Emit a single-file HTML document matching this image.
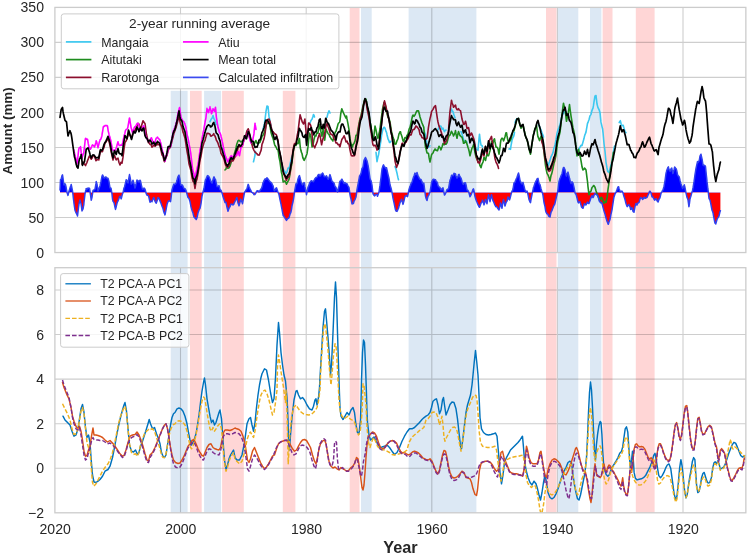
<!DOCTYPE html>
<html><head><meta charset="utf-8"><title>chart</title>
<style>
html,body{margin:0;padding:0;background:#fff;}
body{width:749px;height:556px;overflow:hidden;}
svg{display:block;}
text{font-family:"Liberation Sans",sans-serif;fill:#262626;}
.tk{font-size:14.05px;}
.lg{font-size:12.4px;}
.lg2{font-size:12.3px;}
</style></head><body>
<svg width="749" height="556" viewBox="0 0 749 556">
<rect width="749" height="556" fill="#fff"/>
<defs>
<clipPath id="c1"><rect x="54.9" y="7.4" width="690.95" height="245.15"/></clipPath>
<clipPath id="c2"><rect x="54.9" y="267.7" width="690.95" height="245.09999999999997"/></clipPath>
<clipPath id="ca"><rect x="0" y="0" width="749" height="192.5"/></clipPath>
<clipPath id="cb"><rect x="0" y="192.5" width="749" height="556"/></clipPath>
</defs>

<g>
<rect x="170.7" y="90.8" width="16.9" height="422.0" fill="#dce8f4"/>
<rect x="190.0" y="90.8" width="11.7" height="422.0" fill="#ffd6d6"/>
<rect x="204.1" y="90.8" width="17.0" height="422.0" fill="#dce8f4"/>
<rect x="222.1" y="90.8" width="21.7" height="422.0" fill="#ffd6d6"/>
<rect x="282.8" y="90.8" width="12.6" height="422.0" fill="#ffd6d6"/>
<rect x="349.7" y="7.4" width="9.8" height="505.4" fill="#ffd6d6"/>
<rect x="361.0" y="7.4" width="10.7" height="505.4" fill="#dce8f4"/>
<rect x="408.6" y="7.4" width="67.8" height="505.4" fill="#dce8f4"/>
<rect x="546.0" y="7.4" width="10.5" height="505.4" fill="#ffd6d6"/>
<rect x="557.8" y="7.4" width="20.5" height="505.4" fill="#dce8f4"/>
<rect x="590.0" y="7.4" width="11.4" height="505.4" fill="#dce8f4"/>
<rect x="602.6" y="7.4" width="9.9" height="505.4" fill="#ffd6d6"/>
<rect x="635.8" y="7.4" width="18.8" height="505.4" fill="#ffd6d6"/>
</g>
<g stroke="#cecece" stroke-width="1.1" fill="none" style="mix-blend-mode:multiply">
<path d="M180.5,7.4 V252.55 M180.5,267.7 V512.8"/>
<path d="M306.2,7.4 V252.55 M306.2,267.7 V512.8"/>
<path d="M431.8,7.4 V252.55 M431.8,267.7 V512.8"/>
<path d="M557.4,7.4 V252.55 M557.4,267.7 V512.8"/>
<path d="M683.0,7.4 V252.55 M683.0,267.7 V512.8"/>
<path d="M54.9,217.5 H745.85"/>
<path d="M54.9,182.5 H745.85"/>
<path d="M54.9,147.5 H745.85"/>
<path d="M54.9,112.5 H745.85"/>
<path d="M54.9,77.4 H745.85"/>
<path d="M54.9,42.4 H745.85"/>
<path d="M54.9,468.2 H745.85"/>
<path d="M54.9,423.7 H745.85"/>
<path d="M54.9,379.1 H745.85"/>
<path d="M54.9,334.5 H745.85"/>
<path d="M54.9,290.0 H745.85"/>
</g>
<g clip-path="url(#c1)" fill="none" stroke-linejoin="round" stroke-linecap="round">
<path d="M60.0,192.5 L60.0,190.0 L60.5,179.8 L61.0,179.6 L61.5,177.6 L62.0,175.7 L62.5,174.8 L63.0,178.2 L63.5,182.1 L63.8,184.1 L64.0,184.9 L64.5,184.3 L65.0,183.8 L65.5,184.6 L66.0,186.7 L66.5,189.6 L67.0,192.5 L67.5,193.9 L68.0,195.4 L68.5,193.3 L69.0,191.3 L69.5,189.7 L70.0,188.0 L70.5,186.6 L71.0,185.2 L71.2,184.5 L71.5,185.8 L72.0,188.3 L72.5,190.8 L73.0,194.8 L73.5,199.3 L73.8,201.5 L74.0,203.5 L74.5,206.8 L75.0,210.2 L75.5,211.5 L76.0,212.7 L76.5,213.7 L77.0,214.6 L77.5,216.0 L78.0,211.9 L78.5,207.7 L78.8,205.7 L79.0,204.0 L79.5,201.9 L80.0,199.9 L80.5,201.7 L81.0,203.5 L81.5,207.2 L82.0,210.9 L82.5,210.0 L83.0,209.0 L83.5,206.2 L83.8,204.8 L84.0,202.2 L84.5,198.1 L85.0,193.9 L85.5,191.7 L86.0,189.5 L86.2,188.5 L86.5,188.8 L87.0,189.3 L87.5,188.7 L88.0,188.0 L88.5,188.2 L89.0,188.3 L89.5,188.2 L90.0,191.3 L90.5,194.8 L91.0,198.3 L91.2,200.2 L91.5,199.2 L92.0,197.3 L92.5,193.9 L93.0,190.6 L93.5,190.2 L94.0,189.9 L94.5,189.6 L95.0,189.2 L95.5,186.3 L96.0,183.4 L96.2,181.5 L96.5,182.4 L97.0,184.1 L97.5,187.5 L98.0,191.0 L98.5,189.7 L99.0,188.4 L99.5,187.2 L100.0,186.0 L100.5,183.7 L101.0,181.4 L101.5,178.8 L102.0,176.2 L102.5,174.9 L103.0,175.7 L103.5,176.8 L104.0,177.9 L104.5,178.0 L105.0,177.4 L105.5,177.1 L106.0,176.8 L106.2,177.1 L106.5,177.5 L107.0,178.3 L107.5,178.2 L108.0,178.2 L108.5,180.0 L109.0,181.8 L109.5,184.8 L110.0,187.8 L110.5,188.0 L111.0,188.2 L111.2,189.1 L111.5,190.8 L112.0,194.1 L112.5,199.0 L113.0,201.2 L113.5,201.9 L114.0,202.5 L114.5,204.9 L115.0,207.3 L115.5,209.4 L116.0,207.5 L116.5,205.4 L117.0,203.3 L117.5,201.7 L118.0,201.0 L118.5,199.7 L119.0,198.4 L119.5,196.7 L120.0,196.3 L120.5,197.4 L121.0,198.5 L121.2,198.9 L121.5,197.8 L122.0,195.7 L122.5,193.7 L123.0,192.9 L123.5,190.5 L124.0,188.0 L124.5,187.0 L125.0,185.0 L125.5,182.8 L126.0,180.6 L126.2,179.7 L126.5,180.0 L127.0,180.7 L127.5,181.9 L128.0,183.0 L128.5,180.2 L129.0,177.4 L129.5,174.6 L130.0,176.8 L130.5,179.7 L131.0,182.7 L131.2,184.1 L131.5,183.8 L132.0,183.3 L132.5,181.8 L133.0,180.3 L133.5,182.0 L134.0,183.6 L134.5,185.8 L135.0,188.0 L135.5,186.2 L136.0,184.3 L136.5,182.2 L137.0,180.0 L137.5,180.4 L138.0,180.7 L138.5,181.3 L139.0,181.9 L139.5,181.1 L140.0,180.2 L140.5,180.9 L141.0,183.8 L141.5,185.7 L142.0,187.5 L142.5,189.0 L143.0,188.9 L143.5,188.5 L144.0,188.0 L144.5,188.6 L145.0,189.1 L145.5,191.0 L146.0,192.9 L146.5,194.1 L147.0,195.3 L147.5,195.3 L148.0,195.4 L148.5,196.2 L148.8,196.6 L149.0,197.9 L149.5,200.0 L150.0,202.2 L150.5,201.7 L151.0,201.3 L151.5,201.4 L152.0,201.6 L152.5,200.3 L153.0,199.1 L153.5,198.0 L153.8,197.5 L154.0,197.9 L154.5,199.6 L155.0,201.3 L155.5,202.1 L156.0,202.9 L156.2,203.1 L156.5,202.5 L157.0,201.1 L157.5,199.2 L158.0,197.4 L158.5,198.0 L159.0,198.6 L159.5,199.7 L160.0,200.9 L160.5,202.1 L161.0,203.3 L161.5,204.7 L162.0,206.1 L162.5,207.3 L163.0,208.6 L163.5,210.7 L163.8,211.8 L164.0,212.4 L164.5,213.6 L165.0,214.9 L165.5,212.4 L166.0,209.9 L166.5,207.2 L167.0,204.5 L167.5,203.1 L168.0,201.7 L168.5,201.1 L168.8,200.8 L169.0,201.1 L169.5,201.0 L170.0,200.9 L170.5,201.7 L171.0,198.3 L171.5,194.0 L172.0,189.7 L172.5,188.1 L173.0,186.4 L173.5,185.0 L173.8,184.3 L174.0,184.1 L174.5,184.3 L175.0,184.4 L175.5,183.8 L176.0,183.2 L176.2,182.9 L176.5,182.0 L177.0,180.3 L177.5,178.2 L178.0,176.6 L178.5,175.8 L179.0,175.1 L179.5,177.5 L180.0,179.9 L180.5,183.8 L181.0,185.2 L181.5,185.1 L182.0,184.9 L182.5,185.2 L183.0,186.4 L183.5,187.4 L184.0,188.3 L184.5,188.8 L185.0,188.7 L185.5,189.5 L186.0,190.4 L186.2,191.2 L186.5,192.1 L187.0,194.1 L187.5,195.8 L188.0,197.5 L188.5,198.0 L189.0,198.4 L189.5,199.9 L190.0,201.5 L190.5,204.2 L191.0,206.9 L191.5,208.6 L192.0,210.4 L192.5,211.7 L193.0,213.1 L193.5,215.3 L193.8,216.3 L194.0,216.9 L194.5,217.5 L195.0,218.1 L195.5,218.6 L196.0,219.0 L196.2,219.6 L196.5,219.0 L197.0,217.8 L197.5,215.3 L198.0,212.8 L198.5,211.4 L199.0,210.1 L199.5,209.2 L200.0,208.4 L200.5,206.0 L201.0,203.6 L201.5,199.9 L202.0,196.1 L202.5,194.1 L203.0,192.0 L203.5,190.2 L203.8,189.2 L204.0,188.5 L204.5,185.3 L205.0,182.0 L205.5,179.8 L206.0,178.8 L206.5,177.7 L207.0,176.6 L207.5,175.6 L208.0,175.8 L208.5,176.3 L209.0,176.8 L209.5,177.9 L210.0,179.0 L210.5,180.3 L211.0,181.7 L211.5,182.4 L212.0,183.1 L212.5,181.4 L213.0,179.7 L213.5,178.0 L213.8,177.2 L214.0,176.9 L214.5,178.0 L215.0,179.1 L215.5,179.6 L216.0,181.8 L216.5,184.2 L217.0,186.5 L217.5,186.5 L218.0,186.4 L218.5,186.1 L219.0,185.7 L219.5,187.6 L220.0,189.6 L220.5,189.9 L221.0,190.3 L221.5,191.7 L222.0,193.1 L222.5,194.6 L223.0,196.5 L223.5,198.0 L224.0,199.5 L224.5,201.0 L225.0,202.6 L225.5,202.4 L226.0,202.3 L226.2,203.5 L226.5,204.8 L227.0,207.3 L227.5,209.3 L228.0,211.2 L228.5,209.8 L229.0,208.3 L229.5,207.5 L230.0,206.6 L230.5,205.4 L231.0,204.1 L231.5,204.2 L232.0,204.3 L232.5,204.6 L233.0,205.0 L233.5,204.5 L233.8,204.3 L234.0,203.4 L234.5,202.4 L235.0,201.4 L235.5,200.5 L236.0,199.5 L236.5,198.2 L236.8,197.5 L237.0,198.3 L237.5,200.6 L238.0,202.9 L238.5,204.3 L239.0,205.7 L239.5,204.0 L240.0,202.4 L240.5,200.2 L240.8,199.1 L241.0,199.9 L241.5,201.1 L242.0,202.2 L242.5,203.7 L243.0,200.9 L243.5,197.9 L244.0,195.0 L244.5,192.5 L245.0,191.6 L245.5,190.8 L246.0,190.0 L246.5,189.5 L247.0,188.6 L247.5,186.7 L248.0,184.9 L248.2,184.4 L248.5,185.1 L249.0,186.5 L249.5,187.7 L250.0,188.9 L250.5,189.8 L251.0,190.7 L251.5,192.3 L252.0,192.2 L252.5,192.7 L253.0,193.2 L253.2,193.1 L253.5,193.6 L254.0,194.7 L254.5,194.6 L255.0,194.5 L255.5,193.6 L256.0,192.7 L256.5,191.7 L257.0,190.8 L257.5,190.7 L258.0,190.7 L258.5,191.3 L259.0,191.9 L259.5,191.5 L260.0,190.4 L260.5,189.7 L261.0,189.0 L261.5,188.2 L262.0,187.2 L262.5,185.1 L263.0,182.9 L263.2,182.4 L263.5,181.8 L264.0,180.6 L264.5,179.8 L265.0,179.0 L265.5,179.1 L266.0,179.2 L266.5,178.5 L267.0,177.8 L267.5,178.4 L268.0,179.0 L268.5,179.7 L269.0,180.4 L269.5,181.1 L270.0,181.7 L270.5,182.0 L270.8,182.1 L271.0,182.5 L271.5,183.1 L272.0,183.8 L272.5,184.9 L273.0,185.6 L273.5,187.8 L274.0,190.0 L274.5,190.7 L275.0,190.2 L275.5,189.1 L276.0,188.1 L276.5,187.8 L277.0,189.3 L277.5,190.7 L278.0,192.1 L278.2,192.6 L278.5,193.3 L279.0,194.6 L279.5,197.2 L280.0,199.7 L280.5,201.9 L281.0,204.2 L281.5,206.9 L282.0,209.3 L282.5,212.0 L283.0,214.6 L283.2,215.6 L283.5,215.8 L284.0,216.3 L284.5,217.2 L285.0,218.1 L285.5,218.9 L286.0,219.7 L286.5,220.4 L287.0,219.4 L287.5,218.9 L288.0,218.3 L288.2,218.3 L288.5,218.2 L289.0,217.8 L289.5,216.1 L290.0,214.3 L290.5,213.1 L291.0,211.9 L291.5,209.3 L292.0,205.8 L292.5,203.8 L293.0,201.8 L293.2,200.5 L293.5,198.9 L294.0,195.7 L294.5,191.9 L295.0,189.1 L295.5,186.4 L296.0,183.7 L296.5,183.7 L297.0,183.7 L297.5,181.1 L298.0,178.9 L298.5,177.6 L299.0,176.3 L299.5,175.6 L300.0,177.8 L300.5,179.6 L301.0,181.4 L301.5,182.7 L302.0,184.0 L302.5,184.9 L303.0,184.2 L303.5,183.4 L304.0,182.6 L304.5,183.2 L305.0,186.9 L305.5,189.2 L306.0,191.5 L306.5,194.7 L307.0,192.2 L307.5,189.7 L308.0,187.2 L308.5,186.1 L309.0,185.1 L309.5,183.1 L310.0,182.2 L310.5,181.7 L311.0,181.1 L311.5,180.7 L312.0,181.2 L312.5,181.2 L313.0,181.3 L313.2,181.8 L313.5,181.4 L314.0,180.7 L314.5,179.6 L315.0,178.5 L315.5,178.0 L316.0,177.4 L316.5,177.4 L317.0,177.3 L317.5,176.2 L318.0,175.1 L318.5,174.7 L319.0,174.4 L319.5,175.3 L320.0,176.1 L320.5,175.7 L320.8,175.4 L321.0,174.3 L321.5,174.1 L322.0,173.9 L322.5,173.0 L323.0,173.5 L323.5,174.8 L324.0,176.0 L324.5,176.7 L325.0,176.4 L325.5,176.4 L326.0,176.4 L326.5,175.9 L327.0,176.8 L327.5,177.9 L328.0,179.0 L328.2,179.2 L328.5,178.6 L329.0,177.5 L329.5,176.0 L330.0,174.6 L330.5,176.3 L331.0,178.0 L331.5,179.6 L332.0,181.2 L332.5,181.7 L333.0,182.2 L333.5,182.6 L334.0,183.0 L334.5,184.8 L335.0,186.6 L335.5,186.8 L335.8,187.0 L336.0,187.4 L336.5,189.2 L337.0,191.1 L337.5,192.0 L338.0,189.4 L338.5,187.7 L339.0,186.1 L339.5,182.8 L340.0,181.1 L340.5,180.9 L341.0,180.7 L341.5,179.5 L342.0,179.2 L342.5,180.3 L343.0,181.5 L343.5,182.2 L344.0,183.6 L344.5,183.0 L345.0,182.5 L345.5,183.6 L346.0,183.4 L346.5,183.6 L347.0,183.8 L347.5,184.8 L348.0,185.8 L348.5,186.7 L349.0,187.5 L349.5,191.1 L350.0,194.7 L350.5,197.0 L351.0,198.9 L351.5,201.4 L352.0,203.9 L352.5,203.8 L353.0,203.7 L353.5,203.3 L354.0,201.3 L354.5,200.4 L355.0,199.6 L355.5,198.2 L356.0,196.9 L356.5,193.6 L357.0,189.6 L357.5,187.0 L358.0,184.3 L358.5,181.7 L359.0,179.1 L359.5,176.1 L360.0,175.5 L360.5,174.4 L361.0,173.3 L361.5,170.8 L362.0,168.3 L362.5,168.0 L363.0,166.8 L363.5,163.6 L364.0,160.3 L364.5,159.3 L365.0,158.3 L365.5,157.5 L366.0,158.7 L366.5,159.7 L367.0,160.8 L367.5,163.0 L368.0,165.1 L368.5,168.1 L369.0,171.4 L369.5,175.0 L370.0,178.5 L370.5,179.7 L371.0,180.8 L371.5,182.8 L372.0,185.2 L372.5,189.5 L373.0,193.8 L373.5,194.5 L374.0,195.2 L374.5,195.9 L375.0,195.4 L375.5,194.8 L376.0,194.3 L376.5,194.5 L377.0,194.7 L377.5,196.2 L378.0,194.7 L378.5,193.4 L379.0,192.1 L379.5,188.7 L380.0,185.4 L380.5,181.4 L381.0,177.8 L381.5,173.4 L382.0,169.0 L382.5,167.4 L383.0,165.8 L383.5,164.9 L384.0,166.1 L384.5,166.7 L385.0,167.3 L385.5,167.9 L386.0,168.6 L386.5,167.7 L387.0,169.8 L387.5,172.1 L388.0,174.3 L388.5,176.4 L389.0,178.5 L389.5,181.6 L390.0,184.8 L390.5,186.4 L391.0,188.0 L391.5,190.2 L392.0,192.3 L392.5,195.1 L393.0,198.0 L393.5,200.4 L394.0,202.7 L394.5,205.1 L395.0,207.6 L395.5,209.9 L396.0,211.0 L396.5,211.2 L397.0,211.4 L397.5,210.4 L398.0,209.3 L398.5,208.2 L399.0,206.3 L399.5,204.5 L400.0,202.7 L400.5,201.6 L401.0,200.5 L401.5,199.2 L402.0,200.9 L402.5,202.6 L403.0,204.4 L403.5,202.6 L404.0,200.8 L404.5,198.3 L405.0,196.6 L405.5,196.0 L406.0,195.5 L406.5,195.8 L407.0,196.2 L407.5,196.6 L408.0,194.6 L408.5,192.0 L409.0,189.4 L409.5,187.9 L410.0,186.3 L410.5,185.2 L411.0,183.7 L411.5,182.9 L412.0,182.1 L412.5,180.4 L413.0,178.7 L413.5,177.1 L414.0,176.0 L414.5,174.5 L415.0,173.1 L415.5,173.8 L416.0,174.6 L416.5,174.0 L417.0,172.5 L417.5,174.1 L418.0,175.6 L418.5,176.6 L419.0,177.6 L419.5,178.6 L420.0,179.2 L420.5,179.4 L421.0,179.5 L421.5,180.6 L422.0,181.6 L422.5,183.3 L423.0,183.8 L423.5,183.3 L423.8,183.1 L424.0,184.7 L424.5,188.5 L425.0,192.3 L425.5,196.1 L426.0,198.2 L426.5,199.4 L427.0,200.5 L427.5,198.4 L428.0,196.3 L428.5,195.6 L429.0,194.6 L429.5,193.3 L430.0,192.1 L430.5,189.2 L431.0,186.3 L431.5,182.8 L432.0,181.2 L432.5,180.3 L433.0,179.4 L433.5,179.2 L434.0,179.6 L434.5,179.6 L435.0,179.6 L435.5,179.8 L436.0,181.0 L436.5,181.5 L437.0,182.0 L437.5,183.0 L438.0,185.6 L438.5,186.2 L439.0,186.9 L439.5,187.2 L440.0,187.6 L440.5,188.7 L441.0,189.9 L441.5,189.4 L442.0,188.9 L442.5,188.4 L443.0,187.8 L443.5,190.4 L444.0,192.9 L444.5,195.0 L445.0,194.4 L445.5,193.4 L446.0,192.5 L446.5,190.7 L447.0,189.6 L447.5,189.3 L448.0,189.0 L448.5,188.8 L449.0,186.1 L449.5,183.2 L450.0,180.3 L450.5,179.0 L451.0,177.6 L451.5,175.4 L452.0,175.1 L452.5,175.4 L453.0,175.7 L453.5,175.1 L454.0,173.3 L454.5,173.7 L455.0,174.1 L455.5,173.8 L456.0,176.0 L456.5,177.0 L457.0,178.1 L457.5,177.3 L458.0,176.5 L458.5,174.6 L459.0,174.4 L459.5,175.6 L460.0,176.7 L460.5,177.4 L461.0,178.0 L461.5,179.7 L462.0,181.4 L462.5,182.7 L463.0,184.1 L463.5,184.4 L464.0,183.2 L464.5,183.0 L465.0,182.7 L465.5,183.0 L466.0,184.7 L466.5,187.3 L467.0,189.9 L467.5,190.2 L468.0,190.5 L468.5,191.6 L469.0,193.1 L469.5,194.9 L470.0,196.7 L470.5,195.8 L471.0,194.9 L471.5,193.7 L472.0,192.3 L472.5,190.8 L473.0,189.3 L473.5,188.9 L474.0,191.0 L474.5,193.8 L475.0,196.6 L475.5,198.2 L476.0,199.7 L476.5,201.2 L477.0,202.3 L477.5,203.5 L478.0,204.7 L478.5,205.7 L479.0,206.7 L479.5,207.3 L480.0,206.1 L480.5,204.7 L481.0,203.3 L481.5,202.6 L482.0,201.9 L482.5,200.1 L483.0,201.2 L483.5,203.0 L484.0,204.9 L484.5,203.3 L485.0,201.7 L485.5,199.5 L486.0,200.7 L486.5,202.2 L487.0,203.7 L487.5,200.5 L488.0,197.4 L488.5,194.8 L489.0,196.7 L489.5,199.2 L490.0,201.7 L490.5,199.3 L491.0,196.8 L491.5,194.7 L492.0,197.2 L492.5,198.9 L493.0,200.7 L493.5,201.7 L494.0,202.7 L494.5,204.1 L495.0,205.2 L495.5,206.0 L496.0,206.8 L496.5,206.8 L497.0,206.9 L497.5,208.0 L498.0,208.7 L498.5,209.3 L499.0,209.9 L499.5,208.0 L500.0,206.1 L500.5,203.0 L501.0,204.2 L501.5,206.2 L502.0,208.2 L502.5,204.8 L503.0,201.4 L503.5,199.4 L504.0,201.6 L504.5,203.8 L505.0,206.0 L505.5,204.4 L506.0,202.7 L506.5,201.7 L507.0,201.1 L507.5,199.0 L508.0,196.9 L508.5,198.1 L509.0,199.2 L509.5,199.9 L510.0,198.5 L510.5,196.5 L511.0,194.6 L511.5,192.8 L512.0,191.1 L512.5,190.4 L513.0,189.0 L513.5,186.0 L514.0,182.9 L514.5,182.6 L515.0,182.2 L515.5,180.6 L516.0,179.5 L516.5,178.4 L517.0,177.3 L517.5,175.8 L518.0,174.3 L518.5,172.9 L519.0,174.9 L519.5,177.6 L520.0,180.4 L520.5,181.4 L521.0,182.5 L521.5,183.7 L522.0,183.8 L522.5,183.1 L523.0,182.4 L523.5,184.4 L524.0,186.3 L524.5,188.2 L525.0,189.7 L525.5,191.0 L526.0,192.4 L526.5,191.7 L527.0,191.1 L527.5,192.5 L528.0,194.7 L528.5,197.1 L529.0,199.5 L529.5,200.8 L530.0,202.0 L530.5,202.6 L531.0,199.5 L531.5,197.1 L532.0,194.6 L532.5,192.2 L533.0,189.9 L533.5,187.4 L534.0,186.3 L534.5,184.7 L535.0,183.1 L535.5,182.1 L536.0,181.1 L536.5,180.1 L537.0,179.0 L537.5,178.7 L538.0,178.4 L538.5,180.8 L539.0,183.3 L539.5,184.1 L540.0,184.6 L540.5,186.7 L541.0,188.7 L541.5,190.5 L542.0,192.3 L542.5,193.0 L543.0,195.4 L543.5,198.9 L544.0,202.5 L544.5,204.6 L545.0,206.6 L545.5,210.0 L546.0,212.1 L546.5,213.0 L547.0,213.8 L547.5,214.1 L548.0,214.3 L548.5,216.0 L549.0,216.4 L549.5,216.7 L550.0,217.0 L550.5,214.7 L551.0,212.5 L551.5,211.3 L552.0,210.6 L552.5,209.1 L553.0,207.7 L553.5,206.5 L554.0,205.3 L554.5,204.7 L555.0,203.2 L555.5,201.0 L556.0,198.8 L556.5,196.7 L557.0,194.6 L557.5,192.3 L558.0,189.6 L558.5,185.5 L559.0,181.5 L559.5,179.9 L560.0,178.3 L560.5,177.3 L561.0,175.9 L561.5,174.8 L562.0,173.7 L562.5,171.3 L563.0,168.9 L563.5,167.4 L564.0,167.5 L564.5,168.6 L565.0,169.6 L565.5,172.4 L566.0,175.2 L566.5,176.1 L567.0,174.0 L567.5,173.1 L568.0,172.1 L568.5,174.1 L569.0,176.1 L569.5,178.3 L570.0,180.1 L570.5,181.8 L571.0,183.5 L571.5,182.7 L572.0,181.8 L572.5,182.3 L573.0,183.1 L573.5,185.3 L574.0,187.5 L574.5,190.1 L575.0,192.7 L575.5,194.0 L576.0,194.0 L576.5,196.0 L577.0,197.9 L577.5,200.0 L578.0,202.1 L578.5,202.9 L579.0,202.0 L579.5,201.9 L580.0,201.8 L580.5,203.5 L581.0,205.1 L581.5,207.0 L582.0,207.6 L582.5,207.9 L583.0,208.3 L583.5,206.6 L584.0,204.9 L584.5,203.6 L585.0,204.7 L585.5,204.8 L586.0,204.9 L586.5,203.9 L587.0,202.9 L587.5,202.1 L588.0,203.3 L588.5,203.4 L589.0,203.5 L589.5,202.1 L590.0,200.7 L590.5,199.3 L591.0,197.8 L591.5,196.8 L592.0,195.7 L592.5,196.6 L593.0,197.6 L593.5,196.8 L594.0,195.3 L594.5,194.4 L595.0,193.6 L595.5,193.9 L596.0,194.3 L596.5,194.6 L597.0,194.9 L597.5,195.6 L598.0,196.2 L598.5,198.1 L599.0,199.9 L599.5,201.6 L600.0,201.9 L600.5,202.4 L601.0,202.9 L601.4,202.5 L601.5,202.6 L602.0,203.5 L602.5,205.4 L603.0,207.4 L603.5,209.1 L603.7,209.9 L604.0,211.0 L604.5,212.6 L605.0,214.1 L605.5,216.0 L606.0,217.9 L606.0,218.0 L606.5,219.6 L607.0,221.3 L607.5,222.5 L608.0,223.8 L608.3,224.3 L608.5,223.7 L609.0,222.1 L609.5,220.8 L610.0,219.5 L610.0,219.4 L610.5,216.8 L611.0,214.2 L611.5,212.1 L611.7,211.2 L612.0,209.8 L612.5,206.5 L613.0,203.2 L613.5,200.0 L613.5,199.7 L614.0,196.9 L614.5,195.5 L615.0,194.0 L615.2,193.5 L615.5,193.0 L616.0,192.4 L616.5,190.9 L616.9,189.8 L617.0,189.6 L617.5,188.3 L618.0,187.0 L618.5,186.8 L618.6,186.8 L619.0,188.4 L619.5,189.7 L620.0,191.1 L620.3,191.9 L620.5,191.8 L621.0,191.5 L621.5,191.3 L622.0,191.2 L622.0,191.1 L622.5,192.0 L623.0,192.9 L623.5,194.7 L623.7,195.6 L624.0,196.6 L624.5,198.0 L625.0,199.5 L625.5,201.5 L625.5,201.7 L626.0,203.5 L626.5,204.9 L627.0,206.3 L627.2,206.6 L627.5,206.2 L628.0,205.5 L628.5,204.9 L628.9,204.5 L629.0,204.8 L629.5,205.9 L630.0,206.9 L630.5,209.0 L630.6,209.4 L631.0,209.4 L631.5,208.5 L632.0,207.7 L632.3,208.4 L632.5,209.2 L633.0,211.4 L633.5,211.8 L634.0,212.2 L634.0,212.1 L634.5,209.5 L635.0,206.6 L635.5,204.9 L635.8,204.0 L636.0,203.4 L636.5,204.2 L637.0,205.1 L637.5,203.8 L637.5,203.8 L638.0,202.8 L638.5,202.7 L639.0,202.5 L639.2,202.1 L639.5,201.0 L640.0,199.1 L640.5,198.2 L640.9,197.6 L641.0,197.7 L641.5,198.1 L642.0,198.4 L642.5,199.3 L642.6,199.5 L643.0,199.2 L643.5,198.2 L644.0,197.2 L644.3,197.1 L644.5,197.4 L645.0,198.4 L645.5,198.1 L646.0,197.8 L646.0,197.9 L646.5,197.7 L647.0,197.6 L647.5,196.3 L647.8,195.7 L648.0,195.1 L648.5,194.2 L649.0,193.2 L649.5,191.4 L649.5,191.4 L650.0,191.2 L650.5,192.0 L651.0,192.9 L651.2,193.7 L651.5,194.9 L652.0,196.9 L652.5,197.0 L652.9,197.0 L653.0,197.0 L653.5,198.1 L654.0,199.1 L654.5,200.0 L654.6,200.2 L655.0,199.9 L655.5,199.3 L656.0,198.7 L656.3,198.7 L656.5,199.2 L657.0,200.7 L657.5,201.3 L658.0,201.9 L658.1,202.0 L658.5,200.7 L659.0,199.2 L659.5,198.5 L659.8,198.1 L660.0,197.7 L660.5,195.6 L661.0,193.4 L661.5,192.4 L661.5,192.4 L662.0,191.7 L662.5,190.7 L663.0,189.7 L663.2,189.3 L663.5,188.3 L664.0,186.5 L664.5,183.7 L664.9,181.3 L665.0,180.8 L665.5,177.1 L666.0,173.5 L666.5,171.4 L666.6,170.8 L667.0,169.9 L667.5,168.6 L668.0,167.4 L668.4,166.8 L668.5,167.4 L669.0,169.4 L669.5,170.3 L670.0,171.2 L670.1,171.3 L670.5,170.2 L671.0,168.9 L671.5,168.4 L671.8,168.1 L672.0,169.3 L672.5,171.6 L672.9,173.5 L673.0,173.2 L673.5,171.5 L674.0,169.7 L674.5,167.6 L674.6,167.0 L675.0,167.3 L675.5,168.1 L676.0,168.9 L676.4,169.0 L676.5,169.7 L677.0,172.0 L677.5,174.6 L678.0,175.6 L678.5,176.1 L679.0,176.5 L679.2,177.0 L679.5,178.2 L680.0,180.5 L680.5,182.3 L680.9,183.8 L681.0,184.0 L681.5,185.5 L682.0,187.0 L682.5,188.1 L682.6,188.4 L683.0,187.7 L683.5,186.6 L684.0,185.5 L684.4,184.8 L684.5,185.4 L685.0,187.7 L685.5,190.4 L686.0,193.0 L686.1,193.4 L686.5,195.2 L687.0,197.4 L687.5,198.5 L687.8,199.2 L688.0,199.8 L688.5,203.5 L688.9,206.7 L689.0,206.5 L689.5,202.8 L690.0,199.0 L690.5,197.2 L690.7,196.7 L691.0,195.7 L691.5,193.9 L692.0,192.1 L692.4,190.9 L692.5,190.3 L693.0,187.9 L693.5,184.8 L694.0,181.7 L694.1,181.2 L694.5,178.3 L695.0,174.7 L695.5,171.5 L695.8,169.6 L696.0,168.5 L696.5,166.2 L697.0,163.9 L697.5,161.6 L697.5,161.5 L698.0,162.5 L698.5,161.8 L699.0,161.0 L699.2,160.6 L699.5,159.1 L700.0,156.1 L700.5,155.1 L701.0,154.2 L701.0,154.4 L701.5,156.6 L702.0,158.8 L702.1,159.2 L702.5,161.8 L703.0,165.1 L703.5,165.4 L703.8,165.6 L704.0,165.1 L704.5,165.4 L705.0,165.6 L705.5,166.6 L705.5,166.6 L706.0,171.8 L706.5,176.6 L706.7,178.2 L707.0,181.4 L707.5,185.7 L707.8,188.5 L708.0,189.6 L708.5,194.1 L709.0,198.3 L709.0,198.5 L709.5,199.4 L710.0,200.2 L710.5,202.4 L710.7,203.1 L711.0,204.8 L711.5,207.5 L712.0,210.2 L712.4,211.0 L712.5,211.3 L713.0,212.7 L713.5,215.7 L713.5,215.9 L714.0,218.0 L714.5,220.8 L714.7,221.8 L715.0,223.2 L715.5,223.6 L715.8,223.9 L716.0,223.1 L716.5,221.3 L717.0,219.5 L717.5,218.5 L717.5,218.5 L718.0,217.6 L718.5,216.9 L719.0,216.1 L719.2,215.0 L719.5,213.9 L720.0,211.7 L720.4,210.8 L720.4,192.5Z" fill="#0000ff" stroke="none" clip-path="url(#ca)"/>
<path d="M60.0,192.5 L60.0,190.0 L60.5,179.8 L61.0,179.6 L61.5,177.6 L62.0,175.7 L62.5,174.8 L63.0,178.2 L63.5,182.1 L63.8,184.1 L64.0,184.9 L64.5,184.3 L65.0,183.8 L65.5,184.6 L66.0,186.7 L66.5,189.6 L67.0,192.5 L67.5,193.9 L68.0,195.4 L68.5,193.3 L69.0,191.3 L69.5,189.7 L70.0,188.0 L70.5,186.6 L71.0,185.2 L71.2,184.5 L71.5,185.8 L72.0,188.3 L72.5,190.8 L73.0,194.8 L73.5,199.3 L73.8,201.5 L74.0,203.5 L74.5,206.8 L75.0,210.2 L75.5,211.5 L76.0,212.7 L76.5,213.7 L77.0,214.6 L77.5,216.0 L78.0,211.9 L78.5,207.7 L78.8,205.7 L79.0,204.0 L79.5,201.9 L80.0,199.9 L80.5,201.7 L81.0,203.5 L81.5,207.2 L82.0,210.9 L82.5,210.0 L83.0,209.0 L83.5,206.2 L83.8,204.8 L84.0,202.2 L84.5,198.1 L85.0,193.9 L85.5,191.7 L86.0,189.5 L86.2,188.5 L86.5,188.8 L87.0,189.3 L87.5,188.7 L88.0,188.0 L88.5,188.2 L89.0,188.3 L89.5,188.2 L90.0,191.3 L90.5,194.8 L91.0,198.3 L91.2,200.2 L91.5,199.2 L92.0,197.3 L92.5,193.9 L93.0,190.6 L93.5,190.2 L94.0,189.9 L94.5,189.6 L95.0,189.2 L95.5,186.3 L96.0,183.4 L96.2,181.5 L96.5,182.4 L97.0,184.1 L97.5,187.5 L98.0,191.0 L98.5,189.7 L99.0,188.4 L99.5,187.2 L100.0,186.0 L100.5,183.7 L101.0,181.4 L101.5,178.8 L102.0,176.2 L102.5,174.9 L103.0,175.7 L103.5,176.8 L104.0,177.9 L104.5,178.0 L105.0,177.4 L105.5,177.1 L106.0,176.8 L106.2,177.1 L106.5,177.5 L107.0,178.3 L107.5,178.2 L108.0,178.2 L108.5,180.0 L109.0,181.8 L109.5,184.8 L110.0,187.8 L110.5,188.0 L111.0,188.2 L111.2,189.1 L111.5,190.8 L112.0,194.1 L112.5,199.0 L113.0,201.2 L113.5,201.9 L114.0,202.5 L114.5,204.9 L115.0,207.3 L115.5,209.4 L116.0,207.5 L116.5,205.4 L117.0,203.3 L117.5,201.7 L118.0,201.0 L118.5,199.7 L119.0,198.4 L119.5,196.7 L120.0,196.3 L120.5,197.4 L121.0,198.5 L121.2,198.9 L121.5,197.8 L122.0,195.7 L122.5,193.7 L123.0,192.9 L123.5,190.5 L124.0,188.0 L124.5,187.0 L125.0,185.0 L125.5,182.8 L126.0,180.6 L126.2,179.7 L126.5,180.0 L127.0,180.7 L127.5,181.9 L128.0,183.0 L128.5,180.2 L129.0,177.4 L129.5,174.6 L130.0,176.8 L130.5,179.7 L131.0,182.7 L131.2,184.1 L131.5,183.8 L132.0,183.3 L132.5,181.8 L133.0,180.3 L133.5,182.0 L134.0,183.6 L134.5,185.8 L135.0,188.0 L135.5,186.2 L136.0,184.3 L136.5,182.2 L137.0,180.0 L137.5,180.4 L138.0,180.7 L138.5,181.3 L139.0,181.9 L139.5,181.1 L140.0,180.2 L140.5,180.9 L141.0,183.8 L141.5,185.7 L142.0,187.5 L142.5,189.0 L143.0,188.9 L143.5,188.5 L144.0,188.0 L144.5,188.6 L145.0,189.1 L145.5,191.0 L146.0,192.9 L146.5,194.1 L147.0,195.3 L147.5,195.3 L148.0,195.4 L148.5,196.2 L148.8,196.6 L149.0,197.9 L149.5,200.0 L150.0,202.2 L150.5,201.7 L151.0,201.3 L151.5,201.4 L152.0,201.6 L152.5,200.3 L153.0,199.1 L153.5,198.0 L153.8,197.5 L154.0,197.9 L154.5,199.6 L155.0,201.3 L155.5,202.1 L156.0,202.9 L156.2,203.1 L156.5,202.5 L157.0,201.1 L157.5,199.2 L158.0,197.4 L158.5,198.0 L159.0,198.6 L159.5,199.7 L160.0,200.9 L160.5,202.1 L161.0,203.3 L161.5,204.7 L162.0,206.1 L162.5,207.3 L163.0,208.6 L163.5,210.7 L163.8,211.8 L164.0,212.4 L164.5,213.6 L165.0,214.9 L165.5,212.4 L166.0,209.9 L166.5,207.2 L167.0,204.5 L167.5,203.1 L168.0,201.7 L168.5,201.1 L168.8,200.8 L169.0,201.1 L169.5,201.0 L170.0,200.9 L170.5,201.7 L171.0,198.3 L171.5,194.0 L172.0,189.7 L172.5,188.1 L173.0,186.4 L173.5,185.0 L173.8,184.3 L174.0,184.1 L174.5,184.3 L175.0,184.4 L175.5,183.8 L176.0,183.2 L176.2,182.9 L176.5,182.0 L177.0,180.3 L177.5,178.2 L178.0,176.6 L178.5,175.8 L179.0,175.1 L179.5,177.5 L180.0,179.9 L180.5,183.8 L181.0,185.2 L181.5,185.1 L182.0,184.9 L182.5,185.2 L183.0,186.4 L183.5,187.4 L184.0,188.3 L184.5,188.8 L185.0,188.7 L185.5,189.5 L186.0,190.4 L186.2,191.2 L186.5,192.1 L187.0,194.1 L187.5,195.8 L188.0,197.5 L188.5,198.0 L189.0,198.4 L189.5,199.9 L190.0,201.5 L190.5,204.2 L191.0,206.9 L191.5,208.6 L192.0,210.4 L192.5,211.7 L193.0,213.1 L193.5,215.3 L193.8,216.3 L194.0,216.9 L194.5,217.5 L195.0,218.1 L195.5,218.6 L196.0,219.0 L196.2,219.6 L196.5,219.0 L197.0,217.8 L197.5,215.3 L198.0,212.8 L198.5,211.4 L199.0,210.1 L199.5,209.2 L200.0,208.4 L200.5,206.0 L201.0,203.6 L201.5,199.9 L202.0,196.1 L202.5,194.1 L203.0,192.0 L203.5,190.2 L203.8,189.2 L204.0,188.5 L204.5,185.3 L205.0,182.0 L205.5,179.8 L206.0,178.8 L206.5,177.7 L207.0,176.6 L207.5,175.6 L208.0,175.8 L208.5,176.3 L209.0,176.8 L209.5,177.9 L210.0,179.0 L210.5,180.3 L211.0,181.7 L211.5,182.4 L212.0,183.1 L212.5,181.4 L213.0,179.7 L213.5,178.0 L213.8,177.2 L214.0,176.9 L214.5,178.0 L215.0,179.1 L215.5,179.6 L216.0,181.8 L216.5,184.2 L217.0,186.5 L217.5,186.5 L218.0,186.4 L218.5,186.1 L219.0,185.7 L219.5,187.6 L220.0,189.6 L220.5,189.9 L221.0,190.3 L221.5,191.7 L222.0,193.1 L222.5,194.6 L223.0,196.5 L223.5,198.0 L224.0,199.5 L224.5,201.0 L225.0,202.6 L225.5,202.4 L226.0,202.3 L226.2,203.5 L226.5,204.8 L227.0,207.3 L227.5,209.3 L228.0,211.2 L228.5,209.8 L229.0,208.3 L229.5,207.5 L230.0,206.6 L230.5,205.4 L231.0,204.1 L231.5,204.2 L232.0,204.3 L232.5,204.6 L233.0,205.0 L233.5,204.5 L233.8,204.3 L234.0,203.4 L234.5,202.4 L235.0,201.4 L235.5,200.5 L236.0,199.5 L236.5,198.2 L236.8,197.5 L237.0,198.3 L237.5,200.6 L238.0,202.9 L238.5,204.3 L239.0,205.7 L239.5,204.0 L240.0,202.4 L240.5,200.2 L240.8,199.1 L241.0,199.9 L241.5,201.1 L242.0,202.2 L242.5,203.7 L243.0,200.9 L243.5,197.9 L244.0,195.0 L244.5,192.5 L245.0,191.6 L245.5,190.8 L246.0,190.0 L246.5,189.5 L247.0,188.6 L247.5,186.7 L248.0,184.9 L248.2,184.4 L248.5,185.1 L249.0,186.5 L249.5,187.7 L250.0,188.9 L250.5,189.8 L251.0,190.7 L251.5,192.3 L252.0,192.2 L252.5,192.7 L253.0,193.2 L253.2,193.1 L253.5,193.6 L254.0,194.7 L254.5,194.6 L255.0,194.5 L255.5,193.6 L256.0,192.7 L256.5,191.7 L257.0,190.8 L257.5,190.7 L258.0,190.7 L258.5,191.3 L259.0,191.9 L259.5,191.5 L260.0,190.4 L260.5,189.7 L261.0,189.0 L261.5,188.2 L262.0,187.2 L262.5,185.1 L263.0,182.9 L263.2,182.4 L263.5,181.8 L264.0,180.6 L264.5,179.8 L265.0,179.0 L265.5,179.1 L266.0,179.2 L266.5,178.5 L267.0,177.8 L267.5,178.4 L268.0,179.0 L268.5,179.7 L269.0,180.4 L269.5,181.1 L270.0,181.7 L270.5,182.0 L270.8,182.1 L271.0,182.5 L271.5,183.1 L272.0,183.8 L272.5,184.9 L273.0,185.6 L273.5,187.8 L274.0,190.0 L274.5,190.7 L275.0,190.2 L275.5,189.1 L276.0,188.1 L276.5,187.8 L277.0,189.3 L277.5,190.7 L278.0,192.1 L278.2,192.6 L278.5,193.3 L279.0,194.6 L279.5,197.2 L280.0,199.7 L280.5,201.9 L281.0,204.2 L281.5,206.9 L282.0,209.3 L282.5,212.0 L283.0,214.6 L283.2,215.6 L283.5,215.8 L284.0,216.3 L284.5,217.2 L285.0,218.1 L285.5,218.9 L286.0,219.7 L286.5,220.4 L287.0,219.4 L287.5,218.9 L288.0,218.3 L288.2,218.3 L288.5,218.2 L289.0,217.8 L289.5,216.1 L290.0,214.3 L290.5,213.1 L291.0,211.9 L291.5,209.3 L292.0,205.8 L292.5,203.8 L293.0,201.8 L293.2,200.5 L293.5,198.9 L294.0,195.7 L294.5,191.9 L295.0,189.1 L295.5,186.4 L296.0,183.7 L296.5,183.7 L297.0,183.7 L297.5,181.1 L298.0,178.9 L298.5,177.6 L299.0,176.3 L299.5,175.6 L300.0,177.8 L300.5,179.6 L301.0,181.4 L301.5,182.7 L302.0,184.0 L302.5,184.9 L303.0,184.2 L303.5,183.4 L304.0,182.6 L304.5,183.2 L305.0,186.9 L305.5,189.2 L306.0,191.5 L306.5,194.7 L307.0,192.2 L307.5,189.7 L308.0,187.2 L308.5,186.1 L309.0,185.1 L309.5,183.1 L310.0,182.2 L310.5,181.7 L311.0,181.1 L311.5,180.7 L312.0,181.2 L312.5,181.2 L313.0,181.3 L313.2,181.8 L313.5,181.4 L314.0,180.7 L314.5,179.6 L315.0,178.5 L315.5,178.0 L316.0,177.4 L316.5,177.4 L317.0,177.3 L317.5,176.2 L318.0,175.1 L318.5,174.7 L319.0,174.4 L319.5,175.3 L320.0,176.1 L320.5,175.7 L320.8,175.4 L321.0,174.3 L321.5,174.1 L322.0,173.9 L322.5,173.0 L323.0,173.5 L323.5,174.8 L324.0,176.0 L324.5,176.7 L325.0,176.4 L325.5,176.4 L326.0,176.4 L326.5,175.9 L327.0,176.8 L327.5,177.9 L328.0,179.0 L328.2,179.2 L328.5,178.6 L329.0,177.5 L329.5,176.0 L330.0,174.6 L330.5,176.3 L331.0,178.0 L331.5,179.6 L332.0,181.2 L332.5,181.7 L333.0,182.2 L333.5,182.6 L334.0,183.0 L334.5,184.8 L335.0,186.6 L335.5,186.8 L335.8,187.0 L336.0,187.4 L336.5,189.2 L337.0,191.1 L337.5,192.0 L338.0,189.4 L338.5,187.7 L339.0,186.1 L339.5,182.8 L340.0,181.1 L340.5,180.9 L341.0,180.7 L341.5,179.5 L342.0,179.2 L342.5,180.3 L343.0,181.5 L343.5,182.2 L344.0,183.6 L344.5,183.0 L345.0,182.5 L345.5,183.6 L346.0,183.4 L346.5,183.6 L347.0,183.8 L347.5,184.8 L348.0,185.8 L348.5,186.7 L349.0,187.5 L349.5,191.1 L350.0,194.7 L350.5,197.0 L351.0,198.9 L351.5,201.4 L352.0,203.9 L352.5,203.8 L353.0,203.7 L353.5,203.3 L354.0,201.3 L354.5,200.4 L355.0,199.6 L355.5,198.2 L356.0,196.9 L356.5,193.6 L357.0,189.6 L357.5,187.0 L358.0,184.3 L358.5,181.7 L359.0,179.1 L359.5,176.1 L360.0,175.5 L360.5,174.4 L361.0,173.3 L361.5,170.8 L362.0,168.3 L362.5,168.0 L363.0,166.8 L363.5,163.6 L364.0,160.3 L364.5,159.3 L365.0,158.3 L365.5,157.5 L366.0,158.7 L366.5,159.7 L367.0,160.8 L367.5,163.0 L368.0,165.1 L368.5,168.1 L369.0,171.4 L369.5,175.0 L370.0,178.5 L370.5,179.7 L371.0,180.8 L371.5,182.8 L372.0,185.2 L372.5,189.5 L373.0,193.8 L373.5,194.5 L374.0,195.2 L374.5,195.9 L375.0,195.4 L375.5,194.8 L376.0,194.3 L376.5,194.5 L377.0,194.7 L377.5,196.2 L378.0,194.7 L378.5,193.4 L379.0,192.1 L379.5,188.7 L380.0,185.4 L380.5,181.4 L381.0,177.8 L381.5,173.4 L382.0,169.0 L382.5,167.4 L383.0,165.8 L383.5,164.9 L384.0,166.1 L384.5,166.7 L385.0,167.3 L385.5,167.9 L386.0,168.6 L386.5,167.7 L387.0,169.8 L387.5,172.1 L388.0,174.3 L388.5,176.4 L389.0,178.5 L389.5,181.6 L390.0,184.8 L390.5,186.4 L391.0,188.0 L391.5,190.2 L392.0,192.3 L392.5,195.1 L393.0,198.0 L393.5,200.4 L394.0,202.7 L394.5,205.1 L395.0,207.6 L395.5,209.9 L396.0,211.0 L396.5,211.2 L397.0,211.4 L397.5,210.4 L398.0,209.3 L398.5,208.2 L399.0,206.3 L399.5,204.5 L400.0,202.7 L400.5,201.6 L401.0,200.5 L401.5,199.2 L402.0,200.9 L402.5,202.6 L403.0,204.4 L403.5,202.6 L404.0,200.8 L404.5,198.3 L405.0,196.6 L405.5,196.0 L406.0,195.5 L406.5,195.8 L407.0,196.2 L407.5,196.6 L408.0,194.6 L408.5,192.0 L409.0,189.4 L409.5,187.9 L410.0,186.3 L410.5,185.2 L411.0,183.7 L411.5,182.9 L412.0,182.1 L412.5,180.4 L413.0,178.7 L413.5,177.1 L414.0,176.0 L414.5,174.5 L415.0,173.1 L415.5,173.8 L416.0,174.6 L416.5,174.0 L417.0,172.5 L417.5,174.1 L418.0,175.6 L418.5,176.6 L419.0,177.6 L419.5,178.6 L420.0,179.2 L420.5,179.4 L421.0,179.5 L421.5,180.6 L422.0,181.6 L422.5,183.3 L423.0,183.8 L423.5,183.3 L423.8,183.1 L424.0,184.7 L424.5,188.5 L425.0,192.3 L425.5,196.1 L426.0,198.2 L426.5,199.4 L427.0,200.5 L427.5,198.4 L428.0,196.3 L428.5,195.6 L429.0,194.6 L429.5,193.3 L430.0,192.1 L430.5,189.2 L431.0,186.3 L431.5,182.8 L432.0,181.2 L432.5,180.3 L433.0,179.4 L433.5,179.2 L434.0,179.6 L434.5,179.6 L435.0,179.6 L435.5,179.8 L436.0,181.0 L436.5,181.5 L437.0,182.0 L437.5,183.0 L438.0,185.6 L438.5,186.2 L439.0,186.9 L439.5,187.2 L440.0,187.6 L440.5,188.7 L441.0,189.9 L441.5,189.4 L442.0,188.9 L442.5,188.4 L443.0,187.8 L443.5,190.4 L444.0,192.9 L444.5,195.0 L445.0,194.4 L445.5,193.4 L446.0,192.5 L446.5,190.7 L447.0,189.6 L447.5,189.3 L448.0,189.0 L448.5,188.8 L449.0,186.1 L449.5,183.2 L450.0,180.3 L450.5,179.0 L451.0,177.6 L451.5,175.4 L452.0,175.1 L452.5,175.4 L453.0,175.7 L453.5,175.1 L454.0,173.3 L454.5,173.7 L455.0,174.1 L455.5,173.8 L456.0,176.0 L456.5,177.0 L457.0,178.1 L457.5,177.3 L458.0,176.5 L458.5,174.6 L459.0,174.4 L459.5,175.6 L460.0,176.7 L460.5,177.4 L461.0,178.0 L461.5,179.7 L462.0,181.4 L462.5,182.7 L463.0,184.1 L463.5,184.4 L464.0,183.2 L464.5,183.0 L465.0,182.7 L465.5,183.0 L466.0,184.7 L466.5,187.3 L467.0,189.9 L467.5,190.2 L468.0,190.5 L468.5,191.6 L469.0,193.1 L469.5,194.9 L470.0,196.7 L470.5,195.8 L471.0,194.9 L471.5,193.7 L472.0,192.3 L472.5,190.8 L473.0,189.3 L473.5,188.9 L474.0,191.0 L474.5,193.8 L475.0,196.6 L475.5,198.2 L476.0,199.7 L476.5,201.2 L477.0,202.3 L477.5,203.5 L478.0,204.7 L478.5,205.7 L479.0,206.7 L479.5,207.3 L480.0,206.1 L480.5,204.7 L481.0,203.3 L481.5,202.6 L482.0,201.9 L482.5,200.1 L483.0,201.2 L483.5,203.0 L484.0,204.9 L484.5,203.3 L485.0,201.7 L485.5,199.5 L486.0,200.7 L486.5,202.2 L487.0,203.7 L487.5,200.5 L488.0,197.4 L488.5,194.8 L489.0,196.7 L489.5,199.2 L490.0,201.7 L490.5,199.3 L491.0,196.8 L491.5,194.7 L492.0,197.2 L492.5,198.9 L493.0,200.7 L493.5,201.7 L494.0,202.7 L494.5,204.1 L495.0,205.2 L495.5,206.0 L496.0,206.8 L496.5,206.8 L497.0,206.9 L497.5,208.0 L498.0,208.7 L498.5,209.3 L499.0,209.9 L499.5,208.0 L500.0,206.1 L500.5,203.0 L501.0,204.2 L501.5,206.2 L502.0,208.2 L502.5,204.8 L503.0,201.4 L503.5,199.4 L504.0,201.6 L504.5,203.8 L505.0,206.0 L505.5,204.4 L506.0,202.7 L506.5,201.7 L507.0,201.1 L507.5,199.0 L508.0,196.9 L508.5,198.1 L509.0,199.2 L509.5,199.9 L510.0,198.5 L510.5,196.5 L511.0,194.6 L511.5,192.8 L512.0,191.1 L512.5,190.4 L513.0,189.0 L513.5,186.0 L514.0,182.9 L514.5,182.6 L515.0,182.2 L515.5,180.6 L516.0,179.5 L516.5,178.4 L517.0,177.3 L517.5,175.8 L518.0,174.3 L518.5,172.9 L519.0,174.9 L519.5,177.6 L520.0,180.4 L520.5,181.4 L521.0,182.5 L521.5,183.7 L522.0,183.8 L522.5,183.1 L523.0,182.4 L523.5,184.4 L524.0,186.3 L524.5,188.2 L525.0,189.7 L525.5,191.0 L526.0,192.4 L526.5,191.7 L527.0,191.1 L527.5,192.5 L528.0,194.7 L528.5,197.1 L529.0,199.5 L529.5,200.8 L530.0,202.0 L530.5,202.6 L531.0,199.5 L531.5,197.1 L532.0,194.6 L532.5,192.2 L533.0,189.9 L533.5,187.4 L534.0,186.3 L534.5,184.7 L535.0,183.1 L535.5,182.1 L536.0,181.1 L536.5,180.1 L537.0,179.0 L537.5,178.7 L538.0,178.4 L538.5,180.8 L539.0,183.3 L539.5,184.1 L540.0,184.6 L540.5,186.7 L541.0,188.7 L541.5,190.5 L542.0,192.3 L542.5,193.0 L543.0,195.4 L543.5,198.9 L544.0,202.5 L544.5,204.6 L545.0,206.6 L545.5,210.0 L546.0,212.1 L546.5,213.0 L547.0,213.8 L547.5,214.1 L548.0,214.3 L548.5,216.0 L549.0,216.4 L549.5,216.7 L550.0,217.0 L550.5,214.7 L551.0,212.5 L551.5,211.3 L552.0,210.6 L552.5,209.1 L553.0,207.7 L553.5,206.5 L554.0,205.3 L554.5,204.7 L555.0,203.2 L555.5,201.0 L556.0,198.8 L556.5,196.7 L557.0,194.6 L557.5,192.3 L558.0,189.6 L558.5,185.5 L559.0,181.5 L559.5,179.9 L560.0,178.3 L560.5,177.3 L561.0,175.9 L561.5,174.8 L562.0,173.7 L562.5,171.3 L563.0,168.9 L563.5,167.4 L564.0,167.5 L564.5,168.6 L565.0,169.6 L565.5,172.4 L566.0,175.2 L566.5,176.1 L567.0,174.0 L567.5,173.1 L568.0,172.1 L568.5,174.1 L569.0,176.1 L569.5,178.3 L570.0,180.1 L570.5,181.8 L571.0,183.5 L571.5,182.7 L572.0,181.8 L572.5,182.3 L573.0,183.1 L573.5,185.3 L574.0,187.5 L574.5,190.1 L575.0,192.7 L575.5,194.0 L576.0,194.0 L576.5,196.0 L577.0,197.9 L577.5,200.0 L578.0,202.1 L578.5,202.9 L579.0,202.0 L579.5,201.9 L580.0,201.8 L580.5,203.5 L581.0,205.1 L581.5,207.0 L582.0,207.6 L582.5,207.9 L583.0,208.3 L583.5,206.6 L584.0,204.9 L584.5,203.6 L585.0,204.7 L585.5,204.8 L586.0,204.9 L586.5,203.9 L587.0,202.9 L587.5,202.1 L588.0,203.3 L588.5,203.4 L589.0,203.5 L589.5,202.1 L590.0,200.7 L590.5,199.3 L591.0,197.8 L591.5,196.8 L592.0,195.7 L592.5,196.6 L593.0,197.6 L593.5,196.8 L594.0,195.3 L594.5,194.4 L595.0,193.6 L595.5,193.9 L596.0,194.3 L596.5,194.6 L597.0,194.9 L597.5,195.6 L598.0,196.2 L598.5,198.1 L599.0,199.9 L599.5,201.6 L600.0,201.9 L600.5,202.4 L601.0,202.9 L601.4,202.5 L601.5,202.6 L602.0,203.5 L602.5,205.4 L603.0,207.4 L603.5,209.1 L603.7,209.9 L604.0,211.0 L604.5,212.6 L605.0,214.1 L605.5,216.0 L606.0,217.9 L606.0,218.0 L606.5,219.6 L607.0,221.3 L607.5,222.5 L608.0,223.8 L608.3,224.3 L608.5,223.7 L609.0,222.1 L609.5,220.8 L610.0,219.5 L610.0,219.4 L610.5,216.8 L611.0,214.2 L611.5,212.1 L611.7,211.2 L612.0,209.8 L612.5,206.5 L613.0,203.2 L613.5,200.0 L613.5,199.7 L614.0,196.9 L614.5,195.5 L615.0,194.0 L615.2,193.5 L615.5,193.0 L616.0,192.4 L616.5,190.9 L616.9,189.8 L617.0,189.6 L617.5,188.3 L618.0,187.0 L618.5,186.8 L618.6,186.8 L619.0,188.4 L619.5,189.7 L620.0,191.1 L620.3,191.9 L620.5,191.8 L621.0,191.5 L621.5,191.3 L622.0,191.2 L622.0,191.1 L622.5,192.0 L623.0,192.9 L623.5,194.7 L623.7,195.6 L624.0,196.6 L624.5,198.0 L625.0,199.5 L625.5,201.5 L625.5,201.7 L626.0,203.5 L626.5,204.9 L627.0,206.3 L627.2,206.6 L627.5,206.2 L628.0,205.5 L628.5,204.9 L628.9,204.5 L629.0,204.8 L629.5,205.9 L630.0,206.9 L630.5,209.0 L630.6,209.4 L631.0,209.4 L631.5,208.5 L632.0,207.7 L632.3,208.4 L632.5,209.2 L633.0,211.4 L633.5,211.8 L634.0,212.2 L634.0,212.1 L634.5,209.5 L635.0,206.6 L635.5,204.9 L635.8,204.0 L636.0,203.4 L636.5,204.2 L637.0,205.1 L637.5,203.8 L637.5,203.8 L638.0,202.8 L638.5,202.7 L639.0,202.5 L639.2,202.1 L639.5,201.0 L640.0,199.1 L640.5,198.2 L640.9,197.6 L641.0,197.7 L641.5,198.1 L642.0,198.4 L642.5,199.3 L642.6,199.5 L643.0,199.2 L643.5,198.2 L644.0,197.2 L644.3,197.1 L644.5,197.4 L645.0,198.4 L645.5,198.1 L646.0,197.8 L646.0,197.9 L646.5,197.7 L647.0,197.6 L647.5,196.3 L647.8,195.7 L648.0,195.1 L648.5,194.2 L649.0,193.2 L649.5,191.4 L649.5,191.4 L650.0,191.2 L650.5,192.0 L651.0,192.9 L651.2,193.7 L651.5,194.9 L652.0,196.9 L652.5,197.0 L652.9,197.0 L653.0,197.0 L653.5,198.1 L654.0,199.1 L654.5,200.0 L654.6,200.2 L655.0,199.9 L655.5,199.3 L656.0,198.7 L656.3,198.7 L656.5,199.2 L657.0,200.7 L657.5,201.3 L658.0,201.9 L658.1,202.0 L658.5,200.7 L659.0,199.2 L659.5,198.5 L659.8,198.1 L660.0,197.7 L660.5,195.6 L661.0,193.4 L661.5,192.4 L661.5,192.4 L662.0,191.7 L662.5,190.7 L663.0,189.7 L663.2,189.3 L663.5,188.3 L664.0,186.5 L664.5,183.7 L664.9,181.3 L665.0,180.8 L665.5,177.1 L666.0,173.5 L666.5,171.4 L666.6,170.8 L667.0,169.9 L667.5,168.6 L668.0,167.4 L668.4,166.8 L668.5,167.4 L669.0,169.4 L669.5,170.3 L670.0,171.2 L670.1,171.3 L670.5,170.2 L671.0,168.9 L671.5,168.4 L671.8,168.1 L672.0,169.3 L672.5,171.6 L672.9,173.5 L673.0,173.2 L673.5,171.5 L674.0,169.7 L674.5,167.6 L674.6,167.0 L675.0,167.3 L675.5,168.1 L676.0,168.9 L676.4,169.0 L676.5,169.7 L677.0,172.0 L677.5,174.6 L678.0,175.6 L678.5,176.1 L679.0,176.5 L679.2,177.0 L679.5,178.2 L680.0,180.5 L680.5,182.3 L680.9,183.8 L681.0,184.0 L681.5,185.5 L682.0,187.0 L682.5,188.1 L682.6,188.4 L683.0,187.7 L683.5,186.6 L684.0,185.5 L684.4,184.8 L684.5,185.4 L685.0,187.7 L685.5,190.4 L686.0,193.0 L686.1,193.4 L686.5,195.2 L687.0,197.4 L687.5,198.5 L687.8,199.2 L688.0,199.8 L688.5,203.5 L688.9,206.7 L689.0,206.5 L689.5,202.8 L690.0,199.0 L690.5,197.2 L690.7,196.7 L691.0,195.7 L691.5,193.9 L692.0,192.1 L692.4,190.9 L692.5,190.3 L693.0,187.9 L693.5,184.8 L694.0,181.7 L694.1,181.2 L694.5,178.3 L695.0,174.7 L695.5,171.5 L695.8,169.6 L696.0,168.5 L696.5,166.2 L697.0,163.9 L697.5,161.6 L697.5,161.5 L698.0,162.5 L698.5,161.8 L699.0,161.0 L699.2,160.6 L699.5,159.1 L700.0,156.1 L700.5,155.1 L701.0,154.2 L701.0,154.4 L701.5,156.6 L702.0,158.8 L702.1,159.2 L702.5,161.8 L703.0,165.1 L703.5,165.4 L703.8,165.6 L704.0,165.1 L704.5,165.4 L705.0,165.6 L705.5,166.6 L705.5,166.6 L706.0,171.8 L706.5,176.6 L706.7,178.2 L707.0,181.4 L707.5,185.7 L707.8,188.5 L708.0,189.6 L708.5,194.1 L709.0,198.3 L709.0,198.5 L709.5,199.4 L710.0,200.2 L710.5,202.4 L710.7,203.1 L711.0,204.8 L711.5,207.5 L712.0,210.2 L712.4,211.0 L712.5,211.3 L713.0,212.7 L713.5,215.7 L713.5,215.9 L714.0,218.0 L714.5,220.8 L714.7,221.8 L715.0,223.2 L715.5,223.6 L715.8,223.9 L716.0,223.1 L716.5,221.3 L717.0,219.5 L717.5,218.5 L717.5,218.5 L718.0,217.6 L718.5,216.9 L719.0,216.1 L719.2,215.0 L719.5,213.9 L720.0,211.7 L720.4,210.8 L720.4,192.5Z" fill="#ff0000" stroke="none" clip-path="url(#cb)"/>
<path d="M210.0,121.7 L210.5,120.6 L211.0,119.6 L211.5,118.7 L212.0,118.3 L212.5,116.9 L213.0,115.5 L213.5,117.2 L214.0,118.9 L214.5,119.7 L215.0,120.8 L215.5,122.7 L216.0,124.6" stroke="#3cc8f0" stroke-width="1.6"/>
<path d="M222.5,148.3 L223.0,149.2 L223.5,151.1 L224.0,153.0 L224.5,155.3 L225.0,157.7 L225.5,160.3" stroke="#3cc8f0" stroke-width="1.6"/>
<path d="M253.5,161.8 L254.0,159.6 L254.5,157.5 L255.0,155.0 L255.5,151.6" stroke="#3cc8f0" stroke-width="1.6"/>
<path d="M263.0,128.9 L263.5,127.4 L264.0,126.0 L264.5,123.4 L265.0,119.6 L265.5,115.5 L266.0,111.3 L266.5,108.6 L267.0,106.0 L267.5,106.2 L268.0,106.4 L268.5,111.4 L269.0,116.4 L269.5,118.7 L270.0,120.9 L270.5,123.9 L271.0,126.9 L271.5,128.7" stroke="#3cc8f0" stroke-width="1.6"/>
<path d="M282.0,165.0 L282.5,166.8 L283.0,168.6 L283.5,169.8 L284.0,170.5 L284.5,171.1 L285.0,171.7 L285.5,172.7 L286.0,173.7 L286.5,172.7 L287.0,171.8 L287.5,170.0 L288.0,168.1 L288.5,168.3 L289.0,168.5 L289.5,166.5 L290.0,164.6 L290.5,162.3 L291.0,159.7 L291.5,157.9 L292.0,156.0" stroke="#3cc8f0" stroke-width="1.6"/>
<path d="M310.0,123.0 L310.5,121.8 L311.0,120.5 L311.2,120.1 L311.5,119.8 L312.0,119.2 L312.5,117.8 L313.0,116.3 L313.5,114.5 L314.0,115.3 L314.5,116.9" stroke="#3cc8f0" stroke-width="1.6"/>
<path d="M327.0,117.3 L327.5,115.3 L328.0,113.2 L328.5,112.0 L329.0,110.8 L329.5,111.9 L330.0,113.0" stroke="#3cc8f0" stroke-width="1.6"/>
<path d="M376.0,152.2 L376.5,156.9 L377.0,161.6 L377.5,159.2 L378.0,156.9 L378.5,155.0 L379.0,152.0 L379.5,149.0 L380.0,146.1 L380.5,143.1 L381.0,140.0 L381.5,135.9 L382.0,133.0 L382.5,130.9 L383.0,128.7 L383.5,128.0 L384.0,127.3 L384.5,127.3 L385.0,128.3 L385.5,129.8 L386.0,131.4 L386.5,132.3 L387.0,134.7 L387.5,136.8 L388.0,138.9 L388.5,139.9 L389.0,140.9 L389.5,142.5 L390.0,142.5 L390.5,141.9 L391.0,141.2" stroke="#3cc8f0" stroke-width="1.6"/>
<path d="M395.0,166.5 L395.5,167.9 L396.0,169.2 L396.5,171.2 L397.0,173.2 L397.5,175.6 L398.0,177.9 L398.5,179.8" stroke="#3cc8f0" stroke-width="1.6"/>
<path d="M424.0,130.8 L424.5,132.2 L425.0,133.6 L425.5,135.1 L426.0,138.3 L426.5,141.1 L427.0,144.0 L427.5,145.0 L428.0,146.1 L428.5,147.3 L429.0,146.4 L429.5,146.1 L430.0,145.8" stroke="#3cc8f0" stroke-width="1.6"/>
<path d="M438.0,129.7 L438.5,128.6 L439.0,127.5 L439.5,126.7 L440.0,126.0 L440.5,126.1 L441.0,126.3 L441.5,127.8 L442.0,129.3 L442.5,128.6 L443.0,128.0 L443.5,129.4 L444.0,130.8 L444.5,131.7 L445.0,130.6 L445.5,130.3 L446.0,130.1" stroke="#3cc8f0" stroke-width="1.6"/>
<path d="M450.5,112.2 L451.0,110.5 L451.5,109.0 L452.0,110.4 L452.5,111.0 L453.0,111.7 L453.5,113.4 L454.0,115.0 L454.5,116.4 L455.0,117.8" stroke="#3cc8f0" stroke-width="1.6"/>
<path d="M461.0,131.6 L461.5,132.8 L462.0,134.0 L462.5,135.8 L463.0,137.5 L463.5,139.3 L464.0,140.4 L464.5,141.0 L465.0,141.6 L465.5,141.6 L466.0,141.5 L466.5,141.8 L467.0,142.1" stroke="#3cc8f0" stroke-width="1.6"/>
<path d="M474.0,141.7 L474.5,143.5 L475.0,145.4 L475.5,147.1 L476.0,148.8 L476.5,149.4 L477.0,149.2 L477.5,149.7 L478.0,150.3 L478.5,144.5 L479.0,138.7 L479.5,134.2 L480.0,138.8 L480.5,142.0 L481.0,145.1 L481.5,145.4 L482.0,145.6 L482.5,146.9" stroke="#3cc8f0" stroke-width="1.6"/>
<path d="M509.0,149.0 L509.5,148.9 L510.0,148.8 L510.5,149.3 L511.0,145.7 L511.5,143.0 L512.0,140.3 L512.5,138.8 L513.0,137.4 L513.5,136.7 L514.0,135.1 L514.5,132.3" stroke="#3cc8f0" stroke-width="1.6"/>
<path d="M515.0,122.8 L515.5,121.3 L516.0,119.8 L516.5,119.2 L517.0,118.5 L517.5,118.9 L518.0,119.2 L518.5,119.2" stroke="#3cc8f0" stroke-width="1.6"/>
<path d="M538.5,124.3 L539.0,125.7 L539.5,126.7 L540.0,127.8 L540.5,128.9 L541.0,130.0 L541.5,131.6 L542.0,133.2 L542.5,134.1 L543.0,135.3 L543.5,136.9" stroke="#3cc8f0" stroke-width="1.6"/>
<path d="M546.5,161.4 L547.0,162.7 L547.5,164.0 L548.0,165.0 L548.5,165.3 L549.0,162.9 L549.5,161.7 L550.0,160.4 L550.5,158.6 L551.0,156.9 L551.5,155.7 L552.0,155.0 L552.5,153.8 L553.0,152.6 L553.5,150.2 L554.0,147.8 L554.5,146.6 L555.0,145.0 L555.5,142.4 L556.0,139.7 L556.5,136.6 L557.0,133.4 L557.5,131.4 L558.0,129.8 L558.5,128.6 L559.0,127.5 L559.5,126.1 L560.0,124.7 L560.5,122.4 L561.0,119.8 L561.5,118.1 L562.0,116.5 L562.5,115.1 L563.0,113.7 L563.5,113.0 L564.0,112.7 L564.5,111.2 L565.0,109.7 L565.5,111.9 L566.0,114.0 L566.5,116.8" stroke="#3cc8f0" stroke-width="1.6"/>
<path d="M576.0,148.8 L576.5,149.7 L577.0,150.6 L577.5,150.8 L578.0,151.1 L578.5,151.1 L579.0,149.0 L579.5,148.1 L580.0,147.2 L580.5,146.2 L581.0,145.3 L581.5,145.8 L582.0,145.5 L582.5,143.7 L583.0,142.0 L583.5,140.3 L584.0,138.6 L584.5,136.2 L585.0,134.6 L585.5,133.4 L586.0,132.1 L586.5,129.2 L587.0,126.3 L587.5,123.4 L588.0,122.5 L588.5,121.1 L589.0,119.7 L589.5,117.7 L590.0,115.7 L590.5,115.2 L591.0,114.3 L591.5,112.3 L592.0,110.3 L592.5,109.2 L593.0,108.1 L593.5,105.4 L594.0,101.9 L594.5,99.0 L595.0,96.0 L595.5,95.8 L596.0,95.5 L596.5,99.8 L597.0,104.0 L597.5,105.9 L598.0,107.7 L598.5,108.6 L599.0,109.5 L599.5,111.1 L600.0,112.7 L600.5,117.9 L600.9,121.7 L601.0,122.2 L601.5,124.4 L602.0,126.6 L602.5,128.6 L602.6,128.9 L603.0,132.3 L603.5,137.9 L604.0,143.5 L604.3,146.0 L604.5,147.5 L605.0,151.3 L605.5,156.8 L606.0,162.2 L606.0,162.3 L606.5,165.1 L607.0,168.0 L607.5,170.5 L607.7,171.6 L608.0,171.2 L608.5,171.9 L609.0,172.6 L609.5,171.3 L609.5,171.1 L610.0,168.4 L610.5,166.8 L611.0,165.1 L611.2,164.6 L611.5,163.0 L612.0,160.5 L612.5,157.5 L612.9,155.3 L613.0,154.5 L613.5,151.4 L614.0,148.3 L614.5,146.4 L614.6,146.1" stroke="#3cc8f0" stroke-width="1.6"/>
<path d="M619.2,122.6 L619.7,121.6 L620.2,120.8 L620.3,120.6 L620.7,122.3 L621.2,124.5 L621.5,125.5 L621.7,125.6 L622.2,125.5 L622.7,125.2 L623.2,125.3 L623.7,127.1 L624.2,128.9 L624.7,130.6 L624.9,131.3 L625.2,131.8 L625.7,132.3 L626.0,132.7" stroke="#3cc8f0" stroke-width="1.6"/>
<path d="M225.0,169.9 L225.5,169.5 L226.0,169.0 L226.5,166.6 L227.0,166.2 L227.5,167.3 L228.0,168.3 L228.5,168.1 L229.0,167.8 L229.5,166.9 L230.0,166.0 L230.5,164.4 L231.0,162.7 L231.5,161.5 L232.0,160.2 L232.5,159.2 L233.0,158.1 L233.5,156.7 L233.8,156.1 L234.0,155.0 L234.5,153.3 L235.0,151.6 L235.5,149.9 L236.0,147.9 L236.5,145.4 L236.8,144.1 L237.0,143.4 L237.5,142.2 L238.0,140.9 L238.5,140.5 L239.0,140.2 L239.5,140.7 L240.0,141.2 L240.5,141.7 L240.8,141.9 L241.0,141.3 L241.5,141.5 L242.0,141.7 L242.5,141.1 L243.0,140.2 L243.5,139.9 L244.0,139.5 L244.5,138.3 L245.0,137.5 L245.5,137.3 L246.0,137.2 L246.5,135.7 L247.0,134.4 L247.5,134.2 L248.0,134.0 L248.2,133.6 L248.5,134.1 L249.0,135.2 L249.5,136.9 L250.0,138.6 L250.5,139.7 L251.0,140.8 L251.5,141.9 L252.0,143.1 L252.5,144.0 L253.0,144.9 L253.5,144.9 L254.0,144.9 L254.5,143.6 L255.0,142.3 L255.5,141.1 L255.8,140.5 L256.0,140.8 L256.5,142.0 L257.0,143.2 L257.5,143.7 L258.0,142.8 L258.5,142.9 L259.0,143.0 L259.5,142.6 L260.0,142.1 L260.5,141.0 L261.0,139.8 L261.5,138.4 L262.0,136.6 L262.5,135.9 L263.0,135.2 L263.2,134.8 L263.5,134.3 L264.0,133.2 L264.5,131.8 L265.0,130.3 L265.5,127.9 L266.0,125.6 L266.5,124.4 L267.0,123.1 L267.5,123.0 L268.0,123.0 L268.5,122.5 L269.0,122.1 L269.5,123.9 L270.0,125.7 L270.5,129.0 L270.8,130.7 L271.0,132.2 L271.5,133.9 L272.0,135.7 L272.5,137.1 L273.0,138.3 L273.5,140.1 L274.0,142.0 L274.5,144.2 L275.0,145.5 L275.5,146.3 L276.0,147.0 L276.5,148.0 L277.0,149.2 L277.5,149.5 L278.0,149.8 L278.2,151.0 L278.5,153.0 L279.0,157.1 L279.5,159.3 L280.0,161.6 L280.5,165.3 L281.0,169.1 L281.5,172.7 L282.0,174.3 L282.5,177.6 L283.0,180.8 L283.2,182.0 L283.5,181.8 L284.0,181.6 L284.5,181.2 L285.0,180.9 L285.5,181.9 L286.0,182.9 L286.5,184.2 L287.0,183.1 L287.5,182.1 L288.0,181.1 L288.2,181.1 L288.5,180.5 L289.0,179.4 L289.5,176.8 L290.0,174.1 L290.5,170.9 L291.0,167.6 L291.5,165.5 L292.0,162.5 L292.5,157.7 L293.0,153.0 L293.5,150.1 L294.0,147.1 L294.5,144.4 L295.0,144.9 L295.5,145.2 L296.0,145.5 L296.5,144.3 L297.0,143.2 L297.5,143.4 L298.0,143.6 L298.1,143.5 L298.5,141.6 L299.0,139.5 L299.4,138.6 L299.5,139.4 L300.0,144.5 L300.4,148.2 L300.5,148.5 L301.0,150.8 L301.5,152.6 L301.5,152.7 L302.0,153.5 L302.5,156.0 L302.8,157.6 L303.0,158.2 L303.5,159.2 L304.0,160.2 L304.2,160.3 L304.5,159.6 L305.0,158.6 L305.5,157.6 L305.6,157.5 L306.0,156.3 L306.5,155.1 L306.9,154.0 L307.0,153.7 L307.5,150.3 L307.9,147.3 L308.0,146.7 L308.5,141.6 L308.6,140.1 L309.0,137.7 L309.5,134.2 L309.7,133.1 L310.0,134.1 L310.5,135.3 L310.7,135.7 L311.0,137.8 L311.5,142.3 L312.0,146.7 L312.1,147.0 L312.5,145.8 L313.0,144.5 L313.4,142.8 L313.5,142.3 L314.0,139.5 L314.5,137.7 L315.0,135.8 L315.1,135.6 L315.5,135.8 L316.0,136.0 L316.5,133.7 L316.5,133.7 L317.0,132.8 L317.5,133.1 L317.9,133.3 L318.0,132.4 L318.5,130.1 L319.0,127.8 L319.5,124.6 L319.6,124.2 L320.0,126.3 L320.5,129.0 L320.6,129.5 L321.0,132.0 L321.5,134.3 L322.0,136.4 L322.0,136.1 L322.5,133.1 L323.0,130.2 L323.3,128.6 L323.5,130.3 L324.0,134.9 L324.5,138.7 L324.7,140.1 L325.0,137.8 L325.5,133.5 L326.0,129.3 L326.1,129.1 L326.5,130.3 L327.0,131.7 L327.4,132.0 L327.5,132.2 L328.0,133.6 L328.5,134.0 L328.8,134.2 L329.0,134.3 L329.5,135.6 L330.0,136.9 L330.1,137.0 L330.5,137.6 L331.0,138.4 L331.5,139.3 L331.5,139.4 L332.0,139.7 L332.5,140.4 L332.9,141.0 L333.0,140.4 L333.5,138.2 L333.9,136.5 L334.0,136.3 L334.5,134.5 L335.0,132.8 L335.3,132.2 L335.5,131.9 L336.0,131.2 L336.5,129.6 L337.0,128.1 L337.0,128.0 L337.5,126.2 L338.0,124.3 L338.4,123.3 L338.5,123.2 L339.0,122.7 L339.5,122.2 L339.7,121.9 L340.0,120.3 L340.5,116.1 L340.7,114.0 L341.0,112.5 L341.5,110.1 L341.8,108.8 L342.0,109.3 L342.5,110.5 L343.0,111.8 L343.1,112.2 L343.5,113.0 L344.0,114.0 L344.5,115.2 L345.0,116.1 L345.5,117.2 L346.0,118.2 L346.5,116.0 L347.0,118.9 L347.5,121.4 L348.0,123.9 L348.5,126.8 L349.0,129.6 L349.5,134.2 L350.0,138.9 L350.5,141.5 L351.0,144.0 L351.5,144.8 L352.0,145.5 L352.5,147.0 L353.0,144.7 L353.5,144.0 L354.0,143.4 L354.5,142.2 L355.0,141.1 L355.5,138.4 L356.0,135.3 L356.5,135.2 L357.0,135.2 L357.5,132.3 L358.0,129.4 L358.5,126.3 L359.0,123.6 L359.5,121.1 L360.0,118.5 L360.5,117.0 L361.0,115.5 L361.5,113.3 L362.0,110.6 L362.5,108.2 L363.0,105.9 L363.5,103.9 L364.0,101.9 L364.5,99.9 L365.0,99.1 L365.5,99.1 L366.0,99.0 L366.5,102.2 L367.0,105.4 L367.5,107.2 L368.0,109.8 L368.5,112.2 L369.0,114.6 L369.5,118.2 L370.0,121.7 L370.5,124.0 L371.0,126.6 L371.5,130.8 L372.0,134.9 L372.5,136.7 L373.0,138.5 L373.5,139.3 L374.0,135.0 L374.5,130.5 L375.0,126.0 L375.5,128.0 L376.0,129.9 L376.5,132.5 L377.0,135.5 L377.5,137.0 L378.0,138.4 L378.5,136.0 L379.0,133.5 L379.5,131.6 L380.0,128.5 L380.5,124.5 L381.0,120.4 L381.5,116.9 L382.0,113.3 L382.5,109.2 L383.0,107.1 L383.5,104.8 L384.0,102.6 L384.5,103.6 L385.0,104.6 L385.5,106.0 L386.0,108.3 L386.5,111.0 L387.0,113.7 L387.5,115.6 L388.0,117.4 L388.5,117.9 L389.0,118.8 L389.5,120.3 L390.0,121.8 L390.5,125.2 L391.0,128.6 L391.5,131.6 L392.0,133.4 L392.5,135.4 L393.0,137.4 L393.5,138.6 L394.0,139.7 L394.5,142.4 L395.0,144.2 L395.5,144.1 L396.0,143.9 L396.5,142.3 L397.0,140.7 L397.5,139.8 L398.0,138.5 L398.5,136.2 L399.0,133.9 L399.5,132.9 L400.0,131.8 L400.5,131.7 L401.0,134.0 L401.5,135.3 L402.0,136.7 L402.5,138.7 L403.0,140.7 L403.5,141.7 L404.0,140.6 L404.5,139.1 L405.0,137.6 L405.5,137.8 L406.0,138.0 L406.5,137.1 L407.0,135.3 L407.5,134.7 L408.0,134.0 L408.5,131.8 L409.0,129.6 L409.5,128.3 L410.0,127.4 L410.5,125.3 L411.0,123.1 L411.5,120.7 L412.0,118.2 L412.5,116.0 L413.0,115.0 L413.5,115.6 L414.0,116.3 L414.5,115.6 L415.0,115.0 L415.5,113.8 L416.0,112.5 L416.5,111.6 L417.0,110.7 L417.5,110.8 L418.0,110.9 L418.5,110.9 L419.0,112.7 L419.5,114.8 L420.0,117.0 L420.5,118.5 L421.0,119.9 L421.5,121.4 L422.0,123.0 L422.5,124.2 L423.0,125.4 L423.5,126.6 L423.8,127.3 L424.0,130.2 L424.5,136.5 L425.0,142.7 L425.5,147.5 L426.0,148.6 L426.5,150.7 L427.0,152.9 L427.5,153.0 L428.0,153.2 L428.5,153.5 L429.0,157.2 L429.5,159.6 L430.0,162.0 L430.5,159.7 L431.0,157.4 L431.5,154.9 L432.0,154.0 L432.5,153.5 L433.0,153.0 L433.5,151.7 L434.0,150.7 L434.5,149.8 L435.0,149.0 L435.5,149.2 L436.0,150.3 L436.5,150.4 L437.0,150.6 L437.5,150.7 L438.0,149.3 L438.5,147.8 L439.0,146.2 L439.5,146.9 L440.0,147.6 L440.5,148.7 L441.0,149.8 L441.5,148.3 L442.0,146.9 L442.5,145.2 L443.0,143.5 L443.5,144.1 L444.0,144.7 L444.5,144.7 L445.0,143.6 L445.5,143.9 L446.0,144.2 L446.5,143.6 L447.0,142.7 L447.5,140.8 L448.0,138.8 L448.5,137.2 L449.0,135.7 L449.5,135.4 L450.0,135.1 L450.5,133.8 L451.0,132.5 L451.5,131.3 L452.0,132.3 L452.5,133.3 L453.0,134.3 L453.5,135.9 L454.0,134.8 L454.5,133.8 L455.0,132.8 L455.5,130.5 L456.0,133.9 L456.5,136.1 L457.0,138.3 L457.5,135.9 L458.0,133.5 L458.5,131.6 L459.0,132.9 L459.5,134.3 L460.0,135.7 L460.5,135.8 L461.0,136.6 L461.5,136.9 L462.0,137.1 L462.5,138.9 L463.0,140.7 L463.5,143.3 L464.0,143.3 L464.5,142.7 L465.0,142.2 L465.5,140.6 L466.0,141.7 L466.5,142.9 L467.0,144.1 L467.5,145.8 L468.0,147.5 L468.5,148.7 L469.0,150.7 L469.5,153.2 L470.0,155.8 L470.5,153.7 L471.0,151.7 L471.5,149.9 L472.0,148.1 L472.5,147.3 L473.0,146.5 L473.5,144.8 L474.0,146.5 L474.5,149.7 L475.0,152.8 L475.5,154.8 L476.0,156.9 L476.5,158.3 L477.0,159.2 L477.5,160.5 L478.0,161.7 L478.5,161.9 L479.0,162.0 L479.5,163.9 L480.0,165.7 L480.5,166.7 L481.0,167.7 L481.5,165.8 L482.0,164.0 L482.5,163.2 L483.0,162.0 L483.5,159.6 L484.0,157.2 L484.5,158.3 L485.0,159.3 L485.5,160.5 L486.0,158.0 L486.5,156.0 L487.0,153.9 L487.5,154.7 L488.0,155.6 L488.5,155.7 L489.0,154.2 L489.5,152.4 L490.0,150.7 L490.5,148.1 L491.0,145.4 L491.5,141.5 L492.0,142.6 L492.5,142.8 L493.0,142.9 L493.5,141.2 L494.0,139.4 L494.5,138.8 L495.0,141.9 L495.5,144.4 L496.0,147.0 L496.5,147.1 L497.0,147.2 L497.5,147.8 L498.0,148.8 L498.5,151.5 L499.0,154.1 L499.5,150.7 L500.0,147.3 L500.5,142.5 L501.0,139.7 L501.5,138.9 L502.0,138.2 L502.5,138.6 L503.0,139.0 L503.5,140.9 L504.0,139.8 L504.5,138.2 L505.0,136.7 L505.5,134.7 L506.0,132.7 L506.5,132.7 L507.0,135.9 L507.5,138.5 L508.0,141.1 L508.5,141.1 L509.0,141.0 L509.5,141.8 L510.0,140.9 L510.5,140.0 L511.0,139.2 L511.5,137.1 L512.0,135.1 L512.5,132.7 L513.0,131.0 L513.5,130.8 L514.0,130.7 L514.5,128.9 L515.0,127.0 L515.5,124.9 L516.0,122.7 L516.5,120.9 L517.0,119.1 L517.5,118.9 L518.0,118.7 L518.5,118.4 L519.0,121.1 L519.5,123.2 L520.0,125.3 L520.5,126.8 L521.0,128.3 L521.5,127.6 L522.0,126.1 L522.5,125.4 L523.0,124.8 L523.5,127.2 L524.0,129.7 L524.5,131.7 L525.0,134.1 L525.5,135.8 L526.0,137.5 L526.5,138.7 L527.0,139.9 L527.5,141.4 L528.0,143.2 L528.5,146.0 L529.0,148.7 L529.5,150.7 L530.0,152.7 L530.5,154.2 L531.0,151.1 L531.5,147.5 L532.0,144.0 L532.5,140.6 L533.0,137.3 L533.5,134.7 L534.0,133.0 L534.5,130.7 L535.0,128.5 L535.5,127.7 L536.0,126.8 L536.5,125.0 L537.0,129.5 L537.5,133.9 L537.8,136.1 L538.0,136.6 L538.5,137.9 L539.0,139.2 L539.5,140.6 L540.0,139.3 L540.5,137.8 L541.0,136.4 L541.5,138.4 L542.0,140.5 L542.5,141.5 L543.0,144.5 L543.5,148.3 L544.0,152.0 L544.5,156.6 L545.0,161.1 L545.5,165.4 L546.0,168.4 L546.5,170.8 L547.0,173.2 L547.5,174.1 L548.0,174.9 L548.5,176.3 L549.0,177.4 L549.5,179.2 L550.0,181.0 L550.5,178.2 L551.0,175.5 L551.5,174.4 L552.0,172.6 L552.5,170.3 L553.0,168.1 L553.5,165.6 L554.0,163.1 L554.5,161.7 L555.0,159.9 L555.5,157.4 L556.0,154.9 L556.5,150.6 L557.0,146.4 L557.5,143.2 L558.0,140.5 L558.5,138.6 L559.0,136.6 L559.5,134.4 L560.0,132.2 L560.5,128.4 L561.0,123.4 L561.5,119.0 L562.0,114.6 L562.5,110.5 L563.0,106.4 L563.5,103.2 L564.0,105.8 L564.5,107.2 L565.0,108.6 L565.5,113.0 L566.0,117.5 L566.5,121.3 L567.0,118.8 L567.5,116.8 L568.0,114.8 L568.5,111.4 L569.0,108.0 L569.5,104.5 L570.0,108.6 L570.5,112.3 L571.0,115.9 L571.5,119.0 L572.0,122.0 L572.5,125.2 L573.0,128.0 L573.5,130.0 L574.0,132.0 L574.5,135.0 L575.0,138.0 L575.5,142.5 L576.0,147.9 L576.5,151.9 L577.0,155.9 L577.5,153.7 L578.0,151.5 L578.5,149.2 L579.0,151.4 L579.5,153.6 L580.0,155.8 L580.5,158.2 L581.0,160.6 L581.5,163.7 L582.0,166.8 L582.5,168.4 L583.0,170.0 L583.5,169.6 L584.0,169.2 L584.5,168.0 L585.0,168.5 L585.5,169.2 L586.0,170.0 L586.5,173.9 L587.0,177.9 L587.5,181.5 L588.0,186.8 L588.5,190.7 L589.0,194.6 L589.5,193.3 L590.0,192.0 L590.5,191.5 L591.0,191.1 L591.5,189.3 L592.0,187.5 L592.5,187.0 L593.0,186.5 L593.5,185.5 L594.0,185.8 L594.5,186.5 L595.0,187.2 L595.5,189.0 L596.0,190.8 L596.5,192.2 L597.0,193.6 L597.5,195.0 L598.0,196.4 L598.5,197.5 L599.0,198.6 L599.5,200.2 L600.0,200.0 L600.5,198.8 L601.0,197.5 L601.4,197.4 L601.5,197.5 L602.0,198.4 L602.5,199.3 L603.0,200.2 L603.5,202.1 L603.7,203.0 L604.0,203.3 L604.5,202.3 L605.0,201.4 L605.5,201.9 L606.0,202.5 L606.0,202.5 L606.5,200.2 L607.0,198.0 L607.2,196.9 L607.5,193.9 L608.0,189.4 L608.3,187.4 L608.5,186.0 L609.0,182.7 L609.5,178.0 L610.0,173.3 L610.0,173.1 L610.5,170.7 L611.0,168.1 L611.5,165.3 L611.7,164.1 L612.0,162.3 L612.5,159.0 L613.0,155.7 L613.5,152.2" stroke="#1e8c1e" stroke-width="1.6"/>
<path d="M82.0,164.1 L82.5,163.0 L83.0,161.9 L83.5,162.8 L83.8,163.3 L84.0,163.9 L84.5,164.2 L85.0,164.6 L85.5,165.6 L86.0,164.3 L86.5,163.3 L87.0,162.3 L87.5,160.7 L88.0,159.7 L88.5,158.2 L89.0,156.8 L89.5,155.9 L90.0,156.6 L90.5,157.7 L91.0,158.8 L91.2,159.2 L91.5,158.8 L92.0,158.2 L92.5,156.9 L93.0,155.5 L93.5,155.5 L94.0,155.5 L94.5,156.6 L95.0,157.7 L95.5,159.2 L96.0,160.7 L96.5,160.2 L97.0,159.8 L97.5,159.6 L98.0,159.5 L98.5,159.8 L98.8,159.9 L99.0,158.7 L99.5,155.8 L100.0,153.0 L100.5,150.7 L101.0,151.2 L101.5,151.5 L102.0,151.8 L102.5,151.5 L103.0,149.2 L103.5,148.4 L104.0,147.5 L104.5,145.0 L105.0,143.2 L105.5,142.6 L106.0,142.0 L106.2,141.5 L106.5,141.0 L107.0,140.1 L107.5,139.3 L108.0,138.4 L108.5,140.0 L109.0,141.6 L109.5,143.4 L110.0,145.3 L110.5,148.1 L111.0,150.9 L111.2,152.1 L111.5,153.3 L112.0,155.7 L112.5,157.9 L113.0,160.0 L113.5,157.9 L114.0,155.8 L114.5,155.4 L115.0,156.8 L115.5,158.2 L116.0,159.5 L116.2,159.8 L116.5,159.4 L117.0,158.6 L117.5,158.4 L118.0,158.2 L118.5,160.4 L119.0,162.5 L119.5,163.7 L120.0,164.9 L120.5,163.6 L121.0,162.3 L121.5,162.7 L122.0,163.2 L122.5,160.2 L123.0,157.2 L123.2,155.4 L123.5,153.3 L124.0,148.9 L124.5,145.6 L125.0,142.4 L125.5,141.7 L126.0,141.1 L126.5,140.0 L127.0,138.9 L127.5,137.1 L128.0,135.2 L128.5,133.0 L129.0,134.1 L129.5,134.7 L130.0,135.2 L130.5,136.2 L131.0,137.2 L131.5,138.2 L132.0,136.6 L132.5,134.4 L133.0,132.2 L133.5,130.1 L134.0,130.4 L134.5,130.4 L135.0,130.4 L135.5,129.3 L136.0,128.1 L136.2,127.0 L136.5,126.7 L137.0,126.0 L137.5,124.6 L138.0,123.3 L138.5,123.7 L138.8,123.9 L139.0,124.4 L139.5,125.6 L140.0,126.7 L140.5,127.0 L141.0,127.3 L141.2,127.0 L141.5,126.0 L142.0,124.0 L142.5,122.4 L143.0,120.7 L143.5,121.5 L144.0,122.3 L144.5,122.9 L145.0,123.5 L145.5,127.2 L146.0,130.9 L146.5,134.5 L147.0,136.5 L147.5,138.6 L148.0,140.7 L148.5,142.7 L149.0,142.6 L149.5,143.5 L150.0,144.4 L150.5,144.5 L151.0,144.6 L151.5,145.9 L152.0,147.2 L152.5,146.7 L153.0,146.1 L153.5,145.3 L153.8,144.9 L154.0,145.4 L154.5,145.8 L155.0,146.2 L155.5,146.0 L156.0,144.2 L156.5,144.6 L157.0,145.0 L157.5,143.8 L158.0,144.1 L158.5,144.5 L159.0,144.9 L159.5,144.6 L160.0,145.4 L160.5,147.8 L161.0,150.2 L161.2,151.4 L161.5,152.6 L162.0,155.0 L162.5,155.5 L163.0,156.0 L163.5,158.3 L164.0,160.6 L164.5,161.7 L165.0,160.6 L165.5,158.7 L166.0,156.9 L166.2,156.9 L166.5,156.4 L167.0,155.5 L167.5,153.3 L168.0,151.1 L168.5,149.8 L169.0,148.4 L169.5,148.1 L170.0,147.8 L170.5,146.6 L171.0,145.3 L171.5,143.0 L172.0,140.8 L172.5,139.0 L173.0,137.2 L173.5,135.1 L174.0,133.0 L174.5,131.9 L175.0,130.2 L175.5,129.0 L176.0,127.8 L176.2,126.7 L176.5,125.7 L177.0,123.7 L177.5,122.1 L178.0,119.9 L178.5,118.1 L179.0,116.2 L179.5,119.0 L180.0,121.8 L180.5,124.2 L181.0,125.0 L181.5,126.2 L182.0,127.5 L182.5,129.8 L183.0,132.1 L183.5,133.3 L184.0,134.9 L184.5,136.6 L185.0,138.2 L185.5,141.2 L186.0,144.3 L186.5,147.9 L187.0,151.1 L187.5,153.8 L188.0,156.4 L188.5,160.1 L189.0,163.8 L189.5,165.7 L190.0,167.3 L190.5,169.1 L191.0,171.0 L191.2,172.6 L191.5,174.2 L192.0,177.5 L192.5,179.3 L193.0,181.2 L193.5,181.8 L194.0,182.4 L194.5,185.4 L195.0,188.5 L195.5,185.2 L196.0,181.9 L196.5,180.5 L197.0,179.0 L197.5,176.3 L198.0,173.6 L198.5,170.2 L198.8,168.4 L199.0,166.7 L199.5,163.6 L200.0,160.4 L200.5,158.1 L201.0,156.2 L201.5,153.1 L202.0,150.1 L202.5,148.1 L203.0,146.1 L203.5,144.3 L203.8,143.3 L204.0,142.4 L204.5,141.5 L205.0,140.7 L205.5,138.3 L206.0,136.8 L206.5,135.0 L207.0,133.2 L207.5,133.3 L208.0,133.4 L208.5,133.5 L208.8,133.5 L209.0,133.7 L209.5,134.0 L210.0,134.3 L210.5,135.8 L211.0,136.2 L211.5,135.9 L212.0,135.6 L212.5,135.3 L213.0,135.0 L213.5,134.1 L213.8,133.7 L214.0,134.3 L214.5,135.2 L215.0,136.1 L215.5,137.4 L216.0,138.7 L216.2,139.8 L216.5,140.3 L217.0,141.2 L217.5,142.2 L218.0,143.2 L218.5,144.8 L219.0,146.4 L219.5,147.3 L220.0,148.2 L220.5,150.8 L221.0,153.4 L221.5,154.2 L222.0,155.0 L222.5,155.9 L223.0,156.8 L223.5,158.0 L223.8,158.6 L224.0,159.0 L224.5,161.0 L225.0,163.0 L225.5,164.8 L226.0,165.8 L226.5,166.2 L227.0,166.6 L227.5,167.6 L228.0,166.9 L228.5,166.2 L229.0,165.4 L229.5,164.2 L230.0,162.8 L230.5,162.0 L231.0,161.2 L231.2,160.7 L231.5,160.8 L232.0,160.9 L232.5,160.9 L233.0,161.0 L233.5,159.9 L234.0,158.9 L234.5,157.9 L235.0,156.9 L235.5,156.0 L236.0,155.1 L236.5,153.7 L236.8,153.0 L237.0,152.1 L237.5,150.1 L238.0,148.1 L238.5,146.7 L239.0,145.2 L239.5,146.1 L240.0,147.0 L240.5,147.1 L240.8,147.1 L241.0,146.2 L241.5,146.3 L242.0,146.4 L242.5,145.2 L243.0,143.2 L243.5,141.7 L244.0,140.2 L244.5,137.7 L245.0,135.8 L245.5,135.3 L246.0,134.8 L246.5,132.4 L247.0,130.6 L247.5,129.9 L248.0,129.3 L248.2,128.7 L248.5,129.6 L249.0,131.4 L249.5,133.9 L250.0,136.3 L250.5,138.4 L251.0,140.5 L251.5,142.6 L252.0,144.7 L252.5,146.4 L253.0,148.2 L253.5,149.3 L254.0,150.3 L254.5,151.2 L255.0,152.1 L255.5,152.6 L255.8,152.8 L256.0,152.8 L256.5,153.3 L257.0,153.7 L257.5,154.8 L258.0,154.9 L258.5,155.0 L259.0,155.1 L259.5,154.6 L260.0,153.1 L260.5,151.8 L261.0,150.6 L261.5,148.0 L262.0,144.3 L262.5,143.1 L263.0,141.9 L263.2,141.0 L263.5,140.3 L264.0,138.8 L264.5,136.3 L265.0,133.8 L265.5,129.8 L266.0,125.8 L266.5,123.2 L267.0,120.5 L267.5,119.9 L268.0,119.2 L268.5,119.2 L269.0,119.1 L269.5,120.3 L270.0,121.5 L270.5,123.6 L270.8,124.7 L271.0,126.2 L271.5,128.4 L272.0,130.7 L272.5,132.0 L273.0,131.5 L273.5,132.3 L274.0,133.1 L274.5,133.3 L275.0,134.2 L275.5,134.3 L276.0,134.3 L276.5,135.1 L277.0,137.2 L277.5,138.7 L278.0,140.3 L278.2,142.0 L278.5,144.3 L279.0,148.9 L279.5,151.1 L280.0,153.2 L280.5,155.9 L281.0,158.6 L281.5,162.5 L282.0,165.2 L282.5,168.2 L283.0,171.1 L283.2,172.3 L283.5,173.1 L284.0,174.5 L284.5,175.5 L285.0,176.4 L285.5,177.9 L286.0,179.3 L286.5,180.3 L287.0,178.8 L287.5,177.9 L288.0,177.1 L288.2,177.5 L288.5,177.2 L289.0,176.6 L289.5,174.7 L290.0,172.8 L290.5,169.2 L291.0,165.5 L291.5,162.3 L292.0,158.6 L292.5,154.3 L293.0,150.0 L293.5,147.7 L294.0,145.5 L294.5,143.6 L295.0,144.0 L295.5,143.9 L296.0,143.9 L296.5,140.1 L297.0,136.3 L297.5,134.0 L298.0,131.7 L298.1,131.3 L298.5,127.5 L299.0,123.3 L299.5,119.4 L300.0,115.5 L300.1,114.8 L300.5,116.3 L301.0,118.1 L301.5,119.6 L302.0,121.1 L302.1,121.8 L302.5,122.3 L303.0,123.2 L303.5,124.0 L303.5,124.0 L304.0,122.8 L304.5,120.6 L304.9,119.0 L305.0,120.2 L305.5,125.7 L306.0,131.2 L306.2,134.0 L306.5,135.3 L307.0,138.0 L307.3,138.6 L307.5,135.8 L308.0,129.7 L308.5,124.5 L308.6,123.0 L309.0,123.0 L309.5,123.6 L310.0,124.1 L310.5,125.0 L310.7,125.4 L311.0,127.0 L311.5,130.6 L312.0,134.3 L312.1,134.5 L312.5,139.4 L313.0,144.8 L313.1,145.7 L313.5,145.9 L314.0,146.2 L314.5,147.3 L314.8,147.9 L315.0,147.1 L315.5,145.6 L315.8,144.7 L316.0,144.8 L316.5,143.4 L317.0,142.0 L317.2,141.8 L317.5,140.3 L318.0,138.0 L318.5,136.7 L318.5,136.5 L319.0,135.4 L319.5,133.8 L319.6,133.6 L320.0,135.7 L320.5,138.1 L320.6,138.5 L321.0,141.3 L321.5,144.2 L321.6,144.8 L322.0,142.8 L322.5,140.7 L323.0,138.7 L323.0,138.6 L323.5,137.4 L324.0,136.2 L324.4,134.5 L324.5,133.9 L325.0,131.7 L325.4,129.5 L325.5,128.8 L326.0,125.8 L326.4,124.8 L326.5,124.6 L327.0,123.7 L327.1,123.6 L327.5,124.9 L328.0,126.5 L328.5,127.7 L328.8,128.4 L329.0,129.1 L329.5,130.7 L330.0,132.4 L330.1,132.9 L330.5,133.5 L331.0,134.3 L331.5,134.5 L332.0,134.7 L332.2,134.8 L332.5,135.2 L333.0,135.7 L333.5,137.2 L334.0,138.7 L334.2,139.2 L334.5,139.5 L335.0,140.1 L335.5,141.5 L336.0,142.9 L336.3,142.9 L336.5,142.9 L337.0,142.8 L337.5,143.8 L338.0,144.7 L338.4,144.6 L338.5,144.6 L339.0,144.3 L339.5,146.1 L339.7,146.8 L340.0,146.7 L340.5,144.6 L341.0,142.5 L341.1,142.2 L341.5,140.8 L342.0,139.1 L342.5,138.6 L343.0,138.0 L343.1,137.6 L343.5,137.0 L344.0,136.1 L344.2,135.8 L344.5,136.8 L345.0,138.3 L345.2,138.9 L345.5,140.1 L346.0,141.9 L346.5,141.5 L347.0,141.1 L347.5,142.4 L348.0,143.8 L348.5,143.6 L349.0,144.2 L349.5,147.0 L350.0,149.9 L350.5,152.2 L351.0,154.5 L351.5,155.8 L352.0,155.8 L352.5,155.9 L353.0,156.0 L353.5,155.8 L354.0,155.7 L354.5,155.6 L355.0,153.4 L355.5,149.7 L356.0,145.9 L356.5,143.1 L357.0,140.3 L357.5,137.1 L358.0,133.1 L358.5,129.1 L359.0,125.0 L359.5,122.9 L360.0,120.7 L360.5,118.5 L361.0,117.1 L361.5,115.2 L362.0,113.3 L362.5,110.4 L363.0,107.6 L363.5,105.1 L364.0,103.4 L364.5,101.3 L365.0,99.1 L365.5,100.7 L366.0,102.2 L366.5,104.3 L367.0,108.5 L367.5,110.8 L368.0,113.1 L368.5,115.4 L369.0,117.6 L369.5,121.5 L370.0,125.8 L370.5,128.5 L371.0,131.3 L371.5,134.8 L372.0,138.3 L372.5,142.4 L373.0,144.8 L373.5,145.4 L374.0,145.9 L374.5,145.5 L375.0,145.1 L375.5,145.8 L376.0,146.5 L376.5,148.3 L377.0,150.1 L377.5,149.7 L378.0,149.2 L378.5,148.8 L379.0,144.7 L379.5,140.7 L380.0,136.8 L380.5,132.6 L381.0,128.4 L381.5,124.0 L382.0,119.5 L382.5,115.0 L383.0,110.5 L383.5,106.7 L384.0,102.9 L384.5,100.9 L385.0,102.7 L385.5,104.8 L386.0,106.8 L386.5,109.2 L387.0,111.6 L387.5,113.9 L388.0,115.7 L388.5,117.8 L389.0,119.8 L389.5,122.2 L390.0,124.5 L390.5,127.7 L391.0,131.4 L391.5,134.0 L392.0,136.6 L392.5,140.8 L393.0,144.9 L393.5,148.3 L394.0,152.0 L394.5,156.5 L395.0,161.0 L395.5,163.0 L396.0,165.1 L396.5,167.5 L397.0,166.2 L397.5,165.0 L398.0,163.8 L398.5,160.9 L399.0,158.1 L399.5,155.1 L400.0,152.1 L400.5,150.1 L401.0,148.1 L401.5,145.8 L402.0,143.5 L402.5,143.2 L403.0,145.0 L403.5,145.2 L404.0,145.3 L404.5,143.9 L405.0,142.5 L405.5,142.2 L406.0,142.3 L406.5,141.2 L407.0,140.1 L407.5,139.4 L408.0,138.8 L408.5,137.7 L409.0,136.2 L409.5,135.5 L410.0,134.7 L410.5,134.8 L411.0,134.9 L411.5,133.6 L412.0,132.0 L412.5,130.7 L413.0,129.5 L413.5,129.5 L414.0,129.4 L414.5,128.9 L415.0,128.0 L415.5,126.9 L416.0,125.9 L416.5,126.5 L417.0,127.1 L417.5,127.0 L418.0,128.1 L418.5,128.8 L419.0,129.5 L419.5,131.9 L420.0,134.4 L420.5,134.8 L421.0,135.1 L421.5,136.4 L422.0,137.6 L422.5,137.7 L423.0,137.7 L423.5,138.5 L423.8,138.9 L424.0,139.1 L424.5,139.3 L425.0,139.4 L425.5,139.8 L426.0,139.1 L426.5,138.7 L427.0,138.4 L427.5,134.8 L428.0,131.2 L428.5,127.1 L429.0,124.2 L429.5,121.4 L430.0,118.6 L430.5,116.7 L431.0,114.8 L431.5,111.7 L432.0,110.9 L432.5,110.1 L433.0,109.4 L433.5,108.3 L434.0,107.2 L434.5,106.6 L435.0,106.1 L435.5,105.7 L436.0,109.2 L436.5,112.7 L437.0,116.2 L437.5,119.4 L438.0,122.0 L438.5,124.1 L439.0,126.1 L439.5,127.3 L440.0,128.4 L440.5,129.9 L441.0,131.4 L441.5,133.1 L442.0,134.7 L442.5,135.6 L443.0,136.5 L443.5,139.2 L444.0,141.9 L444.5,143.8 L445.0,142.2 L445.5,141.8 L446.0,141.5 L446.5,140.5 L447.0,138.7 L447.5,136.5 L448.0,134.4 L448.5,131.3 L449.0,123.5 L449.5,117.4 L450.0,111.4 L450.5,107.7 L451.0,104.0 L451.5,100.2 L452.0,102.5 L452.5,103.8 L453.0,105.0 L453.5,107.2 L454.0,106.9 L454.5,106.2 L455.0,105.6 L455.5,105.0 L456.0,107.6 L456.5,108.6 L457.0,109.6 L457.5,109.7 L458.0,109.8 L458.5,108.7 L459.0,109.5 L459.5,110.0 L460.0,110.4 L460.5,110.7 L461.0,113.3 L461.5,116.2 L462.0,119.1 L462.5,120.7 L463.0,122.3 L463.5,124.3 L464.0,124.5 L464.5,123.6 L465.0,122.6 L465.5,121.3 L466.0,123.2 L466.5,125.9 L467.0,128.6 L467.5,128.3 L468.0,128.0 L468.5,127.5 L469.0,129.9 L469.5,132.8 L470.0,135.6 L470.5,135.0 L471.0,134.4 L471.5,133.1 L472.0,134.1 L472.5,135.5 L473.0,136.9 L473.5,138.1 L474.0,139.5 L474.5,142.1 L475.0,144.8 L475.5,149.0 L476.0,153.2 L476.5,157.3 L477.0,158.5 L477.5,160.6 L478.0,162.6 L478.5,162.3 L479.0,162.1 L479.5,163.2 L480.0,161.8 L480.5,160.1 L481.0,158.3 L481.5,156.2 L482.0,154.2 L482.5,152.0 L483.0,153.7 L483.5,154.8 L484.0,156.0 L484.5,152.6 L485.0,149.3 L485.5,146.6 L486.0,149.0 L486.5,151.4 L487.0,153.8 L487.5,150.5 L488.0,147.2 L488.5,143.4 L489.0,141.6 L489.5,140.4 L490.0,139.3 L490.5,138.3 L491.0,137.4 L491.5,136.4 L492.0,139.9 L492.5,142.6 L493.0,145.3 L493.5,148.1 L494.0,151.0 L494.5,155.6 L495.0,158.6 L495.5,160.4 L496.0,162.1 L496.5,163.0 L497.0,163.8 L497.5,165.2 L498.0,166.3 L498.5,168.4" stroke="#8c0f2d" stroke-width="1.6"/>
<path d="M541.5,140.1 L542.0,142.5 L542.5,143.9 L543.0,145.3 L543.5,148.0 L544.0,150.7 L544.5,154.6 L545.0,158.5 L545.5,160.6 L546.0,162.7 L546.5,164.9 L547.0,167.1 L547.5,169.3 L548.0,170.0 L548.5,170.6 L549.0,171.3 L549.5,171.0 L550.0,170.8 L550.5,170.1 L551.0,168.9 L551.5,167.4 L552.0,166.0 L552.5,164.6 L553.0,163.1 L553.5,161.5 L554.0,159.5 L554.5,158.7 L555.0,157.9" stroke="#8c0f2d" stroke-width="1.6"/>
<path d="M73.8,149.8 L74.2,152.0 L74.8,154.1 L75.0,155.1 L75.2,156.1 L75.8,158.2 L76.2,160.4 L76.8,162.7 L77.0,163.9 L77.2,161.9 L77.8,158.0 L78.2,153.8 L78.8,149.2 L79.2,147.9 L79.8,147.8 L80.2,147.2 L80.5,146.7 L80.8,148.7 L81.2,152.7 L81.8,156.5 L82.0,158.4 L82.2,157.4 L82.8,155.3 L83.2,153.9 L83.8,153.1 L84.2,148.9 L84.8,144.0 L85.2,140.0 L85.5,138.4 L85.8,138.5 L86.2,138.8 L86.8,139.5 L87.2,139.5 L87.5,139.2 L87.8,140.6 L88.2,143.4 L88.8,146.0 L89.0,147.3 L89.2,147.6 L89.8,148.3 L90.2,148.9 L90.5,149.2 L90.8,148.7 L91.2,147.5 L91.8,146.3 L92.2,145.3 L92.5,144.9 L92.8,145.1 L93.2,145.5 L93.8,145.9 L94.2,146.5 L94.5,147.0 L94.8,146.3 L95.2,144.8 L95.8,143.0 L96.2,140.7 L96.8,142.3 L97.2,144.2 L97.8,146.6 L98.0,147.8 L98.2,146.7 L98.8,144.5 L99.2,142.6 L99.8,140.7 L100.0,139.8 L100.2,139.6 L100.8,139.3 L101.2,138.1 L101.8,136.2 L102.0,135.2 L102.2,133.5 L102.8,130.3 L103.2,127.5 L103.5,126.4 L103.8,126.5 L104.2,126.4 L104.8,125.8 L105.2,125.5 L105.5,125.6 L105.8,125.7 L106.2,125.6 L106.8,125.5 L107.2,125.8 L107.5,126.1 L107.8,128.1 L108.2,131.1 L108.8,133.3 L109.0,134.4 L109.2,135.2 L109.8,136.7 L110.2,138.5 L110.8,140.4 L111.0,141.4 L111.2,142.9 L111.8,145.8 L112.2,148.4 L112.5,149.6 L112.8,149.9 L113.2,150.2 L113.8,150.3 L114.2,150.9 L114.5,151.3 L114.8,151.1 L115.2,150.2 L115.8,149.0 L116.2,148.0 L116.8,146.2 L117.2,144.4 L117.8,142.6 L118.0,141.7 L118.2,142.7 L118.8,144.5 L119.2,145.5 L119.8,145.5 L120.0,145.5 L120.2,145.3 L120.8,145.1 L121.2,145.0 L121.8,145.1 L122.0,145.1 L122.2,144.2 L122.8,142.4 L123.2,140.1 L123.8,137.4 L124.2,135.2 L124.8,133.7 L125.2,131.7 L125.5,130.4 L125.8,130.0 L126.2,129.4 L126.8,129.1 L127.2,128.8 L127.5,128.6 L127.8,127.6 L128.2,125.1 L128.8,122.0 L129.2,119.3 L129.5,118.0 L129.8,119.4 L130.2,122.3 L130.8,125.6 L131.0,127.2 L131.2,128.1 L131.8,130.1 L132.2,131.8 L132.5,132.5 L132.8,131.9 L133.2,130.5 L133.8,129.0 L134.2,127.7 L134.5,127.2 L134.8,126.9 L135.2,126.4 L135.8,126.2 L136.2,125.4 L136.5,124.7 L136.8,124.1 L137.2,123.5 L137.8,123.3 L138.2,123.6 L138.5,123.9 L138.8,125.0 L139.2,127.0 L139.8,128.5 L140.0,129.3 L140.2,129.6 L140.8,130.1 L141.2,130.1 L141.8,129.5 L142.0,129.2 L142.2,128.5 L142.8,127.2 L143.2,126.3 L143.8,125.7 L144.2,128.5 L144.8,131.4 L145.2,134.2 L145.5,135.6 L145.8,136.4 L146.2,137.4 L146.8,138.0 L147.2,139.2 L147.5,140.1 L147.8,140.4 L148.2,141.0 L148.8,141.2 L149.2,141.4 L149.5,141.5 L149.8,140.9 L150.2,139.7 L150.8,138.5 L151.2,137.9 L151.5,137.9 L151.8,138.7 L152.2,140.1 L152.8,141.4 L153.2,142.9 L153.5,143.7 L153.8,143.9 L154.2,143.7 L154.8,143.0 L155.2,141.6 L155.5,140.5 L155.8,139.4 L156.2,138.2 L156.8,137.8 L157.2,137.4 L157.5,137.2 L157.8,137.6 L158.2,138.3 L158.8,138.8 L159.2,139.2 L159.5,139.2 L159.8,139.9 L160.2,141.4 L160.8,143.1 L161.2,145.0 L161.8,148.0 L162.2,150.2 L162.8,151.9 L163.0,152.7 L163.2,153.9 L163.8,156.5 L164.2,158.6 L164.8,160.3 L165.0,161.2 L165.2,160.0 L165.8,157.7 L166.2,156.0 L166.8,154.9 L167.0,154.4 L167.2,153.3 L167.8,151.0 L168.2,148.8 L168.8,146.6 L169.2,146.5 L169.8,146.9 L170.2,146.9 L170.5,146.8 L170.8,145.4 L171.2,142.6 L171.8,139.9 L172.0,138.5 L172.2,137.3 L172.8,134.8 L173.2,132.1 L173.5,130.6 L173.8,130.0 L174.2,128.9 L174.8,127.8 L175.0,127.2 L175.2,126.4 L175.8,124.8 L176.2,122.9 L176.5,121.9 L176.8,120.9 L177.2,118.2 L177.8,114.7 L178.0,113.0 L178.2,112.2 L178.8,110.6 L179.2,108.7 L179.5,107.6 L179.8,108.9 L180.2,112.1 L180.8,115.7 L181.0,117.5 L181.2,118.0 L181.8,119.0 L182.2,119.9 L182.5,120.3 L182.8,120.7 L183.2,121.3 L183.8,121.7 L184.0,122.0 L184.2,122.5 L184.8,123.7 L185.2,125.0 L185.5,125.9 L185.8,126.9 L186.2,129.4 L186.8,132.5 L187.0,134.1 L187.2,135.1 L187.8,137.2 L188.2,139.3 L188.5,140.5 L188.8,142.1 L189.2,144.9 L189.8,147.4 L190.0,148.6 L190.2,150.3 L190.8,153.5 L191.2,157.4 L191.5,159.6 L191.8,162.1 L192.2,166.3 L192.8,169.9 L193.0,171.6 L193.2,172.2 L193.8,173.2 L194.2,175.3 L194.8,178.3 L195.0,179.9 L195.2,178.3 L195.8,175.1 L196.2,172.3 L196.8,170.0 L197.0,168.8 L197.2,167.7 L197.8,165.5 L198.2,162.9 L198.5,161.4 L198.8,159.7 L199.2,156.0 L199.8,152.1 L200.0,150.2 L200.2,149.0 L200.8,146.8 L201.2,143.9 L201.5,142.1 L201.8,140.5 L202.2,137.6 L202.8,134.7 L203.0,133.3 L203.2,132.2 L203.8,129.9 L204.2,127.1 L204.5,125.5 L204.8,124.0 L205.2,121.2 L205.8,118.6 L206.0,117.3 L206.2,115.1 L206.8,110.6 L207.0,108.4 L207.2,109.0 L207.8,110.2 L208.2,111.7 L208.5,112.6 L208.8,111.8 L209.2,110.0 L209.8,107.9 L210.0,106.8 L210.2,107.9 L210.8,109.9 L211.2,112.4 L211.5,113.7 L211.8,113.2 L212.2,111.7 L212.8,109.7 L213.0,108.7 L213.2,109.2 L213.8,110.1 L214.2,110.9 L214.5,111.2 L214.8,110.2 L215.2,108.3 L215.5,107.3 L215.8,110.1 L216.2,115.7 L216.5,118.5 L216.8,119.9 L217.2,122.8 L217.8,125.8 L218.0,127.3 L218.2,128.1 L218.8,129.8 L219.2,131.5 L219.5,132.4 L219.8,132.6 L220.2,133.6 L220.8,135.1 L221.0,135.8 L221.2,137.0 L221.8,139.3 L222.2,141.5 L222.5,142.6 L222.8,143.9 L223.2,146.5 L223.8,149.3 L224.0,150.7 L224.2,151.8 L224.8,154.2 L225.2,155.9 L225.5,156.5 L225.8,156.9 L226.2,157.9 L226.8,159.2 L227.2,160.8 L227.5,161.8 L227.8,161.7 L228.2,161.0 L228.8,159.8 L229.2,158.8 L229.5,158.4 L229.8,158.0 L230.2,157.1 L230.8,156.2 L231.2,155.6 L231.8,156.9 L232.2,157.4 L232.8,157.0 L233.0,156.8 L233.2,156.4 L233.8,155.5 L234.2,155.0 L234.8,154.8 L235.0,154.7 L235.2,155.0 L235.8,155.7 L236.2,155.8 L236.8,155.3 L237.2,153.6 L237.8,152.4 L238.2,151.5 L238.8,153.9 L239.2,155.3 L239.5,155.6 L239.8,154.1 L240.2,151.3 L240.8,148.6 L241.0,147.3 L241.2,147.0 L241.8,146.5 L242.2,145.7 L242.5,145.2 L242.8,144.3 L243.2,142.4 L243.8,140.3 L244.2,138.1 L244.5,136.9 L244.8,136.5 L245.2,136.5 L245.8,137.3 L246.0,137.7 L246.2,137.0 L246.8,135.5 L247.0,134.8 L247.2,134.1 L247.8,132.9 L248.2,131.2 L248.8,133.7 L249.2,136.5 L249.5,138.1 L249.8,139.0 L250.2,140.7 L250.8,142.2 L251.0,143.0 L251.2,142.6 L251.8,141.7 L252.2,140.9 L252.5,140.7 L252.8,139.8 L253.2,137.5 L253.8,134.8 L254.0,133.4 L254.2,130.8 L254.8,125.7 L255.0,123.2 L255.2,124.7 L255.8,127.8 L256.0,129.4" stroke="#ff00ff" stroke-width="1.6"/>
<path d="M60.0,117.4 L60.5,114.0 L61.0,110.6 L61.2,109.5 L61.5,109.1 L62.0,108.3 L62.5,107.4 L63.0,111.4 L63.5,114.0 L63.8,115.3 L64.0,116.2 L64.5,118.3 L65.0,120.4 L65.5,120.9 L66.0,121.4 L66.5,121.9 L67.0,126.6 L67.5,131.3 L68.0,135.9 L68.5,134.4 L69.0,133.0 L69.5,131.9 L70.0,130.7 L70.5,132.1 L71.0,133.4 L71.2,134.2 L71.5,135.8 L72.0,139.1 L72.5,142.8 L73.0,146.5 L73.5,150.2 L74.0,153.9 L74.5,157.0 L75.0,158.5 L75.5,160.9 L76.0,163.2 L76.2,164.4 L76.5,165.2 L77.0,166.9 L77.5,167.5 L78.0,168.1 L78.5,164.7 L79.0,161.2 L79.5,158.8 L80.0,158.4 L80.5,156.8 L81.0,155.2 L81.2,154.5 L81.5,156.7 L82.0,161.3 L82.5,165.3 L83.0,163.9 L83.5,163.1 L84.0,162.4 L84.5,161.5 L85.0,157.9 L85.5,154.4 L86.0,150.8 L86.2,149.1 L86.5,149.0 L87.0,148.8 L87.5,148.4 L88.0,147.9 L88.5,149.3 L89.0,150.7 L89.5,152.1 L90.0,154.2 L90.5,155.7 L91.0,157.2 L91.2,157.8 L91.5,157.2 L92.0,156.0 L92.5,155.5 L93.0,154.9 L93.5,155.0 L94.0,155.0 L94.5,155.7 L95.0,156.4 L95.5,157.2 L96.0,158.0 L96.5,157.8 L97.0,157.7 L97.5,157.5 L98.0,157.4 L98.5,157.8 L98.8,158.0 L99.0,156.5 L99.5,154.1 L100.0,151.8 L100.5,149.7 L101.0,150.7 L101.5,150.3 L102.0,149.8 L102.5,149.8 L103.0,148.0 L103.5,146.2 L104.0,144.5 L104.5,143.4 L105.0,142.5 L105.5,141.9 L106.0,141.3 L106.2,140.5 L106.5,140.0 L107.0,138.8 L107.5,137.6 L108.0,136.4 L108.5,137.8 L109.0,139.3 L109.5,140.9 L110.0,142.5 L110.5,145.5 L111.0,148.4 L111.2,149.6 L111.5,151.0 L112.0,153.8 L112.5,155.8 L113.0,157.8 L113.5,155.3 L114.0,152.8 L114.5,150.6 L115.0,151.5 L115.5,152.8 L116.0,154.0 L116.2,154.4 L116.5,153.4 L117.0,151.3 L117.5,150.0 L118.0,148.6 L118.5,150.8 L119.0,153.0 L119.5,153.4 L120.0,153.9 L120.5,153.8 L121.0,153.8 L121.5,154.7 L122.0,155.7 L122.5,151.9 L123.0,148.0 L123.2,145.7 L123.5,144.2 L124.0,141.2 L124.5,138.3 L125.0,135.5 L125.5,136.4 L126.0,137.3 L126.5,138.0 L127.0,138.7 L127.5,136.0 L128.0,133.3 L128.5,130.0 L129.0,131.6 L129.5,133.2 L130.0,134.8 L130.5,136.3 L131.0,137.7 L131.5,139.4 L132.0,137.6 L132.5,135.8 L133.0,133.9 L133.5,131.3 L134.0,131.3 L134.5,132.2 L135.0,133.0 L135.5,132.2 L136.0,131.4 L136.5,129.2 L137.0,127.0 L137.5,127.9 L138.0,128.8 L138.5,130.3 L139.0,131.7 L139.5,130.1 L140.0,128.5 L140.5,127.6 L141.0,129.7 L141.5,130.3 L142.0,130.9 L142.5,129.7 L143.0,128.5 L143.5,128.1 L143.8,128.0 L144.0,129.6 L144.5,132.6 L145.0,135.6 L145.5,136.7 L146.0,137.8 L146.5,138.1 L147.0,138.4 L147.5,139.6 L148.0,140.8 L148.5,141.9 L149.0,140.9 L149.5,140.6 L150.0,140.2 L150.5,140.8 L151.0,141.5 L151.5,142.8 L152.0,144.0 L152.5,143.6 L153.0,143.2 L153.5,142.5 L153.8,142.2 L154.0,143.0 L154.5,143.8 L155.0,144.6 L155.5,145.0 L156.0,143.0 L156.5,142.9 L157.0,142.8 L157.5,141.4 L158.0,141.9 L158.5,142.3 L159.0,142.7 L159.5,143.0 L160.0,144.4 L160.5,146.3 L161.0,148.3 L161.2,149.1 L161.5,150.0 L162.0,151.8 L162.5,152.8 L163.0,153.8 L163.5,156.2 L164.0,158.6 L164.5,160.5 L165.0,159.3 L165.5,158.1 L166.0,156.9 L166.2,155.9 L166.5,154.8 L167.0,152.5 L167.5,149.7 L168.0,146.8 L168.5,146.7 L169.0,146.6 L169.5,146.7 L170.0,146.8 L170.5,144.7 L171.0,142.7 L171.5,140.6 L172.0,138.5 L172.5,136.1 L173.0,133.7 L173.5,132.2 L174.0,130.7 L174.5,130.4 L175.0,129.1 L175.5,127.0 L176.0,125.0 L176.2,124.1 L176.5,123.1 L177.0,121.0 L177.5,118.7 L178.0,116.0 L178.5,113.4 L179.0,110.9 L179.5,113.9 L180.0,117.0 L180.5,119.6 L181.0,119.7 L181.5,120.5 L182.0,121.3 L182.5,123.9 L183.0,126.6 L183.5,127.9 L184.0,129.2 L184.5,130.5 L185.0,131.8 L185.5,135.1 L186.0,138.3 L186.5,141.1 L187.0,144.0 L187.5,146.4 L188.0,148.8 L188.5,152.5 L189.0,156.2 L189.5,159.4 L190.0,162.1 L190.5,164.5 L191.0,166.9 L191.2,168.7 L191.5,170.4 L192.0,173.8 L192.5,175.9 L193.0,178.1 L193.5,178.7 L194.0,179.2 L194.5,181.5 L195.0,183.8 L195.5,180.7 L196.0,177.5 L196.5,176.4 L197.0,175.3 L197.5,172.7 L198.0,170.1 L198.5,166.9 L198.8,165.3 L199.0,163.5 L199.5,159.9 L200.0,156.3 L200.5,153.6 L201.0,151.2 L201.5,147.1 L202.0,143.1 L202.5,141.5 L203.0,139.9 L203.5,138.0 L203.8,137.0 L204.0,136.1 L204.5,134.3 L205.0,132.6 L205.5,130.4 L206.0,129.2 L206.5,127.8 L207.0,126.3 L207.5,125.8 L208.0,125.2 L208.5,124.9 L208.8,124.8 L209.0,125.2 L209.5,125.4 L210.0,125.5 L210.5,126.9 L211.0,126.7 L211.5,126.4 L212.0,126.0 L212.5,124.7 L213.0,123.4 L213.5,122.8 L213.8,122.4 L214.0,123.2 L214.5,124.8 L215.0,126.3 L215.5,129.1 L216.0,131.8 L216.2,132.9 L216.5,133.2 L217.0,133.6 L217.5,134.2 L218.0,134.8 L218.5,136.6 L219.0,138.4 L219.5,139.7 L220.0,140.9 L220.5,143.7 L221.0,146.5 L221.5,148.0 L222.0,149.5 L222.5,151.2 L223.0,152.9 L223.5,154.7 L223.8,155.6 L224.0,156.3 L224.5,158.3 L225.0,160.3 L225.5,162.4 L226.0,163.7 L226.5,164.4 L227.0,165.2 L227.5,166.1 L228.0,164.8 L228.5,164.2 L229.0,163.5 L229.5,161.7 L230.0,160.0 L230.5,159.0 L231.0,157.9 L231.2,157.7 L231.5,158.2 L232.0,159.1 L232.5,159.0 L233.0,158.8 L233.5,157.6 L234.0,156.4 L234.5,155.4 L235.0,154.3 L235.5,152.8 L236.0,151.3 L236.5,149.9 L236.8,149.2 L237.0,148.6 L237.5,147.5 L238.0,146.4 L238.5,145.6 L239.0,144.7 L239.5,145.2 L240.0,145.7 L240.5,146.2 L240.8,146.4 L241.0,145.6 L241.5,145.0 L242.0,144.5 L242.5,142.6 L243.0,140.6 L243.5,139.3 L244.0,138.0 L244.5,135.8 L245.0,135.9 L245.5,137.3 L246.0,138.6 L246.5,138.8 L247.0,136.6 L247.5,134.5 L248.0,132.5 L248.2,131.5 L248.5,131.9 L249.0,132.7 L249.5,134.1 L250.0,135.6 L250.5,137.9 L251.0,140.1 L251.5,141.9 L252.0,141.2 L252.5,141.3 L253.0,141.4 L253.2,141.3 L253.5,142.1 L254.0,143.7 L254.5,145.6 L255.0,147.5 L255.5,147.2 L256.0,146.8 L256.5,147.0 L257.0,147.2 L257.5,145.7 L258.0,144.2 L258.5,142.2 L259.0,140.1 L259.5,140.0 L260.0,139.9 L260.5,138.6 L260.8,137.9 L261.0,136.8 L261.5,134.6 L262.0,132.4 L262.5,131.8 L263.0,130.5 L263.5,129.2 L264.0,128.0 L264.5,125.3 L265.0,122.7 L265.5,121.2 L265.8,120.4 L266.0,120.2 L266.5,120.3 L267.0,120.5 L267.5,120.2 L268.0,121.1 L268.5,122.1 L269.0,123.1 L269.5,124.0 L270.0,124.8 L270.5,126.5 L270.8,127.3 L271.0,128.5 L271.5,129.6 L272.0,130.8 L272.5,132.6 L273.0,134.2 L273.5,135.8 L274.0,137.5 L274.5,139.3 L275.0,139.3 L275.5,138.2 L276.0,137.1 L276.5,136.5 L277.0,138.4 L277.5,140.1 L278.0,141.7 L278.2,143.4 L278.5,145.4 L279.0,149.3 L279.5,151.5 L280.0,153.7 L280.5,156.0 L281.0,158.4 L281.5,161.4 L282.0,163.7 L282.5,166.8 L283.0,170.0 L283.2,171.4 L283.5,172.2 L284.0,173.9 L284.5,174.7 L285.0,175.6 L285.5,176.5 L286.0,177.4 L286.5,178.2 L287.0,177.0 L287.5,175.9 L288.0,174.8 L288.2,175.0 L288.5,174.6 L289.0,173.9 L289.5,172.4 L290.0,171.0 L290.5,167.9 L291.0,164.9 L291.5,163.1 L292.0,160.5 L292.5,156.4 L293.0,152.2 L293.5,149.9 L294.0,147.6 L294.5,145.5 L295.0,145.0 L295.5,144.6 L296.0,144.3 L296.5,141.9 L297.0,139.5 L297.5,138.5 L297.7,138.1 L298.0,136.9 L298.5,133.6 L299.0,130.2 L299.4,128.4 L299.5,128.6 L300.0,130.0 L300.5,130.6 L301.0,131.1 L301.1,131.2 L301.5,132.1 L302.0,133.2 L302.5,135.6 L302.5,135.7 L303.0,136.6 L303.5,137.0 L304.0,137.4 L304.2,137.4 L304.5,136.6 L305.0,135.4 L305.5,134.6 L305.6,134.5 L306.0,138.7 L306.5,144.1 L306.6,145.1 L307.0,141.6 L307.5,135.5 L307.6,134.1 L308.0,131.7 L308.5,129.2 L308.6,128.6 L309.0,128.6 L309.5,129.4 L310.0,130.3 L310.5,129.0 L311.0,127.7 L311.4,127.6 L311.5,128.2 L312.0,130.3 L312.5,130.7 L312.7,130.9 L313.0,132.0 L313.5,133.9 L313.8,134.8 L314.0,133.7 L314.5,132.9 L315.0,132.0 L315.1,131.9 L315.5,131.9 L316.0,131.9 L316.5,129.7 L316.5,129.7 L317.0,127.9 L317.5,127.3 L317.9,126.8 L318.0,126.1 L318.5,123.6 L319.0,121.2 L319.2,120.0 L319.5,119.7 L320.0,119.1 L320.2,119.0 L320.5,121.2 L321.0,125.7 L321.3,127.8 L321.5,128.1 L322.0,128.6 L322.3,128.7 L322.5,127.8 L323.0,125.3 L323.3,124.3 L323.5,125.0 L324.0,127.1 L324.4,128.0 L324.5,127.0 L325.0,123.7 L325.5,119.9 L325.7,118.3 L326.0,118.4 L326.5,120.2 L327.0,122.0 L327.1,122.2 L327.5,122.6 L328.0,123.1 L328.4,123.5 L328.5,123.6 L329.0,124.8 L329.5,126.1 L329.8,126.9 L330.0,127.3 L330.5,128.7 L331.0,130.1 L331.2,130.3 L331.5,130.6 L332.0,131.1 L332.5,131.7 L332.9,132.2 L333.0,132.3 L333.5,133.4 L334.0,134.5 L334.5,135.0 L334.6,135.1 L335.0,135.8 L335.5,138.1 L336.0,140.1 L336.0,140.0 L336.5,137.3 L337.0,134.7 L337.0,134.6 L337.5,133.6 L338.0,132.7 L338.4,132.2 L338.5,132.1 L339.0,131.7 L339.5,131.9 L340.0,132.0 L340.1,131.7 L340.5,129.3 L341.0,126.5 L341.4,125.0 L341.5,124.8 L342.0,124.0 L342.5,124.1 L342.8,124.1 L343.0,124.7 L343.5,125.8 L343.8,126.4 L344.0,127.0 L344.5,128.6 L344.8,129.6 L345.0,130.0 L345.5,131.7 L346.0,133.4 L346.5,133.6 L347.0,133.8 L347.5,133.0 L348.0,132.2 L348.5,131.2 L349.0,133.1 L349.5,137.1 L350.0,141.2 L350.5,143.8 L351.0,146.4 L351.5,148.3 L352.0,149.3 L352.5,150.8 L353.0,152.4 L353.5,153.4 L354.0,154.4 L354.5,154.8 L355.0,152.6 L355.5,149.9 L356.0,147.1 L356.5,145.1 L357.0,143.1 L357.5,141.3 L358.0,138.3 L358.5,134.0 L359.0,129.8 L359.5,126.6 L360.0,123.4 L360.5,120.5 L361.0,119.6 L361.5,118.3 L362.0,116.9 L362.5,113.5 L363.0,110.0 L363.5,106.2 L364.0,103.1 L364.5,100.9 L365.0,98.6 L365.5,99.7 L366.0,100.8 L366.5,101.7 L367.0,104.8 L367.5,106.9 L368.0,109.1 L368.5,110.9 L369.0,112.8 L369.5,117.0 L370.0,121.6 L370.5,124.6 L371.0,127.6 L371.5,130.9 L372.0,134.2 L372.5,137.8 L373.0,139.7 L373.5,140.1 L374.0,140.5 L374.5,138.9 L375.0,137.3 L375.5,137.0 L376.0,139.3 L376.5,142.0 L377.0,144.8 L377.5,145.9 L378.0,146.9 L378.5,148.9 L379.0,145.2 L379.5,140.8 L380.0,136.5 L380.5,132.4 L381.0,128.3 L381.5,124.0 L382.0,119.7 L382.5,115.5 L383.0,111.3 L383.5,109.5 L384.0,107.7 L384.5,107.1 L385.0,108.5 L385.5,109.9 L386.0,111.2 L386.5,111.2 L387.0,111.3 L387.5,111.2 L388.0,114.5 L388.5,117.0 L389.0,119.6 L389.5,122.7 L390.0,125.7 L390.5,129.1 L391.0,132.0 L391.5,134.0 L392.0,135.9 L392.5,139.2 L393.0,142.4 L393.5,145.6 L394.0,148.4 L394.5,152.0 L395.0,155.7 L395.5,157.1 L396.0,158.5 L396.5,160.8 L397.0,161.9 L397.5,162.6 L398.0,163.3 L398.5,161.0 L399.0,158.7 L399.5,156.4 L400.0,153.2 L400.5,150.9 L401.0,148.6 L401.5,147.0 L402.0,145.5 L402.5,144.5 L403.0,145.6 L403.5,145.9 L404.0,146.2 L404.5,144.3 L405.0,142.5 L405.5,141.2 L406.0,141.2 L406.5,139.9 L407.0,138.5 L407.5,137.3 L408.0,136.2 L408.5,135.1 L409.0,134.0 L409.5,133.2 L410.0,132.5 L410.5,131.0 L411.0,129.4 L411.5,126.8 L412.0,124.5 L412.5,122.8 L413.0,121.1 L413.5,121.9 L414.0,122.6 L414.5,123.9 L415.0,123.4 L415.5,121.6 L416.0,119.8 L416.5,120.2 L417.0,120.7 L417.5,121.0 L418.0,122.6 L418.5,123.3 L419.0,124.1 L419.5,125.6 L420.0,127.2 L420.5,127.5 L421.0,128.3 L421.5,130.2 L422.0,132.1 L422.5,132.6 L423.0,133.1 L423.5,133.8 L423.8,134.1 L424.0,135.3 L424.5,137.6 L425.0,139.9 L425.5,142.7 L426.0,144.5 L426.5,146.5 L427.0,148.4 L427.5,147.1 L428.0,145.8 L428.5,144.1 L429.0,142.0 L429.5,140.2 L430.0,138.5 L430.5,136.8 L431.0,135.1 L431.5,132.4 L432.0,131.6 L432.5,131.4 L433.0,131.2 L433.5,130.4 L434.0,130.0 L434.5,129.4 L435.0,128.8 L435.5,128.7 L436.0,129.5 L436.5,130.2 L437.0,130.9 L437.5,131.5 L438.0,133.5 L438.5,135.0 L439.0,136.5 L439.5,135.7 L440.0,135.0 L440.5,134.8 L441.0,134.6 L441.5,135.9 L442.0,137.2 L442.5,136.8 L443.0,136.5 L443.5,138.0 L444.0,139.6 L444.5,140.7 L445.0,139.4 L445.5,137.9 L446.0,136.5 L446.5,135.6 L447.0,135.4 L447.5,134.8 L448.0,134.3 L448.5,132.3 L449.0,128.0 L449.5,125.3 L450.0,122.7 L450.5,120.2 L451.0,117.8 L451.5,115.7 L452.0,117.1 L452.5,117.7 L453.0,118.3 L453.5,119.6 L454.0,119.7 L454.5,119.6 L455.0,119.5 L455.5,120.0 L456.0,123.3 L456.5,124.5 L457.0,125.7 L457.5,124.4 L458.0,123.0 L458.5,122.1 L459.0,123.7 L459.5,124.9 L460.0,126.0 L460.5,127.2 L461.0,126.8 L461.5,126.0 L462.0,125.2 L462.5,128.0 L463.0,130.8 L463.5,132.9 L464.0,132.3 L464.5,131.3 L465.0,130.2 L465.5,129.8 L466.0,132.0 L466.5,133.9 L467.0,135.9 L467.5,135.3 L468.0,134.8 L468.5,134.3 L469.0,136.7 L469.5,139.8 L470.0,142.8 L470.5,141.5 L471.0,140.1 L471.5,138.3 L472.0,138.4 L472.5,139.5 L473.0,140.5 L473.5,141.0 L474.0,142.9 L474.5,145.5 L475.0,148.2 L475.5,151.0 L476.0,153.8 L476.5,155.6 L477.0,156.1 L477.5,157.4 L478.0,158.8 L478.5,158.6 L479.0,158.5 L479.5,160.0 L480.0,159.0 L480.5,157.3 L481.0,155.5 L481.5,153.0 L482.0,150.5 L482.5,149.0 L483.0,151.3 L483.5,152.6 L484.0,154.0 L484.5,151.5 L485.0,149.0 L485.5,146.4 L486.0,148.5 L486.5,149.8 L487.0,151.1 L487.5,147.9 L488.0,144.6 L488.5,140.9 L489.0,143.0 L489.5,145.8 L490.0,148.7 L490.5,147.0 L491.0,145.4 L491.5,143.5 L492.0,145.8 L492.5,147.0 L493.0,148.3 L493.5,149.4 L494.0,150.6 L494.5,152.8 L495.0,154.1 L495.5,155.5 L496.0,156.9 L496.5,157.6 L497.0,158.3 L497.5,159.5 L498.0,160.4 L498.5,161.6 L499.0,162.9 L499.5,161.5 L500.0,160.0 L500.5,157.5 L501.0,155.7 L501.5,155.6 L502.0,155.5 L502.5,153.2 L503.0,150.8 L503.5,148.4 L504.0,148.8 L504.5,150.3 L505.0,151.7 L505.5,148.7 L506.0,145.6 L506.5,143.3 L507.0,143.1 L507.5,143.1 L508.0,143.2 L508.5,142.0 L509.0,140.8 L509.5,139.7 L510.0,138.5 L510.5,137.4 L511.0,136.3 L511.5,134.9 L512.0,133.5 L512.5,132.3 L513.0,130.6 L513.5,129.8 L514.0,128.9 L514.5,127.4 L515.0,125.9 L515.5,124.1 L516.0,122.3 L516.5,120.6 L517.0,118.9 L517.5,118.9 L518.0,118.9 L518.5,118.4 L519.0,120.8 L519.5,122.8 L520.0,124.8 L520.5,125.7 L521.0,126.5 L521.5,126.1 L522.0,125.0 L522.5,124.7 L523.0,124.4 L523.5,127.1 L524.0,129.8 L524.5,132.2 L525.0,134.9 L525.5,136.2 L526.0,137.5 L526.5,138.5 L527.0,139.4 L527.5,141.2 L528.0,143.4 L528.5,146.0 L529.0,148.6 L529.5,149.8 L530.0,150.9 L530.5,152.6 L531.0,149.7 L531.5,146.5 L532.0,143.4 L532.5,140.3 L533.0,137.2 L533.5,134.7 L534.0,133.0 L534.5,131.0 L535.0,129.0 L535.5,127.9 L536.0,126.8 L536.5,124.2 L537.0,122.5 L537.5,121.5 L538.0,120.4 L538.5,122.6 L539.0,124.7 L539.5,126.6 L540.0,128.0 L540.5,130.5 L541.0,132.9 L541.5,135.0 L542.0,137.1 L542.5,138.0 L543.0,140.2 L543.5,143.5 L544.0,146.9 L544.5,151.0 L545.0,155.2 L545.5,158.0 L546.0,159.6 L546.5,162.1 L547.0,164.6 L547.5,166.3 L548.0,168.1 L548.5,169.7 L549.0,169.3 L549.5,168.8 L550.0,168.4 L550.5,167.3 L551.0,166.1 L551.5,165.0 L552.0,163.9 L552.5,162.3 L553.0,160.7 L553.5,158.9 L554.0,157.1 L554.5,156.5 L555.0,155.1 L555.5,152.1 L556.0,149.1 L556.5,145.2 L557.0,141.4 L557.5,139.2 L558.0,136.5 L558.5,135.1 L559.0,133.6 L559.5,131.2 L560.0,128.7 L560.5,125.6 L561.0,122.0 L561.5,118.8 L562.0,115.7 L562.5,113.4 L563.0,111.1 L563.5,109.7 L564.0,110.0 L564.5,108.6 L565.0,107.2 L565.5,109.6 L566.0,112.1 L566.5,115.5 L567.0,115.1 L567.5,114.5 L568.0,113.8 L568.5,116.2 L569.0,118.7 L569.5,120.7 L570.0,121.1 L570.5,121.8 L571.0,122.5 L571.5,124.6 L572.0,126.6 L572.5,129.6 L573.0,132.5 L573.5,133.3 L574.0,134.0 L574.5,137.0 L575.0,140.0 L575.5,144.2 L576.0,147.3 L576.5,149.9 L577.0,152.5 L577.5,153.3 L578.0,154.1 L578.5,155.0 L579.0,153.8 L579.5,153.1 L580.0,152.5 L580.5,153.5 L581.0,154.5 L581.5,155.5 L582.0,156.1 L582.5,156.0 L583.0,155.8 L583.5,154.4 L584.0,153.0 L584.5,151.1 L585.0,152.2 L585.5,153.3 L586.0,154.4 L586.5,152.9 L587.0,151.4 L587.5,149.4 L588.0,152.0 L588.5,154.3 L589.0,156.7 L589.5,154.2 L590.0,151.6 L590.5,148.7 L591.0,147.0 L591.5,145.3 L592.0,143.7 L592.5,144.2 L593.0,144.8 L593.5,143.9 L594.0,142.5 L594.5,141.0 L595.0,139.5 L595.5,141.7 L596.0,144.0 L596.5,145.4 L597.0,146.8 L597.5,148.5 L598.0,150.2 L598.5,151.7 L599.0,153.2 L599.5,154.8 L600.0,156.6 L600.5,158.4 L601.0,160.2 L601.4,162.1 L601.5,162.2 L602.0,163.7 L602.5,165.5 L603.0,167.3 L603.5,169.8 L603.7,171.0 L604.0,172.1 L604.5,173.2 L605.0,174.3 L605.5,176.1 L606.0,177.8 L606.0,177.8 L606.5,178.9 L607.0,180.1 L607.5,180.9 L608.0,181.7 L608.3,182.7 L608.5,182.1 L609.0,180.4 L609.5,178.4 L610.0,176.5 L610.0,176.4 L610.5,173.6 L611.0,170.7 L611.5,167.0 L611.7,165.3 L612.0,163.1 L612.5,161.4 L613.0,159.6 L613.5,157.0 L613.5,156.7 L614.0,154.1 L614.5,151.5 L615.0,148.9 L615.2,147.9 L615.5,146.2 L616.0,143.6 L616.5,141.8 L616.9,140.5 L617.0,140.0 L617.5,138.3 L618.0,136.5 L618.5,134.7 L618.6,134.3 L619.0,132.5 L619.5,129.8 L620.0,127.2 L620.3,125.8 L620.5,126.6 L621.0,128.5 L621.5,130.1 L622.0,131.7 L622.0,131.8 L622.5,130.8 L623.0,129.8 L623.5,129.8 L623.7,129.8 L624.0,131.1 L624.5,132.8 L625.0,134.6 L625.5,136.4 L625.5,136.6 L626.0,138.9 L626.5,141.4 L627.0,143.9 L627.2,144.8 L627.5,144.6 L628.0,144.3 L628.5,144.5 L628.9,144.6 L629.0,145.1 L629.5,146.6 L630.0,148.0 L630.5,149.9 L630.6,150.3 L631.0,150.4 L631.5,151.6 L632.0,152.9 L632.3,152.9 L632.5,153.2 L633.0,154.1 L633.5,155.8 L634.0,157.5 L634.0,157.5 L634.5,157.4 L635.0,157.3 L635.5,157.6 L635.8,157.8 L636.0,156.7 L636.5,155.2 L637.0,153.8 L637.5,152.7 L637.5,152.7 L638.0,152.3 L638.5,151.5 L639.0,150.7 L639.2,150.4 L639.5,149.5 L640.0,148.1 L640.5,147.5 L640.9,147.0 L641.0,146.8 L641.5,145.0 L642.0,143.2 L642.5,142.2 L642.6,141.9 L643.0,143.0 L643.5,144.5 L644.0,146.0 L644.3,147.2 L644.5,147.1 L645.0,146.8 L645.5,145.7 L646.0,144.6 L646.0,144.5 L646.5,143.3 L647.0,142.0 L647.5,141.0 L647.8,140.5 L648.0,140.0 L648.5,138.9 L649.0,137.9 L649.5,137.2 L649.5,137.2 L650.0,139.0 L650.5,141.1 L651.0,143.3 L651.2,143.9 L651.5,144.4 L652.0,145.3 L652.5,146.7 L652.9,147.7 L653.0,147.9 L653.5,149.2 L654.0,150.6 L654.5,150.9 L654.6,151.0 L655.0,150.4 L655.5,150.1 L656.0,149.9 L656.3,149.7 L656.5,150.2 L657.0,151.6 L657.5,153.1 L658.0,154.6 L658.1,154.6 L658.5,151.2 L659.0,147.3 L659.5,145.7 L659.8,144.9 L660.0,144.1 L660.5,142.3 L661.0,140.4 L661.5,138.7 L661.5,138.7 L662.0,137.4 L662.5,135.9 L663.0,134.3 L663.2,133.3 L663.5,131.5 L664.0,128.4 L664.5,126.3 L664.9,124.6 L665.0,124.3 L665.5,122.9 L666.0,121.4 L666.5,119.0 L666.6,118.4 L667.0,116.4 L667.5,113.5 L668.0,110.6 L668.4,108.3 L668.5,108.4 L669.0,108.4 L669.5,109.3 L670.0,110.1 L670.1,110.4 L670.5,112.4 L671.0,114.7 L671.5,116.3 L671.8,117.2 L672.0,118.5 L672.5,121.1 L672.9,123.4 L673.0,123.0 L673.5,119.2 L674.0,115.4 L674.5,111.0 L674.6,109.8 L675.0,107.6 L675.5,105.8 L676.0,104.1 L676.4,102.9 L676.5,102.3 L677.0,100.2 L677.5,98.1 L678.0,101.8 L678.5,105.1 L679.0,108.4 L679.2,109.7 L679.5,111.2 L680.0,113.8 L680.5,116.5 L680.9,118.9 L681.0,119.1 L681.5,120.9 L682.0,122.6 L682.5,124.5 L682.6,125.0 L683.0,124.6 L683.5,123.0 L684.0,121.5 L684.4,120.3 L684.5,120.8 L685.0,122.5 L685.5,125.9 L686.0,129.4 L686.1,130.0 L686.5,132.1 L687.0,134.6 L687.5,136.6 L687.8,137.7 L688.0,138.7 L688.5,140.0 L689.0,141.4 L689.5,143.2 L689.5,143.2 L690.0,142.3 L690.5,141.6 L690.7,141.4 L691.0,139.6 L691.5,137.6 L692.0,135.5 L692.4,132.9 L692.5,131.7 L693.0,127.0 L693.5,123.7 L694.0,120.4 L694.1,119.7 L694.5,117.0 L695.0,113.8 L695.5,110.6 L695.8,108.7 L696.0,107.9 L696.5,105.4 L697.0,102.8 L697.5,101.5 L697.5,101.4 L698.0,102.6 L698.5,102.9 L699.0,103.3 L699.2,103.4 L699.5,101.6 L700.0,98.2 L700.5,95.0 L701.0,92.1 L701.0,91.8 L701.5,89.5 L702.0,87.1 L702.1,86.5 L702.5,88.4 L703.0,90.7 L703.5,94.7 L703.8,97.1 L704.0,98.0 L704.5,99.1 L705.0,100.2 L705.5,101.0 L705.5,101.1 L706.0,105.4 L706.5,111.0 L706.7,112.9 L707.0,117.7 L707.5,124.4 L707.8,128.6 L708.0,130.8 L708.5,137.5 L709.0,143.7 L709.0,143.9 L709.5,144.0 L710.0,144.2 L710.5,144.7 L710.7,144.9 L711.0,145.8 L711.5,148.0 L712.0,150.3 L712.4,151.9 L712.5,153.2 L713.0,159.2 L713.5,164.5 L713.5,164.8 L714.0,169.2 L714.5,173.9 L714.7,175.6 L715.0,177.4 L715.5,179.9 L715.8,181.5 L716.0,180.5 L716.5,178.0 L717.0,175.4 L717.5,173.8 L717.5,173.7 L718.0,172.2 L718.5,170.8 L719.0,169.4 L719.2,167.8 L719.5,166.4 L720.0,163.6 L720.4,162.1" stroke="#000000" stroke-width="1.7"/>
<path d="M60.0,190.0 L60.5,179.8 L61.0,179.6 L61.5,177.6 L62.0,175.7 L62.5,174.8 L63.0,178.2 L63.5,182.1 L63.8,184.1 L64.0,184.9 L64.5,184.3 L65.0,183.8 L65.5,184.6 L66.0,186.7 L66.5,189.6 L67.0,192.5 L67.5,193.9 L68.0,195.4 L68.5,193.3 L69.0,191.3 L69.5,189.7 L70.0,188.0 L70.5,186.6 L71.0,185.2 L71.2,184.5 L71.5,185.8 L72.0,188.3 L72.5,190.8 L73.0,194.8 L73.5,199.3 L73.8,201.5 L74.0,203.5 L74.5,206.8 L75.0,210.2 L75.5,211.5 L76.0,212.7 L76.5,213.7 L77.0,214.6 L77.5,216.0 L78.0,211.9 L78.5,207.7 L78.8,205.7 L79.0,204.0 L79.5,201.9 L80.0,199.9 L80.5,201.7 L81.0,203.5 L81.5,207.2 L82.0,210.9 L82.5,210.0 L83.0,209.0 L83.5,206.2 L83.8,204.8 L84.0,202.2 L84.5,198.1 L85.0,193.9 L85.5,191.7 L86.0,189.5 L86.2,188.5 L86.5,188.8 L87.0,189.3 L87.5,188.7 L88.0,188.0 L88.5,188.2 L89.0,188.3 L89.5,188.2 L90.0,191.3 L90.5,194.8 L91.0,198.3 L91.2,200.2 L91.5,199.2 L92.0,197.3 L92.5,193.9 L93.0,190.6 L93.5,190.2 L94.0,189.9 L94.5,189.6 L95.0,189.2 L95.5,186.3 L96.0,183.4 L96.2,181.5 L96.5,182.4 L97.0,184.1 L97.5,187.5 L98.0,191.0 L98.5,189.7 L99.0,188.4 L99.5,187.2 L100.0,186.0 L100.5,183.7 L101.0,181.4 L101.5,178.8 L102.0,176.2 L102.5,174.9 L103.0,175.7 L103.5,176.8 L104.0,177.9 L104.5,178.0 L105.0,177.4 L105.5,177.1 L106.0,176.8 L106.2,177.1 L106.5,177.5 L107.0,178.3 L107.5,178.2 L108.0,178.2 L108.5,180.0 L109.0,181.8 L109.5,184.8 L110.0,187.8 L110.5,188.0 L111.0,188.2 L111.2,189.1 L111.5,190.8 L112.0,194.1 L112.5,199.0 L113.0,201.2 L113.5,201.9 L114.0,202.5 L114.5,204.9 L115.0,207.3 L115.5,209.4 L116.0,207.5 L116.5,205.4 L117.0,203.3 L117.5,201.7 L118.0,201.0 L118.5,199.7 L119.0,198.4 L119.5,196.7 L120.0,196.3 L120.5,197.4 L121.0,198.5 L121.2,198.9 L121.5,197.8 L122.0,195.7 L122.5,193.7 L123.0,192.9 L123.5,190.5 L124.0,188.0 L124.5,187.0 L125.0,185.0 L125.5,182.8 L126.0,180.6 L126.2,179.7 L126.5,180.0 L127.0,180.7 L127.5,181.9 L128.0,183.0 L128.5,180.2 L129.0,177.4 L129.5,174.6 L130.0,176.8 L130.5,179.7 L131.0,182.7 L131.2,184.1 L131.5,183.8 L132.0,183.3 L132.5,181.8 L133.0,180.3 L133.5,182.0 L134.0,183.6 L134.5,185.8 L135.0,188.0 L135.5,186.2 L136.0,184.3 L136.5,182.2 L137.0,180.0 L137.5,180.4 L138.0,180.7 L138.5,181.3 L139.0,181.9 L139.5,181.1 L140.0,180.2 L140.5,180.9 L141.0,183.8 L141.5,185.7 L142.0,187.5 L142.5,189.0 L143.0,188.9 L143.5,188.5 L144.0,188.0 L144.5,188.6 L145.0,189.1 L145.5,191.0 L146.0,192.9 L146.5,194.1 L147.0,195.3 L147.5,195.3 L148.0,195.4 L148.5,196.2 L148.8,196.6 L149.0,197.9 L149.5,200.0 L150.0,202.2 L150.5,201.7 L151.0,201.3 L151.5,201.4 L152.0,201.6 L152.5,200.3 L153.0,199.1 L153.5,198.0 L153.8,197.5 L154.0,197.9 L154.5,199.6 L155.0,201.3 L155.5,202.1 L156.0,202.9 L156.2,203.1 L156.5,202.5 L157.0,201.1 L157.5,199.2 L158.0,197.4 L158.5,198.0 L159.0,198.6 L159.5,199.7 L160.0,200.9 L160.5,202.1 L161.0,203.3 L161.5,204.7 L162.0,206.1 L162.5,207.3 L163.0,208.6 L163.5,210.7 L163.8,211.8 L164.0,212.4 L164.5,213.6 L165.0,214.9 L165.5,212.4 L166.0,209.9 L166.5,207.2 L167.0,204.5 L167.5,203.1 L168.0,201.7 L168.5,201.1 L168.8,200.8 L169.0,201.1 L169.5,201.0 L170.0,200.9 L170.5,201.7 L171.0,198.3 L171.5,194.0 L172.0,189.7 L172.5,188.1 L173.0,186.4 L173.5,185.0 L173.8,184.3 L174.0,184.1 L174.5,184.3 L175.0,184.4 L175.5,183.8 L176.0,183.2 L176.2,182.9 L176.5,182.0 L177.0,180.3 L177.5,178.2 L178.0,176.6 L178.5,175.8 L179.0,175.1 L179.5,177.5 L180.0,179.9 L180.5,183.8 L181.0,185.2 L181.5,185.1 L182.0,184.9 L182.5,185.2 L183.0,186.4 L183.5,187.4 L184.0,188.3 L184.5,188.8 L185.0,188.7 L185.5,189.5 L186.0,190.4 L186.2,191.2 L186.5,192.1 L187.0,194.1 L187.5,195.8 L188.0,197.5 L188.5,198.0 L189.0,198.4 L189.5,199.9 L190.0,201.5 L190.5,204.2 L191.0,206.9 L191.5,208.6 L192.0,210.4 L192.5,211.7 L193.0,213.1 L193.5,215.3 L193.8,216.3 L194.0,216.9 L194.5,217.5 L195.0,218.1 L195.5,218.6 L196.0,219.0 L196.2,219.6 L196.5,219.0 L197.0,217.8 L197.5,215.3 L198.0,212.8 L198.5,211.4 L199.0,210.1 L199.5,209.2 L200.0,208.4 L200.5,206.0 L201.0,203.6 L201.5,199.9 L202.0,196.1 L202.5,194.1 L203.0,192.0 L203.5,190.2 L203.8,189.2 L204.0,188.5 L204.5,185.3 L205.0,182.0 L205.5,179.8 L206.0,178.8 L206.5,177.7 L207.0,176.6 L207.5,175.6 L208.0,175.8 L208.5,176.3 L209.0,176.8 L209.5,177.9 L210.0,179.0 L210.5,180.3 L211.0,181.7 L211.5,182.4 L212.0,183.1 L212.5,181.4 L213.0,179.7 L213.5,178.0 L213.8,177.2 L214.0,176.9 L214.5,178.0 L215.0,179.1 L215.5,179.6 L216.0,181.8 L216.5,184.2 L217.0,186.5 L217.5,186.5 L218.0,186.4 L218.5,186.1 L219.0,185.7 L219.5,187.6 L220.0,189.6 L220.5,189.9 L221.0,190.3 L221.5,191.7 L222.0,193.1 L222.5,194.6 L223.0,196.5 L223.5,198.0 L224.0,199.5 L224.5,201.0 L225.0,202.6 L225.5,202.4 L226.0,202.3 L226.2,203.5 L226.5,204.8 L227.0,207.3 L227.5,209.3 L228.0,211.2 L228.5,209.8 L229.0,208.3 L229.5,207.5 L230.0,206.6 L230.5,205.4 L231.0,204.1 L231.5,204.2 L232.0,204.3 L232.5,204.6 L233.0,205.0 L233.5,204.5 L233.8,204.3 L234.0,203.4 L234.5,202.4 L235.0,201.4 L235.5,200.5 L236.0,199.5 L236.5,198.2 L236.8,197.5 L237.0,198.3 L237.5,200.6 L238.0,202.9 L238.5,204.3 L239.0,205.7 L239.5,204.0 L240.0,202.4 L240.5,200.2 L240.8,199.1 L241.0,199.9 L241.5,201.1 L242.0,202.2 L242.5,203.7 L243.0,200.9 L243.5,197.9 L244.0,195.0 L244.5,192.5 L245.0,191.6 L245.5,190.8 L246.0,190.0 L246.5,189.5 L247.0,188.6 L247.5,186.7 L248.0,184.9 L248.2,184.4 L248.5,185.1 L249.0,186.5 L249.5,187.7 L250.0,188.9 L250.5,189.8 L251.0,190.7 L251.5,192.3 L252.0,192.2 L252.5,192.7 L253.0,193.2 L253.2,193.1 L253.5,193.6 L254.0,194.7 L254.5,194.6 L255.0,194.5 L255.5,193.6 L256.0,192.7 L256.5,191.7 L257.0,190.8 L257.5,190.7 L258.0,190.7 L258.5,191.3 L259.0,191.9 L259.5,191.5 L260.0,190.4 L260.5,189.7 L261.0,189.0 L261.5,188.2 L262.0,187.2 L262.5,185.1 L263.0,182.9 L263.2,182.4 L263.5,181.8 L264.0,180.6 L264.5,179.8 L265.0,179.0 L265.5,179.1 L266.0,179.2 L266.5,178.5 L267.0,177.8 L267.5,178.4 L268.0,179.0 L268.5,179.7 L269.0,180.4 L269.5,181.1 L270.0,181.7 L270.5,182.0 L270.8,182.1 L271.0,182.5 L271.5,183.1 L272.0,183.8 L272.5,184.9 L273.0,185.6 L273.5,187.8 L274.0,190.0 L274.5,190.7 L275.0,190.2 L275.5,189.1 L276.0,188.1 L276.5,187.8 L277.0,189.3 L277.5,190.7 L278.0,192.1 L278.2,192.6 L278.5,193.3 L279.0,194.6 L279.5,197.2 L280.0,199.7 L280.5,201.9 L281.0,204.2 L281.5,206.9 L282.0,209.3 L282.5,212.0 L283.0,214.6 L283.2,215.6 L283.5,215.8 L284.0,216.3 L284.5,217.2 L285.0,218.1 L285.5,218.9 L286.0,219.7 L286.5,220.4 L287.0,219.4 L287.5,218.9 L288.0,218.3 L288.2,218.3 L288.5,218.2 L289.0,217.8 L289.5,216.1 L290.0,214.3 L290.5,213.1 L291.0,211.9 L291.5,209.3 L292.0,205.8 L292.5,203.8 L293.0,201.8 L293.2,200.5 L293.5,198.9 L294.0,195.7 L294.5,191.9 L295.0,189.1 L295.5,186.4 L296.0,183.7 L296.5,183.7 L297.0,183.7 L297.5,181.1 L298.0,178.9 L298.5,177.6 L299.0,176.3 L299.5,175.6 L300.0,177.8 L300.5,179.6 L301.0,181.4 L301.5,182.7 L302.0,184.0 L302.5,184.9 L303.0,184.2 L303.5,183.4 L304.0,182.6 L304.5,183.2 L305.0,186.9 L305.5,189.2 L306.0,191.5 L306.5,194.7 L307.0,192.2 L307.5,189.7 L308.0,187.2 L308.5,186.1 L309.0,185.1 L309.5,183.1 L310.0,182.2 L310.5,181.7 L311.0,181.1 L311.5,180.7 L312.0,181.2 L312.5,181.2 L313.0,181.3 L313.2,181.8 L313.5,181.4 L314.0,180.7 L314.5,179.6 L315.0,178.5 L315.5,178.0 L316.0,177.4 L316.5,177.4 L317.0,177.3 L317.5,176.2 L318.0,175.1 L318.5,174.7 L319.0,174.4 L319.5,175.3 L320.0,176.1 L320.5,175.7 L320.8,175.4 L321.0,174.3 L321.5,174.1 L322.0,173.9 L322.5,173.0 L323.0,173.5 L323.5,174.8 L324.0,176.0 L324.5,176.7 L325.0,176.4 L325.5,176.4 L326.0,176.4 L326.5,175.9 L327.0,176.8 L327.5,177.9 L328.0,179.0 L328.2,179.2 L328.5,178.6 L329.0,177.5 L329.5,176.0 L330.0,174.6 L330.5,176.3 L331.0,178.0 L331.5,179.6 L332.0,181.2 L332.5,181.7 L333.0,182.2 L333.5,182.6 L334.0,183.0 L334.5,184.8 L335.0,186.6 L335.5,186.8 L335.8,187.0 L336.0,187.4 L336.5,189.2 L337.0,191.1 L337.5,192.0 L338.0,189.4 L338.5,187.7 L339.0,186.1 L339.5,182.8 L340.0,181.1 L340.5,180.9 L341.0,180.7 L341.5,179.5 L342.0,179.2 L342.5,180.3 L343.0,181.5 L343.5,182.2 L344.0,183.6 L344.5,183.0 L345.0,182.5 L345.5,183.6 L346.0,183.4 L346.5,183.6 L347.0,183.8 L347.5,184.8 L348.0,185.8 L348.5,186.7 L349.0,187.5 L349.5,191.1 L350.0,194.7 L350.5,197.0 L351.0,198.9 L351.5,201.4 L352.0,203.9 L352.5,203.8 L353.0,203.7 L353.5,203.3 L354.0,201.3 L354.5,200.4 L355.0,199.6 L355.5,198.2 L356.0,196.9 L356.5,193.6 L357.0,189.6 L357.5,187.0 L358.0,184.3 L358.5,181.7 L359.0,179.1 L359.5,176.1 L360.0,175.5 L360.5,174.4 L361.0,173.3 L361.5,170.8 L362.0,168.3 L362.5,168.0 L363.0,166.8 L363.5,163.6 L364.0,160.3 L364.5,159.3 L365.0,158.3 L365.5,157.5 L366.0,158.7 L366.5,159.7 L367.0,160.8 L367.5,163.0 L368.0,165.1 L368.5,168.1 L369.0,171.4 L369.5,175.0 L370.0,178.5 L370.5,179.7 L371.0,180.8 L371.5,182.8 L372.0,185.2 L372.5,189.5 L373.0,193.8 L373.5,194.5 L374.0,195.2 L374.5,195.9 L375.0,195.4 L375.5,194.8 L376.0,194.3 L376.5,194.5 L377.0,194.7 L377.5,196.2 L378.0,194.7 L378.5,193.4 L379.0,192.1 L379.5,188.7 L380.0,185.4 L380.5,181.4 L381.0,177.8 L381.5,173.4 L382.0,169.0 L382.5,167.4 L383.0,165.8 L383.5,164.9 L384.0,166.1 L384.5,166.7 L385.0,167.3 L385.5,167.9 L386.0,168.6 L386.5,167.7 L387.0,169.8 L387.5,172.1 L388.0,174.3 L388.5,176.4 L389.0,178.5 L389.5,181.6 L390.0,184.8 L390.5,186.4 L391.0,188.0 L391.5,190.2 L392.0,192.3 L392.5,195.1 L393.0,198.0 L393.5,200.4 L394.0,202.7 L394.5,205.1 L395.0,207.6 L395.5,209.9 L396.0,211.0 L396.5,211.2 L397.0,211.4 L397.5,210.4 L398.0,209.3 L398.5,208.2 L399.0,206.3 L399.5,204.5 L400.0,202.7 L400.5,201.6 L401.0,200.5 L401.5,199.2 L402.0,200.9 L402.5,202.6 L403.0,204.4 L403.5,202.6 L404.0,200.8 L404.5,198.3 L405.0,196.6 L405.5,196.0 L406.0,195.5 L406.5,195.8 L407.0,196.2 L407.5,196.6 L408.0,194.6 L408.5,192.0 L409.0,189.4 L409.5,187.9 L410.0,186.3 L410.5,185.2 L411.0,183.7 L411.5,182.9 L412.0,182.1 L412.5,180.4 L413.0,178.7 L413.5,177.1 L414.0,176.0 L414.5,174.5 L415.0,173.1 L415.5,173.8 L416.0,174.6 L416.5,174.0 L417.0,172.5 L417.5,174.1 L418.0,175.6 L418.5,176.6 L419.0,177.6 L419.5,178.6 L420.0,179.2 L420.5,179.4 L421.0,179.5 L421.5,180.6 L422.0,181.6 L422.5,183.3 L423.0,183.8 L423.5,183.3 L423.8,183.1 L424.0,184.7 L424.5,188.5 L425.0,192.3 L425.5,196.1 L426.0,198.2 L426.5,199.4 L427.0,200.5 L427.5,198.4 L428.0,196.3 L428.5,195.6 L429.0,194.6 L429.5,193.3 L430.0,192.1 L430.5,189.2 L431.0,186.3 L431.5,182.8 L432.0,181.2 L432.5,180.3 L433.0,179.4 L433.5,179.2 L434.0,179.6 L434.5,179.6 L435.0,179.6 L435.5,179.8 L436.0,181.0 L436.5,181.5 L437.0,182.0 L437.5,183.0 L438.0,185.6 L438.5,186.2 L439.0,186.9 L439.5,187.2 L440.0,187.6 L440.5,188.7 L441.0,189.9 L441.5,189.4 L442.0,188.9 L442.5,188.4 L443.0,187.8 L443.5,190.4 L444.0,192.9 L444.5,195.0 L445.0,194.4 L445.5,193.4 L446.0,192.5 L446.5,190.7 L447.0,189.6 L447.5,189.3 L448.0,189.0 L448.5,188.8 L449.0,186.1 L449.5,183.2 L450.0,180.3 L450.5,179.0 L451.0,177.6 L451.5,175.4 L452.0,175.1 L452.5,175.4 L453.0,175.7 L453.5,175.1 L454.0,173.3 L454.5,173.7 L455.0,174.1 L455.5,173.8 L456.0,176.0 L456.5,177.0 L457.0,178.1 L457.5,177.3 L458.0,176.5 L458.5,174.6 L459.0,174.4 L459.5,175.6 L460.0,176.7 L460.5,177.4 L461.0,178.0 L461.5,179.7 L462.0,181.4 L462.5,182.7 L463.0,184.1 L463.5,184.4 L464.0,183.2 L464.5,183.0 L465.0,182.7 L465.5,183.0 L466.0,184.7 L466.5,187.3 L467.0,189.9 L467.5,190.2 L468.0,190.5 L468.5,191.6 L469.0,193.1 L469.5,194.9 L470.0,196.7 L470.5,195.8 L471.0,194.9 L471.5,193.7 L472.0,192.3 L472.5,190.8 L473.0,189.3 L473.5,188.9 L474.0,191.0 L474.5,193.8 L475.0,196.6 L475.5,198.2 L476.0,199.7 L476.5,201.2 L477.0,202.3 L477.5,203.5 L478.0,204.7 L478.5,205.7 L479.0,206.7 L479.5,207.3 L480.0,206.1 L480.5,204.7 L481.0,203.3 L481.5,202.6 L482.0,201.9 L482.5,200.1 L483.0,201.2 L483.5,203.0 L484.0,204.9 L484.5,203.3 L485.0,201.7 L485.5,199.5 L486.0,200.7 L486.5,202.2 L487.0,203.7 L487.5,200.5 L488.0,197.4 L488.5,194.8 L489.0,196.7 L489.5,199.2 L490.0,201.7 L490.5,199.3 L491.0,196.8 L491.5,194.7 L492.0,197.2 L492.5,198.9 L493.0,200.7 L493.5,201.7 L494.0,202.7 L494.5,204.1 L495.0,205.2 L495.5,206.0 L496.0,206.8 L496.5,206.8 L497.0,206.9 L497.5,208.0 L498.0,208.7 L498.5,209.3 L499.0,209.9 L499.5,208.0 L500.0,206.1 L500.5,203.0 L501.0,204.2 L501.5,206.2 L502.0,208.2 L502.5,204.8 L503.0,201.4 L503.5,199.4 L504.0,201.6 L504.5,203.8 L505.0,206.0 L505.5,204.4 L506.0,202.7 L506.5,201.7 L507.0,201.1 L507.5,199.0 L508.0,196.9 L508.5,198.1 L509.0,199.2 L509.5,199.9 L510.0,198.5 L510.5,196.5 L511.0,194.6 L511.5,192.8 L512.0,191.1 L512.5,190.4 L513.0,189.0 L513.5,186.0 L514.0,182.9 L514.5,182.6 L515.0,182.2 L515.5,180.6 L516.0,179.5 L516.5,178.4 L517.0,177.3 L517.5,175.8 L518.0,174.3 L518.5,172.9 L519.0,174.9 L519.5,177.6 L520.0,180.4 L520.5,181.4 L521.0,182.5 L521.5,183.7 L522.0,183.8 L522.5,183.1 L523.0,182.4 L523.5,184.4 L524.0,186.3 L524.5,188.2 L525.0,189.7 L525.5,191.0 L526.0,192.4 L526.5,191.7 L527.0,191.1 L527.5,192.5 L528.0,194.7 L528.5,197.1 L529.0,199.5 L529.5,200.8 L530.0,202.0 L530.5,202.6 L531.0,199.5 L531.5,197.1 L532.0,194.6 L532.5,192.2 L533.0,189.9 L533.5,187.4 L534.0,186.3 L534.5,184.7 L535.0,183.1 L535.5,182.1 L536.0,181.1 L536.5,180.1 L537.0,179.0 L537.5,178.7 L538.0,178.4 L538.5,180.8 L539.0,183.3 L539.5,184.1 L540.0,184.6 L540.5,186.7 L541.0,188.7 L541.5,190.5 L542.0,192.3 L542.5,193.0 L543.0,195.4 L543.5,198.9 L544.0,202.5 L544.5,204.6 L545.0,206.6 L545.5,210.0 L546.0,212.1 L546.5,213.0 L547.0,213.8 L547.5,214.1 L548.0,214.3 L548.5,216.0 L549.0,216.4 L549.5,216.7 L550.0,217.0 L550.5,214.7 L551.0,212.5 L551.5,211.3 L552.0,210.6 L552.5,209.1 L553.0,207.7 L553.5,206.5 L554.0,205.3 L554.5,204.7 L555.0,203.2 L555.5,201.0 L556.0,198.8 L556.5,196.7 L557.0,194.6 L557.5,192.3 L558.0,189.6 L558.5,185.5 L559.0,181.5 L559.5,179.9 L560.0,178.3 L560.5,177.3 L561.0,175.9 L561.5,174.8 L562.0,173.7 L562.5,171.3 L563.0,168.9 L563.5,167.4 L564.0,167.5 L564.5,168.6 L565.0,169.6 L565.5,172.4 L566.0,175.2 L566.5,176.1 L567.0,174.0 L567.5,173.1 L568.0,172.1 L568.5,174.1 L569.0,176.1 L569.5,178.3 L570.0,180.1 L570.5,181.8 L571.0,183.5 L571.5,182.7 L572.0,181.8 L572.5,182.3 L573.0,183.1 L573.5,185.3 L574.0,187.5 L574.5,190.1 L575.0,192.7 L575.5,194.0 L576.0,194.0 L576.5,196.0 L577.0,197.9 L577.5,200.0 L578.0,202.1 L578.5,202.9 L579.0,202.0 L579.5,201.9 L580.0,201.8 L580.5,203.5 L581.0,205.1 L581.5,207.0 L582.0,207.6 L582.5,207.9 L583.0,208.3 L583.5,206.6 L584.0,204.9 L584.5,203.6 L585.0,204.7 L585.5,204.8 L586.0,204.9 L586.5,203.9 L587.0,202.9 L587.5,202.1 L588.0,203.3 L588.5,203.4 L589.0,203.5 L589.5,202.1 L590.0,200.7 L590.5,199.3 L591.0,197.8 L591.5,196.8 L592.0,195.7 L592.5,196.6 L593.0,197.6 L593.5,196.8 L594.0,195.3 L594.5,194.4 L595.0,193.6 L595.5,193.9 L596.0,194.3 L596.5,194.6 L597.0,194.9 L597.5,195.6 L598.0,196.2 L598.5,198.1 L599.0,199.9 L599.5,201.6 L600.0,201.9 L600.5,202.4 L601.0,202.9 L601.4,202.5 L601.5,202.6 L602.0,203.5 L602.5,205.4 L603.0,207.4 L603.5,209.1 L603.7,209.9 L604.0,211.0 L604.5,212.6 L605.0,214.1 L605.5,216.0 L606.0,217.9 L606.0,218.0 L606.5,219.6 L607.0,221.3 L607.5,222.5 L608.0,223.8 L608.3,224.3 L608.5,223.7 L609.0,222.1 L609.5,220.8 L610.0,219.5 L610.0,219.4 L610.5,216.8 L611.0,214.2 L611.5,212.1 L611.7,211.2 L612.0,209.8 L612.5,206.5 L613.0,203.2 L613.5,200.0 L613.5,199.7 L614.0,196.9 L614.5,195.5 L615.0,194.0 L615.2,193.5 L615.5,193.0 L616.0,192.4 L616.5,190.9 L616.9,189.8 L617.0,189.6 L617.5,188.3 L618.0,187.0 L618.5,186.8 L618.6,186.8 L619.0,188.4 L619.5,189.7 L620.0,191.1 L620.3,191.9 L620.5,191.8 L621.0,191.5 L621.5,191.3 L622.0,191.2 L622.0,191.1 L622.5,192.0 L623.0,192.9 L623.5,194.7 L623.7,195.6 L624.0,196.6 L624.5,198.0 L625.0,199.5 L625.5,201.5 L625.5,201.7 L626.0,203.5 L626.5,204.9 L627.0,206.3 L627.2,206.6 L627.5,206.2 L628.0,205.5 L628.5,204.9 L628.9,204.5 L629.0,204.8 L629.5,205.9 L630.0,206.9 L630.5,209.0 L630.6,209.4 L631.0,209.4 L631.5,208.5 L632.0,207.7 L632.3,208.4 L632.5,209.2 L633.0,211.4 L633.5,211.8 L634.0,212.2 L634.0,212.1 L634.5,209.5 L635.0,206.6 L635.5,204.9 L635.8,204.0 L636.0,203.4 L636.5,204.2 L637.0,205.1 L637.5,203.8 L637.5,203.8 L638.0,202.8 L638.5,202.7 L639.0,202.5 L639.2,202.1 L639.5,201.0 L640.0,199.1 L640.5,198.2 L640.9,197.6 L641.0,197.7 L641.5,198.1 L642.0,198.4 L642.5,199.3 L642.6,199.5 L643.0,199.2 L643.5,198.2 L644.0,197.2 L644.3,197.1 L644.5,197.4 L645.0,198.4 L645.5,198.1 L646.0,197.8 L646.0,197.9 L646.5,197.7 L647.0,197.6 L647.5,196.3 L647.8,195.7 L648.0,195.1 L648.5,194.2 L649.0,193.2 L649.5,191.4 L649.5,191.4 L650.0,191.2 L650.5,192.0 L651.0,192.9 L651.2,193.7 L651.5,194.9 L652.0,196.9 L652.5,197.0 L652.9,197.0 L653.0,197.0 L653.5,198.1 L654.0,199.1 L654.5,200.0 L654.6,200.2 L655.0,199.9 L655.5,199.3 L656.0,198.7 L656.3,198.7 L656.5,199.2 L657.0,200.7 L657.5,201.3 L658.0,201.9 L658.1,202.0 L658.5,200.7 L659.0,199.2 L659.5,198.5 L659.8,198.1 L660.0,197.7 L660.5,195.6 L661.0,193.4 L661.5,192.4 L661.5,192.4 L662.0,191.7 L662.5,190.7 L663.0,189.7 L663.2,189.3 L663.5,188.3 L664.0,186.5 L664.5,183.7 L664.9,181.3 L665.0,180.8 L665.5,177.1 L666.0,173.5 L666.5,171.4 L666.6,170.8 L667.0,169.9 L667.5,168.6 L668.0,167.4 L668.4,166.8 L668.5,167.4 L669.0,169.4 L669.5,170.3 L670.0,171.2 L670.1,171.3 L670.5,170.2 L671.0,168.9 L671.5,168.4 L671.8,168.1 L672.0,169.3 L672.5,171.6 L672.9,173.5 L673.0,173.2 L673.5,171.5 L674.0,169.7 L674.5,167.6 L674.6,167.0 L675.0,167.3 L675.5,168.1 L676.0,168.9 L676.4,169.0 L676.5,169.7 L677.0,172.0 L677.5,174.6 L678.0,175.6 L678.5,176.1 L679.0,176.5 L679.2,177.0 L679.5,178.2 L680.0,180.5 L680.5,182.3 L680.9,183.8 L681.0,184.0 L681.5,185.5 L682.0,187.0 L682.5,188.1 L682.6,188.4 L683.0,187.7 L683.5,186.6 L684.0,185.5 L684.4,184.8 L684.5,185.4 L685.0,187.7 L685.5,190.4 L686.0,193.0 L686.1,193.4 L686.5,195.2 L687.0,197.4 L687.5,198.5 L687.8,199.2 L688.0,199.8 L688.5,203.5 L688.9,206.7 L689.0,206.5 L689.5,202.8 L690.0,199.0 L690.5,197.2 L690.7,196.7 L691.0,195.7 L691.5,193.9 L692.0,192.1 L692.4,190.9 L692.5,190.3 L693.0,187.9 L693.5,184.8 L694.0,181.7 L694.1,181.2 L694.5,178.3 L695.0,174.7 L695.5,171.5 L695.8,169.6 L696.0,168.5 L696.5,166.2 L697.0,163.9 L697.5,161.6 L697.5,161.5 L698.0,162.5 L698.5,161.8 L699.0,161.0 L699.2,160.6 L699.5,159.1 L700.0,156.1 L700.5,155.1 L701.0,154.2 L701.0,154.4 L701.5,156.6 L702.0,158.8 L702.1,159.2 L702.5,161.8 L703.0,165.1 L703.5,165.4 L703.8,165.6 L704.0,165.1 L704.5,165.4 L705.0,165.6 L705.5,166.6 L705.5,166.6 L706.0,171.8 L706.5,176.6 L706.7,178.2 L707.0,181.4 L707.5,185.7 L707.8,188.5 L708.0,189.6 L708.5,194.1 L709.0,198.3 L709.0,198.5 L709.5,199.4 L710.0,200.2 L710.5,202.4 L710.7,203.1 L711.0,204.8 L711.5,207.5 L712.0,210.2 L712.4,211.0 L712.5,211.3 L713.0,212.7 L713.5,215.7 L713.5,215.9 L714.0,218.0 L714.5,220.8 L714.7,221.8 L715.0,223.2 L715.5,223.6 L715.8,223.9 L716.0,223.1 L716.5,221.3 L717.0,219.5 L717.5,218.5 L717.5,218.5 L718.0,217.6 L718.5,216.9 L719.0,216.1 L719.2,215.0 L719.5,213.9 L720.0,211.7 L720.4,210.8" stroke="#3040f0" stroke-width="1.5"/>
</g>
<g clip-path="url(#c2)" fill="none" stroke-linejoin="round" stroke-linecap="round">
<path d="M63.0,416.2 L65.0,420.0 L67.5,422.5 L70.0,425.0 L72.0,431.2 L74.0,436.2 L76.0,435.0 L78.0,428.8 L79.5,418.8 L81.0,408.8 L82.5,404.5 L84.0,412.5 L85.5,427.5 L87.0,437.5 L88.5,435.0 L90.0,442.5 L91.2,460.0 L92.5,475.0 L94.0,482.0 L96.0,482.5 L98.0,481.2 L100.0,479.5 L102.5,476.2 L105.0,471.2 L108.0,469.5 L110.0,466.2 L112.5,457.5 L114.5,447.5 L116.5,436.2 L118.5,426.2 L120.5,417.5 L122.5,410.0 L124.0,405.0 L125.0,402.5 L126.5,411.2 L128.0,428.8 L129.5,445.0 L131.5,451.2 L133.5,452.0 L135.5,450.0 L137.5,454.5 L139.0,452.5 L140.5,446.2 L142.5,441.2 L144.5,435.0 L146.5,428.8 L148.0,423.8 L149.2,419.5 L150.5,423.8 L152.5,428.8 L154.5,427.5 L156.5,433.8 L158.5,438.8 L160.0,443.8 L161.5,452.5 L163.0,456.2 L164.5,457.5 L166.0,455.0 L167.5,445.0 L169.0,435.0 L170.5,425.0 L172.0,417.5 L173.5,413.8 L175.0,412.5 L177.0,408.8 L179.0,408.0 L181.0,408.8 L183.0,411.2 L185.0,416.2 L187.0,423.8 L188.5,432.5 L190.0,440.0 L191.5,445.0 L193.0,442.5 L194.5,438.8 L196.0,433.8 L197.5,425.0 L199.0,415.0 L200.5,402.5 L202.0,391.2 L203.5,382.5 L204.5,378.0 L205.5,385.0 L207.0,398.8 L208.5,407.5 L210.0,416.2 L211.5,422.5 L213.0,420.0 L214.5,425.0 L216.0,422.5 L217.5,417.5 L219.0,412.5 L220.0,410.0 L221.5,418.8 L222.5,432.5 L223.5,447.5 L224.5,460.0 L226.0,469.5 L227.5,465.0 L229.0,458.8 L230.5,455.0 L232.0,452.5 L233.5,450.0 L235.0,457.5 L236.8,460.0 L239.5,460.0 L242.0,455.0 L244.5,442.5 L247.0,423.8 L249.0,418.8 L250.5,417.5 L252.0,425.0 L253.5,431.2 L255.0,422.5 L256.5,407.5 L258.0,395.0 L259.5,385.0 L261.0,377.5 L262.0,373.8 L264.5,368.8 L266.5,370.0 L268.5,380.0 L270.5,392.5 L272.5,402.5 L274.0,398.8 L275.5,377.5 L277.0,345.0 L278.5,322.5 L279.5,332.5 L281.0,352.5 L282.5,365.0 L284.0,375.0 L285.5,381.2 L287.0,397.5 L287.5,407.5 L288.0,420.0 L288.8,447.5 L289.5,450.0 L290.5,435.0 L292.0,417.5 L294.0,400.0 L296.0,391.2 L297.0,390.5 L298.5,395.0 L300.5,398.8 L302.5,397.5 L304.5,400.0 L307.0,405.0 L309.5,408.8 L312.0,410.0 L313.5,406.2 L315.0,400.0 L316.0,398.8 L317.0,405.0 L318.5,397.5 L319.5,387.5 L320.0,377.5 L321.5,352.5 L323.0,327.5 L324.5,311.2 L325.5,308.8 L326.5,320.0 L328.0,337.5 L329.5,357.5 L330.5,375.0 L331.5,365.0 L333.0,332.5 L334.5,297.5 L335.5,282.0 L336.5,297.5 L337.5,332.5 L338.5,365.0 L339.5,395.0 L340.0,407.5 L341.0,416.2 L343.0,419.5 L345.0,416.2 L347.0,412.5 L349.0,415.0 L351.0,410.0 L353.0,407.5 L354.5,412.5 L356.0,425.0 L357.5,432.5 L359.0,433.8 L360.5,420.0 L361.0,402.5 L361.5,380.0 L362.5,352.5 L363.5,340.0 L364.5,342.5 L365.5,365.0 L366.5,395.0 L367.0,412.5 L367.5,422.5 L369.0,435.0 L370.5,440.0 L372.0,438.8 L374.0,437.0 L376.0,440.5 L378.0,445.0 L380.0,447.5 L382.0,447.0 L384.5,446.2 L387.0,445.0 L389.5,447.5 L392.0,451.2 L394.5,454.5 L397.0,452.5 L399.5,447.5 L402.0,441.2 L404.5,436.2 L407.0,432.0 L409.5,428.8 L412.0,428.8 L414.5,427.5 L417.0,425.0 L419.5,422.5 L422.0,419.5 L423.8,417.8 L426.0,416.2 L428.0,415.0 L430.0,412.5 L431.5,407.5 L433.0,401.2 L435.0,399.5 L436.5,398.8 L438.0,405.0 L439.5,413.8 L441.0,410.0 L442.5,400.0 L443.5,397.5 L444.5,405.0 L446.0,415.0 L448.0,410.0 L450.0,404.5 L452.0,402.0 L454.0,402.5 L456.0,408.8 L457.5,418.8 L459.0,432.5 L460.5,446.2 L461.5,448.8 L463.0,437.5 L464.5,425.0 L466.0,412.5 L467.5,405.0 L469.0,400.0 L470.5,395.0 L472.0,385.0 L473.0,375.0 L474.2,362.5 L475.5,350.5 L476.8,362.5 L478.0,375.0 L479.0,395.0 L480.0,417.5 L481.5,428.8 L483.5,432.5 L486.0,434.5 L488.5,435.0 L491.0,434.5 L493.5,433.8 L495.5,433.0 L497.0,436.2 L498.5,452.5 L500.0,472.5 L501.5,483.8 L503.0,475.0 L504.5,462.5 L506.5,457.5 L508.5,453.8 L510.5,450.0 L513.0,447.5 L515.5,445.0 L518.0,442.5 L520.0,440.0 L521.5,437.5 L522.5,436.2 L523.5,447.5 L524.5,460.0 L526.0,470.0 L528.0,477.5 L530.0,482.5 L532.0,485.0 L534.0,481.2 L536.0,483.8 L537.5,488.8 L539.0,495.0 L540.5,500.0 L542.0,492.5 L543.5,482.5 L545.0,475.0 L546.5,482.5 L548.0,492.5 L550.0,497.5 L552.0,498.8 L554.0,497.5 L556.0,493.8 L558.0,488.8 L560.0,482.5 L562.0,476.2 L564.0,471.2 L566.0,467.5 L568.0,462.5 L570.0,461.2 L571.5,462.5 L573.0,475.0 L574.5,485.0 L576.0,492.5 L577.5,498.8 L579.0,500.0 L580.5,495.0 L582.0,487.5 L583.5,480.0 L585.0,472.5 L586.5,457.5 L587.5,437.5 L588.5,412.5 L589.5,392.5 L590.5,382.0 L591.5,390.0 L592.5,407.5 L593.5,430.0 L594.5,450.0 L595.5,460.0 L596.4,444.8 L597.6,434.2 L598.9,425.7 L600.2,421.5 L601.0,422.5 L601.9,434.2 L602.7,451.2 L603.6,463.9 L604.9,470.3 L606.1,474.5 L607.8,476.2 L609.5,474.5 L611.2,469.2 L612.9,466.1 L614.6,463.5 L616.3,460.7 L618.0,457.6 L619.7,453.3 L621.4,451.6 L622.7,446.9 L624.0,437.4 L625.2,428.9 L626.5,426.8 L627.8,432.1 L629.1,451.2 L630.3,468.2 L631.6,459.7 L632.5,451.2 L633.3,459.7 L634.1,472.4 L635.4,478.4 L637.1,479.9 L639.2,479.2 L641.4,478.8 L643.5,477.7 L645.6,475.6 L647.7,471.4 L649.9,467.1 L652.0,461.8 L653.7,455.4 L655.0,453.3 L656.2,459.7 L657.5,468.2 L658.8,475.6 L660.5,477.7 L662.2,475.6 L663.9,472.4 L665.6,468.2 L667.3,465.0 L669.0,463.9 L670.7,468.2 L672.4,480.9 L674.1,493.6 L675.8,500.0 L677.0,495.8 L678.3,483.0 L679.6,468.2 L680.9,459.7 L682.1,466.1 L683.4,478.8 L684.7,491.5 L686.0,497.9 L687.2,494.7 L688.5,485.1 L689.8,476.7 L691.0,470.3 L692.3,461.8 L693.6,457.6 L694.9,459.7 L695.7,472.4 L696.6,485.1 L697.8,492.6 L699.1,491.5 L700.4,485.1 L701.6,477.7 L702.9,473.5 L704.2,472.4 L705.5,476.7 L706.8,480.9 L708.0,483.0 L709.7,482.6 L711.4,477.7 L712.7,468.2 L714.0,462.9 L715.2,461.8 L716.5,463.9 L717.8,460.7 L719.1,463.9 L720.3,469.2 L722.0,468.2 L723.7,467.1 L725.4,463.9 L727.1,458.6 L728.8,453.3 L730.5,449.1 L732.2,444.8 L733.9,442.3 L735.6,443.1 L737.3,446.9 L739.0,451.2 L740.7,455.4 L742.4,457.1 L744.1,456.5 L745.4,455.4" stroke="#0072bd" stroke-width="1.45"/>
<path d="M62.5,382.5 L64.0,387.5 L65.5,391.2 L67.0,395.0 L69.0,398.8 L71.0,407.5 L72.5,416.2 L74.0,421.2 L76.0,426.2 L78.0,428.8 L79.5,426.2 L81.0,431.2 L82.5,440.0 L84.0,451.2 L85.5,456.2 L87.0,455.5 L88.5,450.0 L90.0,446.2 L91.5,436.2 L93.0,428.0 L94.0,435.0 L96.0,435.0 L98.0,435.5 L100.0,436.2 L102.5,437.5 L105.0,440.0 L107.5,442.0 L110.0,440.5 L112.5,443.0 L115.0,446.2 L117.5,450.0 L120.0,453.8 L122.5,456.2 L124.0,455.5 L126.0,450.0 L128.0,442.5 L130.0,436.2 L132.5,435.0 L135.0,434.5 L137.0,432.0 L139.0,435.0 L141.0,440.0 L143.0,446.2 L145.0,453.8 L147.0,460.0 L148.5,461.2 L150.0,455.0 L152.5,452.5 L155.0,447.5 L157.5,441.2 L160.0,435.0 L162.5,428.8 L164.5,425.0 L166.0,423.8 L167.5,428.8 L169.0,437.5 L170.5,447.5 L172.0,455.0 L173.5,460.0 L175.5,462.5 L178.0,463.5 L180.0,463.0 L182.0,460.0 L184.0,456.2 L186.0,451.2 L188.0,446.2 L190.0,443.8 L192.0,440.5 L194.0,439.5 L196.0,443.8 L198.0,448.8 L200.0,452.5 L202.0,455.5 L203.5,456.2 L205.0,452.5 L207.0,447.5 L209.0,444.5 L211.0,443.8 L213.0,447.5 L215.0,448.8 L217.0,449.5 L219.0,450.0 L220.5,447.5 L222.0,440.0 L223.5,432.5 L225.0,430.0 L227.5,430.0 L230.0,430.5 L232.5,429.5 L235.0,428.0 L236.8,428.8 L239.0,429.5 L241.0,431.2 L243.0,436.2 L244.5,441.2 L246.0,450.0 L247.5,460.0 L249.0,462.5 L250.5,458.8 L252.5,451.2 L254.5,447.5 L256.5,452.5 L258.5,457.5 L260.5,462.5 L262.5,466.2 L264.5,468.8 L266.5,467.0 L268.5,463.8 L270.5,460.0 L272.5,456.2 L274.5,455.0 L276.5,448.8 L278.5,443.8 L280.5,442.0 L282.5,441.2 L284.5,440.5 L286.5,440.5 L288.5,441.2 L290.5,445.0 L292.5,448.8 L294.5,451.2 L296.5,450.0 L298.5,446.2 L300.5,442.5 L302.5,440.0 L304.5,439.5 L306.5,440.5 L308.5,443.8 L310.5,447.5 L312.5,455.0 L314.5,461.2 L316.0,463.8 L317.5,457.5 L319.0,448.8 L320.5,443.8 L322.5,441.2 L324.5,440.0 L326.0,443.8 L327.5,452.5 L329.0,461.2 L331.0,466.2 L333.0,468.0 L335.0,467.0 L337.0,468.8 L339.0,470.0 L341.0,467.5 L343.0,468.8 L345.0,470.0 L347.0,471.2 L349.0,470.0 L351.0,467.5 L353.0,466.2 L355.0,462.5 L356.5,457.5 L358.0,458.8 L359.5,467.5 L361.0,480.0 L362.0,487.5 L363.0,490.0 L364.0,485.0 L365.0,472.5 L366.0,457.5 L367.0,445.0 L368.5,437.5 L370.5,433.8 L372.5,432.0 L374.5,433.0 L376.5,436.2 L378.5,442.5 L380.5,447.5 L382.5,448.8 L384.5,447.5 L386.5,445.0 L388.5,442.5 L390.5,441.2 L392.5,440.5 L394.5,441.2 L396.5,443.0 L398.5,447.5 L400.5,451.2 L402.5,453.0 L404.5,452.5 L406.5,453.8 L408.5,455.0 L410.5,453.8 L412.5,452.0 L414.5,451.2 L416.5,452.0 L418.5,453.0 L420.5,455.0 L422.5,457.5 L423.8,458.5 L426.0,459.5 L428.0,460.0 L430.0,458.8 L432.0,461.2 L434.0,466.2 L436.0,471.2 L438.0,473.8 L439.5,470.0 L441.0,462.5 L442.5,455.0 L444.0,450.5 L445.5,451.2 L447.0,457.5 L448.5,466.2 L450.0,472.5 L452.0,477.0 L454.0,478.0 L456.0,477.5 L458.0,476.2 L460.0,473.8 L462.0,471.2 L464.0,472.5 L466.0,477.5 L468.0,478.0 L470.0,478.8 L471.5,482.5 L473.0,488.8 L475.0,494.5 L476.5,495.5 L477.5,490.0 L478.5,480.0 L479.5,470.0 L481.0,463.8 L483.0,462.0 L485.5,461.2 L488.0,461.2 L490.5,462.5 L492.5,465.0 L494.5,468.8 L496.5,471.2 L498.0,470.0 L499.5,462.5 L501.0,452.5 L502.5,451.2 L504.0,457.5 L505.5,461.2 L507.5,466.2 L509.5,471.2 L511.5,473.0 L514.0,473.8 L516.5,473.8 L519.0,474.5 L521.0,475.0 L522.5,476.2 L524.0,470.0 L525.5,455.0 L526.5,446.2 L527.5,450.0 L529.0,457.5 L531.0,462.5 L533.0,463.8 L535.0,463.8 L537.0,463.8 L538.5,460.0 L540.0,452.5 L541.0,451.2 L542.0,457.5 L543.5,467.5 L545.0,475.0 L546.5,477.5 L548.0,470.0 L550.0,463.8 L552.0,460.0 L554.0,458.8 L556.0,459.5 L558.0,461.2 L560.0,463.8 L562.0,468.8 L564.0,473.8 L566.0,475.0 L568.0,471.2 L570.0,466.2 L572.0,460.0 L574.0,453.8 L575.5,448.8 L576.5,447.5 L578.0,451.2 L579.5,457.5 L581.0,463.8 L582.5,468.8 L584.0,471.2 L585.5,472.5 L587.0,480.0 L588.5,490.0 L590.0,498.8 L591.0,502.5 L592.0,495.0 L593.0,482.5 L594.0,471.2 L595.0,463.8 L596.8,475.6 L598.5,476.7 L600.2,477.7 L601.5,475.6 L602.7,469.2 L604.0,463.9 L605.3,470.3 L606.6,471.4 L607.8,467.1 L609.1,465.0 L610.4,466.1 L611.6,469.2 L613.4,471.4 L615.0,474.5 L616.8,477.7 L618.4,480.9 L619.7,484.1 L621.0,486.2 L621.8,483.0 L622.7,477.7 L623.5,485.1 L624.8,491.5 L626.1,494.1 L627.4,494.7 L628.2,489.4 L629.1,480.9 L629.9,472.4 L630.8,468.2 L631.6,472.4 L632.5,466.1 L633.3,457.6 L634.1,449.1 L635.4,444.4 L636.7,443.8 L638.0,445.9 L639.7,446.9 L641.4,446.5 L643.1,446.9 L644.8,449.1 L646.5,453.3 L648.2,457.6 L649.9,459.3 L651.1,457.6 L652.4,459.7 L653.7,463.9 L655.0,468.2 L655.8,466.1 L656.6,457.6 L657.9,448.0 L659.2,443.8 L660.5,443.8 L661.8,446.9 L663.5,452.2 L665.1,456.5 L666.8,459.7 L668.5,460.7 L670.2,458.6 L671.5,452.2 L672.8,442.7 L674.1,432.1 L675.3,424.7 L676.6,422.5 L677.9,427.8 L679.1,436.3 L680.4,439.5 L681.7,434.2 L683.0,423.6 L684.2,413.0 L685.5,406.2 L686.8,405.6 L687.6,410.9 L688.9,423.6 L690.2,436.3 L691.5,444.8 L692.7,449.1 L694.0,449.1 L695.3,440.6 L696.6,427.8 L697.8,418.3 L699.1,417.2 L700.4,423.6 L701.6,431.0 L702.9,434.2 L704.6,433.8 L706.3,430.0 L708.0,426.8 L709.7,425.3 L711.4,426.8 L712.7,432.1 L714.0,438.4 L715.2,443.8 L716.5,446.9 L717.4,453.3 L718.6,459.7 L719.5,455.4 L720.3,450.1 L721.6,448.6 L723.3,450.8 L724.6,453.3 L725.9,459.7 L727.1,466.1 L728.4,471.4 L729.7,476.7 L731.0,479.9 L732.2,480.5 L733.9,477.7 L735.6,474.5 L737.3,470.7 L739.0,468.2 L740.7,467.8 L742.0,468.2 L743.3,463.9 L744.1,458.6 L745.4,457.6" stroke="#d95319" stroke-width="1.45"/>
<path d="M62.5,403.8 L65.0,408.8 L67.5,413.8 L70.0,420.0 L72.0,428.8 L74.0,434.5 L76.0,433.8 L78.0,428.8 L79.5,420.0 L81.0,411.2 L82.5,407.5 L84.0,413.8 L85.5,428.8 L87.0,442.5 L88.5,447.5 L90.0,450.0 L91.2,467.5 L92.5,482.5 L93.8,486.2 L96.0,483.8 L98.0,480.0 L100.0,476.2 L102.5,471.2 L105.0,467.5 L108.0,463.8 L110.0,460.0 L112.5,452.5 L114.5,443.8 L116.5,433.8 L118.5,423.8 L120.5,416.2 L122.5,411.2 L124.0,407.5 L125.0,406.2 L126.5,413.8 L128.0,428.8 L129.5,443.8 L131.5,452.5 L133.5,454.5 L135.5,453.8 L137.5,456.2 L139.0,452.5 L140.5,445.0 L142.5,438.8 L144.5,433.8 L146.5,431.2 L148.0,430.0 L149.2,428.8 L150.5,429.5 L152.5,428.8 L154.5,431.2 L156.5,437.5 L158.5,443.8 L160.0,448.8 L161.5,455.0 L163.0,457.5 L164.5,457.5 L166.0,453.8 L167.5,445.0 L169.0,436.2 L170.5,430.0 L172.0,426.2 L173.5,424.5 L175.0,423.8 L177.0,421.2 L179.0,420.8 L181.0,421.2 L183.0,422.5 L185.0,425.0 L187.0,431.2 L188.5,438.8 L190.0,446.2 L191.5,448.8 L193.0,446.2 L194.5,441.2 L196.0,435.0 L197.5,426.2 L199.0,417.5 L200.5,408.8 L202.0,401.2 L203.5,397.0 L204.5,398.0 L205.5,402.5 L207.0,412.5 L208.5,421.2 L210.0,428.8 L211.5,431.2 L213.0,427.5 L214.5,431.2 L216.0,428.8 L217.5,426.2 L219.0,424.5 L220.0,423.8 L221.5,428.8 L222.5,440.0 L223.5,452.5 L224.5,462.5 L226.0,471.2 L227.5,467.5 L229.0,461.2 L230.5,457.5 L232.0,455.0 L233.5,452.5 L235.0,458.8 L236.8,461.2 L239.5,463.8 L242.0,461.2 L244.5,452.5 L247.0,440.0 L249.0,433.8 L250.5,432.0 L252.0,435.0 L253.5,437.5 L255.0,431.2 L256.5,420.0 L258.0,410.0 L259.5,401.2 L261.0,395.0 L263.0,391.2 L265.0,390.0 L267.0,393.8 L269.0,400.0 L271.0,408.8 L272.5,415.0 L274.0,412.5 L275.5,402.5 L277.0,390.0 L277.5,367.5 L278.5,355.0 L279.5,361.2 L281.5,375.0 L283.5,387.5 L285.5,402.5 L286.0,390.0 L287.0,412.5 L287.8,445.0 L288.2,463.8 L289.0,450.0 L290.0,432.5 L291.5,417.5 L293.5,407.5 L296.0,405.0 L298.5,408.8 L301.0,412.0 L303.5,413.8 L306.0,414.5 L308.5,415.0 L311.0,414.5 L313.5,412.5 L315.5,410.0 L317.0,407.5 L318.5,401.2 L320.0,390.0 L320.5,375.0 L322.0,350.0 L323.5,330.0 L324.5,323.8 L325.5,326.2 L326.5,335.0 L328.0,350.0 L329.5,370.0 L331.0,385.0 L332.0,375.0 L333.5,355.0 L335.0,343.8 L336.0,345.0 L337.0,360.0 L338.0,380.0 L339.0,400.0 L339.5,405.0 L340.5,412.5 L342.0,416.2 L344.0,418.8 L346.0,417.5 L348.0,416.2 L350.0,418.8 L352.0,420.0 L354.0,421.2 L355.5,425.0 L357.0,431.2 L358.5,435.0 L360.0,432.5 L361.0,425.0 L362.0,412.5 L362.5,400.0 L363.0,383.8 L364.0,385.0 L365.0,395.0 L365.5,400.0 L366.0,405.0 L367.0,427.5 L368.5,442.5 L370.0,447.5 L371.5,442.5 L373.5,437.5 L375.5,441.2 L377.5,446.2 L379.5,448.8 L382.0,449.5 L384.5,450.0 L387.0,451.2 L389.5,452.5 L392.0,454.5 L394.5,455.0 L397.0,454.5 L399.5,453.8 L402.0,453.0 L404.5,452.0 L407.0,450.0 L409.0,442.5 L411.0,438.8 L413.0,436.2 L415.0,434.5 L417.0,433.0 L419.5,430.5 L422.0,428.8 L423.8,427.5 L426.0,420.0 L428.0,418.8 L430.0,416.2 L432.0,412.5 L434.0,412.0 L436.0,412.5 L438.0,417.5 L439.5,425.0 L441.0,420.0 L442.0,416.2 L443.0,425.0 L444.0,437.5 L445.0,441.2 L446.5,437.5 L448.5,433.8 L450.5,430.0 L452.5,427.5 L454.5,427.0 L456.5,428.8 L458.0,435.0 L459.5,443.8 L461.0,451.2 L462.5,442.5 L464.0,431.2 L465.5,418.8 L467.0,411.2 L468.5,407.0 L470.5,402.5 L472.5,397.5 L474.5,395.0 L476.0,395.5 L477.0,400.0 L478.0,412.5 L479.0,430.0 L480.5,442.5 L482.5,446.2 L485.0,447.0 L487.5,447.5 L490.0,447.5 L492.5,447.0 L495.0,446.2 L496.5,450.0 L498.0,462.5 L499.5,475.0 L501.0,481.2 L502.5,473.8 L504.0,463.8 L506.0,460.0 L508.5,458.8 L511.0,457.5 L513.5,457.0 L516.0,456.5 L518.5,456.2 L521.0,455.5 L523.0,455.0 L524.5,462.5 L526.0,475.0 L527.5,482.5 L529.5,486.2 L531.5,487.5 L533.5,485.0 L535.5,486.2 L537.0,492.5 L538.5,500.0 L540.0,510.0 L541.0,513.8 L542.0,512.5 L543.5,505.0 L545.0,492.5 L546.5,485.0 L548.0,490.0 L550.0,493.8 L552.0,495.0 L554.0,493.8 L556.0,491.2 L558.0,487.5 L560.0,482.5 L562.0,477.5 L564.0,473.8 L566.0,470.0 L568.0,466.2 L570.0,464.5 L571.5,465.0 L573.0,475.0 L574.5,485.0 L576.0,491.2 L577.5,495.0 L579.0,492.5 L580.5,485.0 L582.0,478.8 L583.5,475.0 L585.0,471.2 L586.5,460.0 L587.5,445.0 L588.5,427.5 L589.5,412.5 L590.5,407.5 L591.5,415.0 L592.5,430.0 L593.5,447.5 L594.5,458.8 L595.5,461.2 L596.4,453.3 L597.6,450.1 L598.9,446.9 L600.2,445.9 L601.0,448.0 L601.9,455.4 L602.7,466.1 L603.6,474.5 L604.9,480.9 L606.1,484.1 L607.8,482.0 L609.5,476.7 L611.2,470.3 L612.9,467.1 L614.6,464.4 L616.3,461.8 L618.0,459.3 L619.7,456.5 L621.4,454.4 L622.7,451.2 L624.0,443.8 L625.2,438.4 L626.5,436.8 L627.8,440.6 L629.1,455.4 L630.3,469.2 L631.6,472.4 L632.9,476.7 L634.1,479.9 L635.4,482.0 L637.1,484.1 L639.2,485.1 L641.4,484.7 L643.5,483.4 L645.6,480.9 L647.7,476.7 L649.9,471.4 L652.0,465.0 L653.7,459.7 L655.0,461.8 L656.2,470.3 L657.5,479.9 L658.8,484.1 L660.5,483.0 L662.2,479.9 L663.9,477.7 L665.6,476.2 L667.3,475.6 L669.0,476.2 L670.7,479.9 L672.4,487.3 L674.1,496.8 L675.8,502.1 L677.0,498.9 L678.3,487.3 L679.6,474.5 L680.9,468.2 L682.1,473.5 L683.4,483.0 L684.7,492.6 L686.0,497.5 L687.2,494.7 L688.5,486.2 L689.8,479.9 L691.0,474.5 L692.3,468.2 L693.6,465.0 L694.9,467.1 L695.7,477.7 L696.6,487.3 L697.8,491.5 L699.1,490.5 L700.4,486.2 L701.6,480.9 L702.9,477.7 L704.2,476.7 L705.5,479.9 L706.8,484.1 L708.0,486.2 L709.7,485.1 L711.4,479.9 L712.7,470.3 L714.0,465.0 L715.2,463.5 L716.5,465.0 L717.8,461.8 L719.1,465.0 L720.3,470.3 L722.0,469.2 L723.7,468.2 L725.4,463.9 L727.1,455.4 L728.8,446.9 L730.1,439.5 L731.0,441.6 L731.8,446.9 L733.1,449.1 L734.8,446.9 L736.5,448.0 L738.2,450.1 L739.9,451.6 L741.6,453.3 L743.3,455.4 L745.4,456.5" stroke="#edb120" stroke-width="1.45" stroke-dasharray="4.2,2" stroke-linecap="butt"/>
<path d="M62.5,380.0 L64.0,385.0 L65.5,388.8 L67.0,392.5 L69.0,397.5 L71.0,407.5 L72.5,417.5 L74.0,423.8 L76.0,428.8 L78.0,430.0 L79.5,427.5 L81.0,435.0 L82.5,445.0 L84.0,455.0 L85.5,460.0 L87.0,458.8 L88.5,452.5 L90.0,447.5 L91.5,441.2 L93.0,437.5 L94.0,439.5 L96.0,440.0 L98.0,440.0 L100.0,440.5 L102.5,440.5 L105.0,442.0 L107.5,443.8 L110.0,443.0 L112.5,445.0 L115.0,447.5 L117.5,451.2 L120.0,454.5 L122.5,457.5 L124.0,457.0 L126.0,451.2 L128.0,443.8 L130.0,438.8 L132.5,437.0 L135.0,436.2 L137.0,434.5 L139.0,437.0 L141.0,442.0 L143.0,448.8 L145.0,456.2 L147.0,462.0 L148.5,462.5 L150.0,457.5 L152.5,453.8 L155.0,448.8 L157.5,442.0 L160.0,435.5 L162.5,428.8 L164.5,425.0 L166.0,423.8 L167.5,428.8 L169.0,438.0 L170.5,448.8 L172.0,457.5 L173.5,463.8 L175.5,467.0 L178.0,468.0 L180.0,467.0 L182.0,463.8 L184.0,458.8 L186.0,453.0 L188.0,448.0 L190.0,445.5 L192.0,442.5 L194.0,442.0 L196.0,446.2 L198.0,452.0 L200.0,456.2 L202.0,459.5 L203.5,460.0 L205.0,456.2 L207.0,451.2 L209.0,448.8 L211.0,449.5 L213.0,452.5 L215.0,453.8 L217.0,454.5 L219.0,455.0 L220.5,451.2 L222.0,443.8 L223.5,436.2 L225.0,433.8 L227.5,433.8 L230.0,434.5 L232.5,433.8 L235.0,432.5 L236.8,433.0 L239.0,433.8 L241.0,436.2 L243.0,441.2 L244.5,447.5 L246.0,457.5 L247.5,468.8 L249.0,471.2 L250.5,466.2 L252.5,458.8 L254.5,455.0 L256.5,457.5 L258.5,461.2 L260.5,465.0 L262.5,468.0 L264.5,469.5 L266.5,467.5 L268.5,464.5 L270.5,461.2 L272.5,457.5 L274.5,452.5 L276.5,447.5 L278.5,443.8 L280.5,442.0 L282.5,441.2 L284.5,440.5 L286.5,440.0 L288.0,442.0 L290.0,447.5 L292.0,452.5 L294.0,455.0 L296.0,453.8 L298.0,450.0 L300.0,446.2 L302.0,445.0 L304.0,445.5 L306.0,446.2 L308.0,448.8 L310.0,452.5 L312.0,460.0 L314.0,466.2 L315.5,468.8 L317.0,462.5 L318.5,451.2 L320.0,443.8 L322.0,440.5 L324.0,438.8 L325.5,440.0 L327.0,450.0 L328.5,460.0 L330.0,465.0 L332.0,466.2 L333.5,460.0 L334.5,443.8 L335.5,441.2 L336.5,442.5 L337.5,460.0 L338.5,468.8 L340.5,469.5 L342.5,467.5 L344.5,469.5 L346.5,471.2 L348.5,471.2 L350.5,469.5 L352.5,467.5 L354.5,463.8 L356.0,458.8 L357.5,460.0 L359.0,467.5 L360.5,475.0 L361.5,476.2 L362.5,470.0 L363.5,461.2 L365.0,455.0 L366.5,443.8 L368.0,437.5 L370.0,434.5 L372.0,433.0 L374.0,433.8 L376.0,437.5 L378.0,443.8 L380.0,448.8 L382.0,450.0 L384.0,448.8 L386.0,446.2 L388.0,443.0 L390.0,441.2 L392.0,440.5 L394.0,441.2 L396.0,443.8 L398.0,448.0 L400.0,452.0 L402.0,453.8 L404.0,453.8 L406.0,455.0 L408.0,457.0 L410.0,456.2 L412.0,453.8 L414.0,453.0 L416.0,453.0 L418.0,454.5 L420.0,456.2 L422.0,458.0 L423.8,459.2 L426.0,460.0 L428.0,460.5 L430.0,460.0 L432.0,462.5 L434.0,467.5 L436.0,472.5 L438.0,475.0 L439.5,471.2 L441.0,463.8 L442.5,457.5 L444.0,453.8 L445.5,454.5 L447.0,460.0 L448.5,468.8 L450.0,475.0 L452.0,479.5 L454.0,480.5 L456.0,480.0 L458.0,478.8 L460.0,475.0 L462.0,472.0 L464.0,473.0 L466.0,477.0 L468.0,477.5 L470.0,477.5 L472.0,477.0 L474.0,476.2 L476.0,475.0 L477.5,471.2 L479.0,466.2 L480.5,463.0 L482.5,462.0 L485.0,461.2 L487.5,461.2 L490.0,462.5 L492.0,466.2 L494.0,471.2 L496.0,475.0 L497.5,477.0 L499.0,470.0 L500.5,458.8 L502.0,456.2 L503.5,460.0 L505.5,463.8 L507.5,467.5 L509.5,472.0 L511.5,473.8 L514.0,474.5 L516.5,474.5 L519.0,475.0 L521.0,475.5 L522.5,477.0 L524.0,471.2 L525.5,457.5 L526.5,450.0 L527.5,452.5 L529.0,460.0 L531.0,465.0 L533.0,466.2 L535.0,466.2 L537.0,465.5 L538.5,461.2 L540.0,455.0 L541.0,453.8 L542.0,460.0 L543.5,470.0 L545.0,482.5 L546.5,485.0 L548.0,475.0 L550.0,466.2 L552.0,462.5 L554.0,461.2 L556.0,462.0 L558.0,463.8 L560.0,466.2 L562.0,471.2 L564.0,480.0 L566.0,490.0 L568.0,497.5 L569.0,498.8 L570.0,492.5 L571.5,480.0 L573.0,467.5 L574.5,458.8 L576.0,453.8 L577.0,453.0 L578.5,456.2 L580.0,461.2 L581.5,466.2 L583.0,471.2 L584.5,473.8 L586.0,475.0 L587.5,480.0 L589.0,490.0 L590.5,497.5 L591.5,498.8 L592.5,492.5 L593.5,482.5 L594.5,472.5 L595.5,466.2 L596.8,474.5 L598.5,476.2 L600.2,476.7 L601.5,474.5 L602.7,470.3 L604.0,467.1 L605.3,471.4 L606.6,472.4 L607.8,469.2 L609.1,467.1 L610.4,468.2 L611.6,470.3 L613.4,472.4 L615.0,475.6 L616.8,479.9 L618.4,484.1 L619.7,487.7 L621.0,489.4 L621.8,486.2 L622.7,480.9 L623.5,487.3 L624.8,492.6 L626.1,495.3 L627.4,495.8 L628.2,490.5 L629.1,480.9 L629.9,471.4 L630.8,466.1 L631.6,468.2 L632.5,461.8 L633.3,455.4 L634.1,450.1 L635.4,446.9 L636.7,446.9 L638.0,448.6 L639.7,449.5 L641.4,449.1 L643.1,449.5 L644.8,451.6 L646.5,455.4 L648.2,459.3 L649.9,461.8 L651.1,460.7 L652.4,462.9 L653.7,467.1 L655.0,470.3 L655.8,467.1 L656.6,458.6 L657.9,449.1 L659.2,445.2 L660.5,445.2 L661.8,448.0 L663.5,453.3 L665.1,457.6 L666.8,460.7 L668.5,461.8 L670.2,459.7 L671.5,453.3 L672.8,443.8 L674.1,433.1 L675.3,425.7 L676.6,423.6 L677.9,428.9 L679.1,437.4 L680.4,440.6 L681.7,435.3 L683.0,424.7 L684.2,414.0 L685.5,407.7 L686.8,407.0 L687.6,411.9 L688.9,424.7 L690.2,437.4 L691.5,445.9 L692.7,450.1 L694.0,450.1 L695.3,441.6 L696.6,428.9 L697.8,419.4 L699.1,418.3 L700.4,424.7 L701.6,432.1 L702.9,434.9 L704.6,434.2 L706.3,430.6 L708.0,427.4 L709.7,426.1 L711.4,427.8 L712.7,433.1 L714.0,439.5 L715.2,444.8 L716.5,448.6 L717.4,455.4 L718.6,461.8 L719.5,457.6 L720.3,452.2 L721.6,450.1 L723.3,451.6 L724.6,454.4 L725.9,460.7 L727.1,467.1 L728.4,472.4 L729.7,477.7 L731.0,480.9 L732.2,481.3 L733.9,478.8 L735.6,475.6 L737.3,472.0 L739.0,469.2 L740.7,469.2 L742.0,469.9 L743.3,466.1 L744.1,460.7 L745.4,458.6" stroke="#7e2f8e" stroke-width="1.45" stroke-dasharray="4.2,2" stroke-linecap="butt"/>
</g>
<rect x="54.9" y="7.4" width="690.95" height="245.15" fill="none" stroke="#cccccc" stroke-width="1.3"/>
<rect x="54.9" y="267.7" width="690.95" height="245.09999999999997" fill="none" stroke="#cccccc" stroke-width="1.3"/>
<g class="tk" text-anchor="end">
<text x="44.0" y="257.6">0</text>
<text x="44.0" y="222.5">50</text>
<text x="44.0" y="187.5">100</text>
<text x="44.0" y="152.5">150</text>
<text x="44.0" y="117.5">200</text>
<text x="44.0" y="82.4">250</text>
<text x="44.0" y="47.4">300</text>
<text x="44.0" y="12.4">350</text>
<text x="44.0" y="517.8">−2</text>
<text x="44.0" y="473.2">0</text>
<text x="44.0" y="428.7">2</text>
<text x="44.0" y="384.1">4</text>
<text x="44.0" y="339.5">6</text>
<text x="44.0" y="295.0">8</text>
</g>
<g class="tk" text-anchor="middle">
<text x="55.2" y="533.9">2020</text>
<text x="180.8" y="533.9">2000</text>
<text x="306.5" y="533.9">1980</text>
<text x="432.1" y="533.9">1960</text>
<text x="557.7" y="533.9">1940</text>
<text x="683.3" y="533.9">1920</text>
</g>
<text x="400.4" y="552.7" text-anchor="middle" font-size="16.3" font-weight="bold">Year</text>
<text transform="translate(12.3,130.9) rotate(-90)" text-anchor="middle" font-size="13.45" font-weight="bold">Amount (mm)</text>
<rect x="61.3" y="13.9" width="277.6" height="74.9" rx="2.5" ry="2.5" fill="#ffffff" fill-opacity="0.82" stroke="#cccccc" stroke-width="1"/>
<text x="199.6" y="28.1" text-anchor="middle" font-size="13.65">2-year running average</text>
<g class="lg">
<path d="M65.9,41.9 H91.4" stroke="#3cc8f0" stroke-width="1.7" fill="none"/><text x="101.2" y="46.5">Mangaia</text>
<path d="M65.9,59.6 H91.4" stroke="#1e8c1e" stroke-width="1.7" fill="none"/><text x="101.2" y="64.2">Aitutaki</text>
<path d="M65.9,77.4 H91.4" stroke="#8c0f2d" stroke-width="1.7" fill="none"/><text x="101.2" y="82.0">Rarotonga</text>
<path d="M183.0,41.9 H208.6" stroke="#ff00ff" stroke-width="1.7" fill="none"/><text x="218.2" y="46.5">Atiu</text>
<path d="M183.0,59.6 H208.6" stroke="#000000" stroke-width="1.7" fill="none"/><text x="218.2" y="64.2">Mean total</text>
<path d="M183.0,77.4 H208.6" stroke="#3b4bf0" stroke-width="1.7" fill="none"/><text x="218.2" y="82.0">Calculated infiltration</text>
</g>
<rect x="60.6" y="273.6" width="128.3" height="73.6" rx="2.5" ry="2.5" fill="#ffffff" fill-opacity="0.8" stroke="#cccccc" stroke-width="1"/>
<g class="lg2">
<path d="M65.4,283.8 H90.9" stroke="#0072bd" stroke-width="1.3" fill="none"/><text x="100.2" y="288.2">T2 PCA-A PC1</text>
<path d="M65.4,301.0 H90.9" stroke="#d95319" stroke-width="1.3" fill="none"/><text x="100.2" y="305.4">T2 PCA-A PC2</text>
<path d="M65.4,318.3 H90.9" stroke="#edb120" stroke-width="1.3" fill="none" stroke-dasharray="4.6,2"/><text x="100.2" y="322.7">T2 PCA-B PC1</text>
<path d="M65.4,335.5 H90.9" stroke="#7e2f8e" stroke-width="1.3" fill="none" stroke-dasharray="4.6,2"/><text x="100.2" y="339.9">T2 PCA-B PC2</text>
</g>
</svg></body></html>
